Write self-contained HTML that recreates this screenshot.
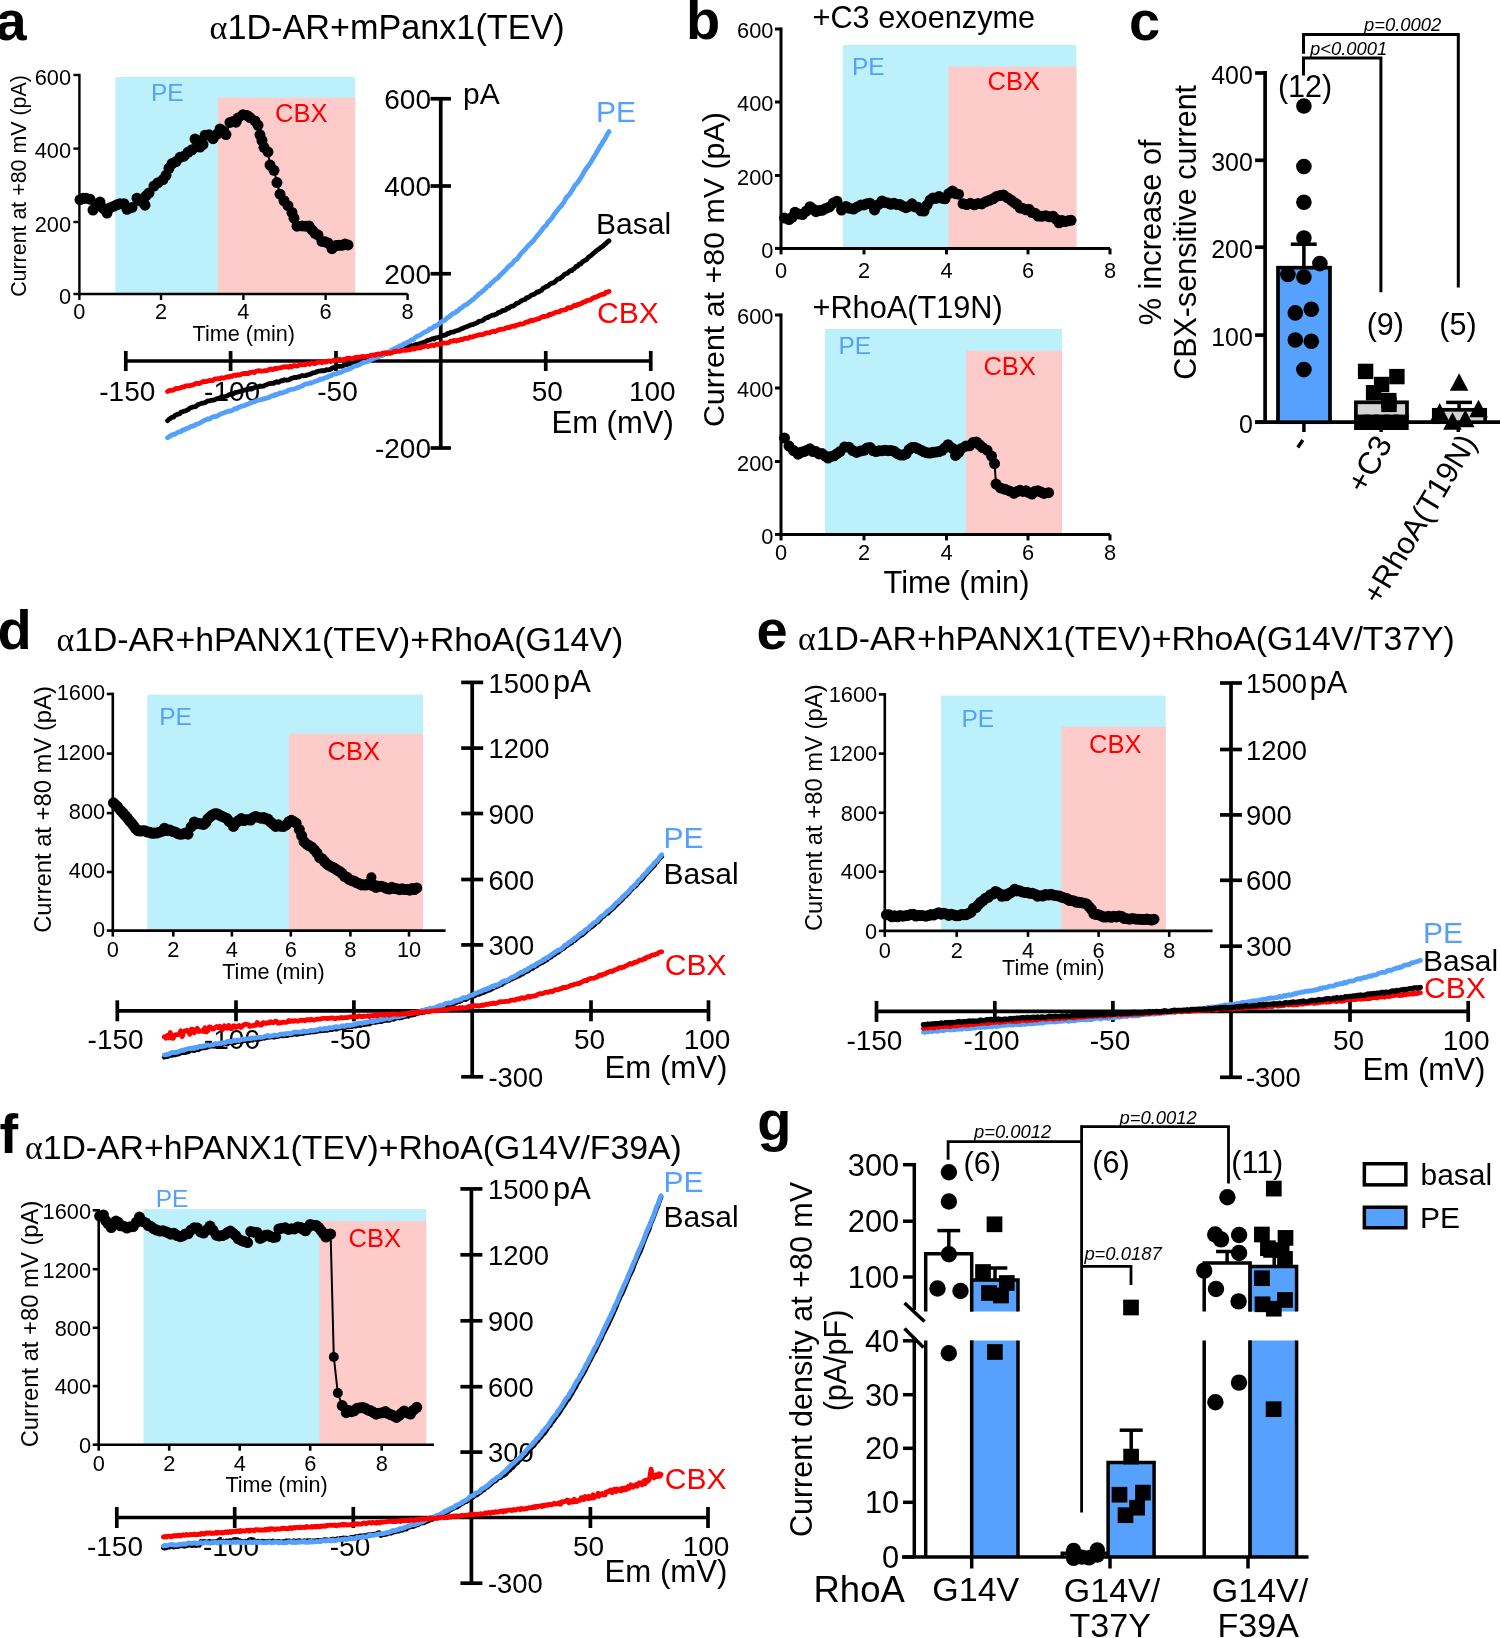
<!DOCTYPE html>
<html><head><meta charset="utf-8"><style>
html,body{margin:0;padding:0;background:#fff;overflow:hidden;width:1500px;height:1638px;}
svg{display:block;will-change:transform;}
text{font-family:"Liberation Sans",sans-serif;}
</style></head><body>
<svg width="1500" height="1638" viewBox="0 0 1500 1638">
<rect width="1500" height="1638" fill="#fff"/>
<text x="-4.4" y="39.5" font-size="56" font-weight="bold">a</text>
<text x="209.5" y="39" font-size="34.2"><tspan font-family="'Liberation Serif', serif">&#945;</tspan>1D-AR+mPanx1(TEV)</text>
<rect x="115.4" y="77" width="239.8" height="217" fill="#bcf1fc"/>
<rect x="218" y="97.6" width="137.2" height="196.4" fill="#fecbcb"/>
<text x="151" y="100.6" font-size="24.5" fill="#55a0fb">PE</text>
<text x="275" y="122" font-size="25.5" fill="#fe0000">CBX</text>
<line x1="79.4" y1="295.2" x2="79.4" y2="73.8" stroke="#000" stroke-width="2.4" stroke-linecap="butt"/>
<line x1="78.2" y1="294" x2="407.6" y2="294" stroke="#000" stroke-width="2.4" stroke-linecap="butt"/>
<line x1="73.4" y1="75" x2="79.4" y2="75" stroke="#000" stroke-width="2.4" stroke-linecap="butt"/>
<text x="71.1" y="84.6" font-size="21.8" text-anchor="end">600</text>
<line x1="73.4" y1="148.6" x2="79.4" y2="148.6" stroke="#000" stroke-width="2.4" stroke-linecap="butt"/>
<text x="71.1" y="158.2" font-size="21.8" text-anchor="end">400</text>
<line x1="73.4" y1="222" x2="79.4" y2="222" stroke="#000" stroke-width="2.4" stroke-linecap="butt"/>
<text x="71.1" y="231.6" font-size="21.8" text-anchor="end">200</text>
<line x1="73.4" y1="294" x2="79.4" y2="294" stroke="#000" stroke-width="2.4" stroke-linecap="butt"/>
<text x="71.1" y="303.6" font-size="21.8" text-anchor="end">0</text>
<line x1="79.4" y1="294" x2="79.4" y2="300" stroke="#000" stroke-width="2.4" stroke-linecap="butt"/>
<text x="79.4" y="318.5" font-size="21.8" text-anchor="middle">0</text>
<line x1="161" y1="294" x2="161" y2="300" stroke="#000" stroke-width="2.4" stroke-linecap="butt"/>
<text x="161" y="318.5" font-size="21.8" text-anchor="middle">2</text>
<line x1="243.4" y1="294" x2="243.4" y2="300" stroke="#000" stroke-width="2.4" stroke-linecap="butt"/>
<text x="243.4" y="318.5" font-size="21.8" text-anchor="middle">4</text>
<line x1="325.6" y1="294" x2="325.6" y2="300" stroke="#000" stroke-width="2.4" stroke-linecap="butt"/>
<text x="325.6" y="318.5" font-size="21.8" text-anchor="middle">6</text>
<line x1="407.6" y1="294" x2="407.6" y2="300" stroke="#000" stroke-width="2.4" stroke-linecap="butt"/>
<text x="407.6" y="318.5" font-size="21.8" text-anchor="middle">8</text>
<text x="243.8" y="341" font-size="21.6" text-anchor="middle">Time (min)</text>
<text x="26" y="186" font-size="21.4" text-anchor="middle" transform="rotate(-90 26 186)">Current at +80 mV (pA)</text>
<polyline points="80,199.65 83,198.3 86,198.3 90,199.14 93,210.07 96.5,206.23 100,202.12 103.5,208.51 107,213.07 110,207.87 114,206.14 117,204.68 120,203.85 124,203.65 127,209.25 132,207.45 137,198.25 140,200.9 145,205.15 146,195.79 149,192.95 154,186.09 158,182.72 163,179.58 166,175.29 169,168.24 172,163.62 176,161.63 180,157.36 184,156.16 188,152.28 192,149.74 195,139.1 198,141.13 200,147.12 203,144.41 205,135.36 209,134.86 213,138.63 217,134.17 220,128.91 223,131.1 226,134.59 230,122.4 233,121.49 236,122.15 238,118.05 243,114.75 247,115.46 250,117.58 255,120.96 258,125.24 260,134.84 262,140.51 264,147.3 268,151.98 270,165.08 274,170.34 277,182.53 280,194.15 284,200.75 288,205.63 292,212.39 294,218.19 297,226.16 302,225.91 305.5,226.18 309,225.89 312,229.95 315,233.33 318,235.12 322,241.4 325,241.79 328,242.99 332,248.64 336,245.57 339,245.27 342,245.34 345,244.05 348,244.92" fill="none" stroke="#000" stroke-width="2" stroke-linejoin="round" stroke-linecap="butt"/>
<circle cx="80" cy="199.65" r="5.5" fill="#000"/>
<circle cx="83" cy="198.3" r="5.5" fill="#000"/>
<circle cx="86" cy="198.3" r="5.5" fill="#000"/>
<circle cx="90" cy="199.14" r="5.5" fill="#000"/>
<circle cx="93" cy="210.07" r="5.5" fill="#000"/>
<circle cx="96.5" cy="206.23" r="5.5" fill="#000"/>
<circle cx="100" cy="202.12" r="5.5" fill="#000"/>
<circle cx="103.5" cy="208.51" r="5.5" fill="#000"/>
<circle cx="107" cy="213.07" r="5.5" fill="#000"/>
<circle cx="110" cy="207.87" r="5.5" fill="#000"/>
<circle cx="114" cy="206.14" r="5.5" fill="#000"/>
<circle cx="117" cy="204.68" r="5.5" fill="#000"/>
<circle cx="120" cy="203.85" r="5.5" fill="#000"/>
<circle cx="124" cy="203.65" r="5.5" fill="#000"/>
<circle cx="127" cy="209.25" r="5.5" fill="#000"/>
<circle cx="132" cy="207.45" r="5.5" fill="#000"/>
<circle cx="137" cy="198.25" r="5.5" fill="#000"/>
<circle cx="140" cy="200.9" r="5.5" fill="#000"/>
<circle cx="145" cy="205.15" r="5.5" fill="#000"/>
<circle cx="146" cy="195.79" r="5.5" fill="#000"/>
<circle cx="149" cy="192.95" r="5.5" fill="#000"/>
<circle cx="154" cy="186.09" r="5.5" fill="#000"/>
<circle cx="158" cy="182.72" r="5.5" fill="#000"/>
<circle cx="163" cy="179.58" r="5.5" fill="#000"/>
<circle cx="166" cy="175.29" r="5.5" fill="#000"/>
<circle cx="169" cy="168.24" r="5.5" fill="#000"/>
<circle cx="172" cy="163.62" r="5.5" fill="#000"/>
<circle cx="176" cy="161.63" r="5.5" fill="#000"/>
<circle cx="180" cy="157.36" r="5.5" fill="#000"/>
<circle cx="184" cy="156.16" r="5.5" fill="#000"/>
<circle cx="188" cy="152.28" r="5.5" fill="#000"/>
<circle cx="192" cy="149.74" r="5.5" fill="#000"/>
<circle cx="195" cy="139.1" r="5.5" fill="#000"/>
<circle cx="198" cy="141.13" r="5.5" fill="#000"/>
<circle cx="200" cy="147.12" r="5.5" fill="#000"/>
<circle cx="203" cy="144.41" r="5.5" fill="#000"/>
<circle cx="205" cy="135.36" r="5.5" fill="#000"/>
<circle cx="209" cy="134.86" r="5.5" fill="#000"/>
<circle cx="213" cy="138.63" r="5.5" fill="#000"/>
<circle cx="217" cy="134.17" r="5.5" fill="#000"/>
<circle cx="220" cy="128.91" r="5.5" fill="#000"/>
<circle cx="223" cy="131.1" r="5.5" fill="#000"/>
<circle cx="226" cy="134.59" r="5.5" fill="#000"/>
<circle cx="230" cy="122.4" r="5.5" fill="#000"/>
<circle cx="233" cy="121.49" r="5.5" fill="#000"/>
<circle cx="236" cy="122.15" r="5.5" fill="#000"/>
<circle cx="238" cy="118.05" r="5.5" fill="#000"/>
<circle cx="243" cy="114.75" r="5.5" fill="#000"/>
<circle cx="247" cy="115.46" r="5.5" fill="#000"/>
<circle cx="250" cy="117.58" r="5.5" fill="#000"/>
<circle cx="255" cy="120.96" r="5.5" fill="#000"/>
<circle cx="258" cy="125.24" r="5.5" fill="#000"/>
<circle cx="260" cy="134.84" r="5.5" fill="#000"/>
<circle cx="262" cy="140.51" r="5.5" fill="#000"/>
<circle cx="264" cy="147.3" r="5.5" fill="#000"/>
<circle cx="268" cy="151.98" r="5.5" fill="#000"/>
<circle cx="270" cy="165.08" r="5.5" fill="#000"/>
<circle cx="274" cy="170.34" r="5.5" fill="#000"/>
<circle cx="277" cy="182.53" r="5.5" fill="#000"/>
<circle cx="280" cy="194.15" r="5.5" fill="#000"/>
<circle cx="284" cy="200.75" r="5.5" fill="#000"/>
<circle cx="288" cy="205.63" r="5.5" fill="#000"/>
<circle cx="292" cy="212.39" r="5.5" fill="#000"/>
<circle cx="294" cy="218.19" r="5.5" fill="#000"/>
<circle cx="297" cy="226.16" r="5.5" fill="#000"/>
<circle cx="302" cy="225.91" r="5.5" fill="#000"/>
<circle cx="305.5" cy="226.18" r="5.5" fill="#000"/>
<circle cx="309" cy="225.89" r="5.5" fill="#000"/>
<circle cx="312" cy="229.95" r="5.5" fill="#000"/>
<circle cx="315" cy="233.33" r="5.5" fill="#000"/>
<circle cx="318" cy="235.12" r="5.5" fill="#000"/>
<circle cx="322" cy="241.4" r="5.5" fill="#000"/>
<circle cx="325" cy="241.79" r="5.5" fill="#000"/>
<circle cx="328" cy="242.99" r="5.5" fill="#000"/>
<circle cx="332" cy="248.64" r="5.5" fill="#000"/>
<circle cx="336" cy="245.57" r="5.5" fill="#000"/>
<circle cx="339" cy="245.27" r="5.5" fill="#000"/>
<circle cx="342" cy="245.34" r="5.5" fill="#000"/>
<circle cx="345" cy="244.05" r="5.5" fill="#000"/>
<circle cx="348" cy="244.92" r="5.5" fill="#000"/>
<line x1="125.8" y1="361" x2="650.75" y2="361" stroke="#000" stroke-width="3.7" stroke-linecap="butt"/>
<line x1="440.75" y1="98.75" x2="440.75" y2="448" stroke="#000" stroke-width="3.7" stroke-linecap="butt"/>
<line x1="125.8" y1="351" x2="125.8" y2="371" stroke="#000" stroke-width="3.7" stroke-linecap="butt"/>
<line x1="230.6" y1="351" x2="230.6" y2="371" stroke="#000" stroke-width="3.7" stroke-linecap="butt"/>
<line x1="336" y1="351" x2="336" y2="371" stroke="#000" stroke-width="3.7" stroke-linecap="butt"/>
<line x1="545.75" y1="351" x2="545.75" y2="371" stroke="#000" stroke-width="3.7" stroke-linecap="butt"/>
<line x1="650.75" y1="351" x2="650.75" y2="371" stroke="#000" stroke-width="3.7" stroke-linecap="butt"/>
<line x1="430.55" y1="98.75" x2="450.95" y2="98.75" stroke="#000" stroke-width="3.7" stroke-linecap="butt"/>
<line x1="430.55" y1="186" x2="450.95" y2="186" stroke="#000" stroke-width="3.7" stroke-linecap="butt"/>
<line x1="430.55" y1="273.75" x2="450.95" y2="273.75" stroke="#000" stroke-width="3.7" stroke-linecap="butt"/>
<line x1="430.55" y1="448" x2="450.95" y2="448" stroke="#000" stroke-width="3.7" stroke-linecap="butt"/>
<text x="431" y="108.77" font-size="28" text-anchor="end">600</text>
<text x="431" y="196.02" font-size="28" text-anchor="end">400</text>
<text x="431" y="283.77" font-size="28" text-anchor="end">200</text>
<text x="431" y="458.02" font-size="28" text-anchor="end">-200</text>
<text x="127.3" y="400.8" font-size="28" text-anchor="middle">-150</text>
<text x="232.1" y="400.8" font-size="28" text-anchor="middle">-100</text>
<text x="337.5" y="400.8" font-size="28" text-anchor="middle">-50</text>
<text x="547.25" y="400.8" font-size="28" text-anchor="middle">50</text>
<text x="652.25" y="400.8" font-size="28" text-anchor="middle">100</text>
<text x="463" y="103.75" font-size="30">pA</text>
<text x="551.5" y="432.9" font-size="31">Em (mV)</text>
<polyline points="167.6,420.67 169.1,419.25 170.59,418.21 172.09,417.18 173.59,417.11 175.08,415.45 176.58,414.72 178.07,414.05 179.57,413.82 181.07,412.08 182.56,411.75 184.06,411.13 185.56,410.8 187.05,410.02 188.55,409.4 190.04,408.03 191.54,407.55 193.04,406.85 194.53,406.87 196.03,406.37 197.53,404.81 199.02,404.28 200.52,403.79 202.01,403.24 203.51,403.01 205.01,402.61 206.5,401.7 208,400.89 209.5,400.88 210.99,400.33 212.49,400.07 213.98,400.05 215.48,399.26 216.98,398.57 218.47,398.22 219.97,397.83 221.47,396.62 222.96,397.18 224.46,396.59 225.95,396.25 227.45,395.72 228.95,394.79 230.44,394.36 231.94,393.58 233.44,393.79 234.93,392.68 236.43,392.26 237.92,392.01 239.42,391.54 240.92,391.34 242.41,390.59 243.91,390.12 245.41,389.9 246.9,389.44 248.4,389.35 249.89,388.55 251.39,389.18 252.89,388.47 254.38,387.52 255.88,387.26 257.38,386.99 258.87,386.62 260.37,385.95 261.87,386.43 263.36,386.23 264.86,385.21 266.35,384.85 267.85,384 269.35,383.64 270.84,383.55 272.34,383.08 273.84,383.37 275.33,382.2 276.83,381.65 278.32,382.39 279.82,381.51 281.32,380.67 282.81,380.77 284.31,379.77 285.81,380 287.3,380.16 288.8,379.65 290.29,379.07 291.79,378.18 293.29,377.93 294.78,377.31 296.28,377.66 297.78,377 299.27,376.92 300.77,376 302.26,375.5 303.76,375.83 305.26,375.66 306.75,375.12 308.25,374.69 309.75,374.33 311.24,373.86 312.74,372.86 314.23,372.83 315.73,372.26 317.23,371.49 318.72,371.11 320.22,371.03 321.72,370.62 323.21,370.76 324.71,370.7 326.2,369.7 327.7,369.91 329.2,369.58 330.69,369.16 332.19,368.06 333.69,367.51 335.18,367.13 336.68,366.7 338.17,366.32 339.67,366.44 341.17,366.38 342.66,365.92 344.16,365.09 345.66,364.9 347.15,364.69 348.65,363.43 350.15,363.73 351.64,363.63 353.14,363.08 354.63,362.64 356.13,361.91 357.63,361.15 359.12,361.48 360.62,360.53 362.12,360.69 363.61,360.49 365.11,359.39 366.6,358.98 368.1,359.23 369.6,358.55 371.09,357.47 372.59,357 374.09,356.62 375.58,357.1 377.08,356.56 378.57,355.35 380.07,355.74 381.57,355.5 383.06,354.69 384.56,353.9 386.06,353.7 387.55,352.77 389.05,352.2 390.54,352.91 392.04,352.09 393.54,351.5 395.03,351.55 396.53,350.51 398.03,350.59 399.52,350.09 401.02,348.9 402.51,348.5 404.01,348.1 405.51,347.58 407,347.54 408.5,346.69 410,346.42 411.49,345.6 412.99,346.07 414.48,344.93 415.98,344.59 417.48,344.26 418.97,344.17 420.47,343.11 421.97,343.22 423.46,342.23 424.96,341.78 426.45,341.28 427.95,340.17 429.45,340.18 430.94,339.37 432.44,338.65 433.94,339.09 435.43,337.83 436.93,337.67 438.43,337.45 439.92,336.73 441.42,335.92 442.91,335.62 444.41,335.13 445.91,334.87 447.4,333.51 448.9,333.51 450.4,332.59 451.89,332.07 453.39,332.1 454.88,331.23 456.38,330.72 457.88,330.39 459.37,330 460.87,328.86 462.37,328.48 463.86,327.76 465.36,327.17 466.85,326.79 468.35,325.9 469.85,325.39 471.34,324.72 472.84,324.66 474.34,323.74 475.83,323.33 477.33,322.78 478.82,321.32 480.32,321.04 481.82,320.86 483.31,320.08 484.81,318.58 486.31,317.9 487.8,317.62 489.3,316.5 490.79,316.03 492.29,315.14 493.79,315.17 495.28,314.61 496.78,314.05 498.28,312.45 499.77,312.41 501.27,311.63 502.76,310.29 504.26,310.44 505.76,309.81 507.25,308.17 508.75,308.3 510.25,306.88 511.74,306.23 513.24,306.07 514.73,305.11 516.23,303.52 517.73,303.06 519.22,302.37 520.72,301.36 522.22,300.38 523.71,299.72 525.21,299.38 526.71,297.72 528.2,297.53 529.7,296.55 531.19,295.2 532.69,294.72 534.19,294.21 535.68,293.21 537.18,291.8 538.68,292.02 540.17,290.9 541.67,290.22 543.16,288.28 544.66,287.56 546.16,286.37 547.65,286.33 549.15,284.79 550.65,283.68 552.14,283.08 553.64,282.71 555.13,281.64 556.63,279.99 558.13,278.88 559.62,278.82 561.12,277.4 562.62,276.55 564.11,274.81 565.61,273.75 567.1,273.48 568.6,272.12 570.1,270.65 571.59,270.64 573.09,269.21 574.59,268.34 576.08,266.4 577.58,266.24 579.07,264.2 580.57,264.04 582.07,262.44 583.56,261.18 585.06,260.3 586.56,259.61 588.05,257.67 589.55,256.34 591.04,255.65 592.54,254.13 594.04,252.79 595.53,251.65 597.03,250.31 598.53,249.28 600.02,248.19 601.52,246.95 603.01,246.25 604.51,244.43 606.01,243.42 607.5,241.76 609,240.86" fill="none" stroke="#000" stroke-width="4.8" stroke-linejoin="round" stroke-linecap="round"/>
<polyline points="167.6,437.67 169.1,436.73 170.59,435.59 172.09,435.12 173.59,434.11 175.08,434.24 176.58,433.3 178.07,432.14 179.57,431.77 181.07,431.62 182.56,429.93 184.06,430.09 185.56,428.94 187.05,428.33 188.55,428.06 190.04,426.86 191.54,426.33 193.04,425.88 194.53,425.58 196.03,424.16 197.53,424.11 199.02,423.31 200.52,422.59 202.01,421.68 203.51,420.99 205.01,420.01 206.5,419.49 208,418.8 209.5,419 210.99,417.81 212.49,417.1 213.98,416.41 215.48,416.72 216.98,416.17 218.47,415.35 219.97,414.3 221.47,413.67 222.96,413.16 224.46,412.79 225.95,411.86 227.45,411.64 228.95,410.86 230.44,411.14 231.94,410.6 233.44,409.54 234.93,408.63 236.43,408.94 237.92,407.61 239.42,407.13 240.92,406.16 242.41,406.08 243.91,405.66 245.41,405.16 246.9,404.27 248.4,404.11 249.89,402.99 251.39,402.77 252.89,402.04 254.38,401.89 255.88,400.95 257.38,400.41 258.87,400.23 260.37,399.63 261.87,399.54 263.36,398.96 264.86,398.72 266.35,398.1 267.85,397.66 269.35,397.35 270.84,396.25 272.34,395.67 273.84,395.96 275.33,394.45 276.83,394.64 278.32,394.03 279.82,392.81 281.32,393.26 282.81,392.82 284.31,392 285.81,391.63 287.3,391.22 288.8,389.91 290.29,389.86 291.79,389.33 293.29,389.23 294.78,388.68 296.28,388.2 297.78,387.41 299.27,387.27 300.77,386.51 302.26,386.01 303.76,384.94 305.26,384.19 306.75,383.8 308.25,383.56 309.75,382.74 311.24,383.1 312.74,382.24 314.23,381.81 315.73,381.28 317.23,380.82 318.72,380.07 320.22,378.95 321.72,379.38 323.21,378.78 324.71,377.95 326.2,377.45 327.7,377.06 329.2,375.81 330.69,376.07 332.19,374.94 333.69,374.17 335.18,373.85 336.68,373.85 338.17,372.66 339.67,372.74 341.17,372.45 342.66,371.31 344.16,370.6 345.66,370.14 347.15,369.8 348.65,369.32 350.15,368.55 351.64,367.99 353.14,366.72 354.63,366.2 356.13,365.73 357.63,365.7 359.12,364.57 360.62,364.27 362.12,362.98 363.61,362.41 365.11,362.03 366.6,361.88 368.1,361.26 369.6,360.6 371.09,359.49 372.59,359.1 374.09,358.38 375.58,357.72 377.08,356.63 378.57,356.89 380.07,355.37 381.57,355.62 383.06,354.88 384.56,353.08 386.06,352.9 387.55,352.63 389.05,352.09 390.54,350.74 392.04,349.8 393.54,348.99 395.03,349.13 396.53,347.51 398.03,347.2 399.52,345.91 401.02,345.6 402.51,345.34 404.01,343.58 405.51,343.61 407,342.45 408.5,342.1 410,341.07 411.49,339.69 412.99,339.66 414.48,338.34 415.98,336.95 417.48,336.07 418.97,335.81 420.47,334.9 421.97,333.85 423.46,332.78 424.96,332.13 426.45,331.21 427.95,330.93 429.45,329.02 430.94,329 432.44,328.17 433.94,326.38 435.43,326.4 436.93,325.19 438.43,324.45 439.92,322.75 441.42,321.86 442.91,320.9 444.41,320.62 445.91,319.12 447.4,317.83 448.9,316.88 450.4,315.66 451.89,314.34 453.39,313.35 454.88,313.16 456.38,311.42 457.88,311.11 459.37,309.19 460.87,308.1 462.37,307.28 463.86,305.76 465.36,304.84 466.85,304.39 468.35,303.14 469.85,301.88 471.34,300.48 472.84,299.62 474.34,298.45 475.83,296.76 477.33,295.74 478.82,293.69 480.32,293.26 481.82,291.66 483.31,290.74 484.81,289.33 486.31,287.6 487.8,286 489.3,285.73 490.79,283.43 492.29,282.5 493.79,280.98 495.28,279.55 496.78,278.7 498.28,277.58 499.77,275.31 501.27,274.36 502.76,272.5 504.26,271.35 505.76,269.69 507.25,267.94 508.75,266.45 510.25,265 511.74,264.32 513.24,262.29 514.73,260.41 516.23,259.68 517.73,258.21 519.22,255.97 520.72,253.99 522.22,252.44 523.71,250.69 525.21,249.35 526.71,247.39 528.2,245.89 529.7,244.22 531.19,242.89 532.69,241.56 534.19,239.66 535.68,237.5 537.18,235.74 538.68,234.09 540.17,232.12 541.67,230.26 543.16,228.11 544.66,226.52 546.16,225.5 547.65,222.61 549.15,221.18 550.65,219.42 552.14,217.78 553.64,215.07 555.13,213.18 556.63,211.18 558.13,209.37 559.62,207.43 561.12,206.02 562.62,203.85 564.11,201.83 565.61,198.73 567.1,196.66 568.6,195.37 570.1,193.47 571.59,190.82 573.09,188.8 574.59,185.92 576.08,184.19 577.58,182.63 579.07,180.28 580.57,178.07 582.07,175.94 583.56,172.79 585.06,170.32 586.56,168.06 588.05,166.16 589.55,163.99 591.04,161.93 592.54,159.27 594.04,156.77 595.53,154.48 597.03,151.66 598.53,149.31 600.02,146.2 601.52,144.59 603.01,141.4 604.51,139.68 606.01,136.78 607.5,133.78 609,131.41" fill="none" stroke="#55a0fb" stroke-width="4.8" stroke-linejoin="round" stroke-linecap="round"/>
<polyline points="167.6,391.48 169.1,390.59 170.59,390.31 172.09,390.34 173.59,389.98 175.08,388.86 176.58,388.39 178.07,388.52 179.57,388.18 181.07,387.54 182.56,386.94 184.06,387 185.56,385.9 187.05,385.86 188.55,385.66 190.04,385.88 191.54,385.12 193.04,385.04 194.53,384.17 196.03,383.52 197.53,383.17 199.02,383.67 200.52,383.01 202.01,382.18 203.51,381.49 205.01,381.71 206.5,381.58 208,380.94 209.5,380.41 210.99,380.57 212.49,380.55 213.98,379.39 215.48,378.84 216.98,378.88 218.47,378.66 219.97,378.67 221.47,377.78 222.96,378.19 224.46,377.82 225.95,377.23 227.45,376.58 228.95,377.2 230.44,376.12 231.94,376.44 233.44,375.44 234.93,375.15 236.43,375.51 237.92,374.68 239.42,375.19 240.92,374.37 242.41,373.73 243.91,373.5 245.41,373.47 246.9,373.5 248.4,373.58 249.89,372.36 251.39,372.4 252.89,371.92 254.38,372.58 255.88,371.34 257.38,370.98 258.87,370.74 260.37,370.9 261.87,371.26 263.36,371 264.86,370.58 266.35,370.66 267.85,370.34 269.35,369.39 270.84,368.98 272.34,369.65 273.84,369.2 275.33,368.11 276.83,368.64 278.32,368.08 279.82,367.85 281.32,367.58 282.81,367.16 284.31,366.74 285.81,366.86 287.3,366.72 288.8,367.23 290.29,366.02 291.79,366.82 293.29,365.7 294.78,365.66 296.28,366.01 297.78,365.8 299.27,365.13 300.77,364.46 302.26,364.76 303.76,364.44 305.26,364.89 306.75,363.81 308.25,363.81 309.75,364.25 311.24,363 312.74,363.26 314.23,363.54 315.73,363.28 317.23,362.21 318.72,362 320.22,361.84 321.72,362.67 323.21,361.67 324.71,362.06 326.2,362.04 327.7,361.17 329.2,360.89 330.69,361.51 332.19,360.91 333.69,360.28 335.18,360.63 336.68,359.95 338.17,359.7 339.67,359.17 341.17,359.88 342.66,359.87 344.16,359.33 345.66,359.5 347.15,358.19 348.65,358.24 350.15,358.33 351.64,358.71 353.14,358.5 354.63,357.61 356.13,357.25 357.63,357.25 359.12,357.12 360.62,357.44 362.12,356.34 363.61,356.87 365.11,356.58 366.6,356.47 368.1,356.2 369.6,355.79 371.09,355.24 372.59,355.02 374.09,354.85 375.58,355.14 377.08,354.08 378.57,354 380.07,354.44 381.57,353.61 383.06,353.17 384.56,352.91 386.06,353.3 387.55,352.8 389.05,353.36 390.54,353.01 392.04,352.9 393.54,351.8 395.03,351.35 396.53,351.12 398.03,351.37 399.52,351.38 401.02,350.82 402.51,350.32 404.01,350.29 405.51,350.28 407,350.1 408.5,349.93 410,349.8 411.49,349.32 412.99,348.41 414.48,349.02 415.98,348.1 417.48,348.16 418.97,347.66 420.47,347.83 421.97,346.92 423.46,346.7 424.96,346.42 426.45,346.04 427.95,346.64 429.45,345.99 430.94,345.4 432.44,345.2 433.94,345.63 435.43,344.76 436.93,344.14 438.43,344.54 439.92,344.05 441.42,344.16 442.91,342.79 444.41,342.94 445.91,343.05 447.4,342.77 448.9,342.54 450.4,341.18 451.89,341.17 453.39,340.65 454.88,340.41 456.38,341.03 457.88,340.24 459.37,340.33 460.87,339.33 462.37,339.59 463.86,338.76 465.36,338.19 466.85,338.47 468.35,338.33 469.85,336.98 471.34,337.22 472.84,336.9 474.34,336.07 475.83,335.89 477.33,335.26 478.82,334.98 480.32,334.67 481.82,334.72 483.31,334.41 484.81,333.5 486.31,332.9 487.8,332.9 489.3,332.94 490.79,331.97 492.29,331.73 493.79,331.21 495.28,331.53 496.78,330.84 498.28,329.86 499.77,329.51 501.27,329.46 502.76,329.24 504.26,328.93 505.76,327.86 507.25,327.53 508.75,327.75 510.25,326.99 511.74,326.41 513.24,326.01 514.73,326.36 516.23,325.15 517.73,325.02 519.22,324.33 520.72,323.95 522.22,324.04 523.71,323.75 525.21,322.54 526.71,321.88 528.2,322.06 529.7,320.96 531.19,320.26 532.69,320.86 534.19,319.81 535.68,319.81 537.18,318.83 538.68,318.92 540.17,317.93 541.67,317.08 543.16,316.4 544.66,316.55 546.16,316.15 547.65,315.97 549.15,314.48 550.65,314.6 552.14,313.79 553.64,313.43 555.13,312.47 556.63,312.11 558.13,311.86 559.62,311.81 561.12,310.29 562.62,310.21 564.11,310.04 565.61,309.68 567.1,308.21 568.6,307.56 570.1,307.98 571.59,307.45 573.09,306.29 574.59,305.21 576.08,305.68 577.58,304.45 579.07,304.48 580.57,303.55 582.07,303.2 583.56,301.81 585.06,301.96 586.56,300.68 588.05,300.29 589.55,300.2 591.04,299.57 592.54,298.17 594.04,297.59 595.53,297.17 597.03,296.68 598.53,295.88 600.02,294.93 601.52,294.43 603.01,294.35 604.51,293.9 606.01,292.21 607.5,292.18 609,291.43" fill="none" stroke="#fe0000" stroke-width="4.8" stroke-linejoin="round" stroke-linecap="round"/>
<text x="596" y="122" font-size="30" fill="#55a0fb">PE</text>
<text x="596" y="234" font-size="30">Basal</text>
<text x="597" y="323" font-size="30" fill="#fe0000">CBX</text>
<text x="686" y="39" font-size="56" font-weight="bold">b</text>
<text x="812.5" y="27.6" font-size="30.7">+C3 exoenzyme</text>
<rect x="843" y="45" width="233.4" height="203.4" fill="#bcf1fc"/>
<rect x="948.6" y="66.6" width="127.8" height="181.8" fill="#fecbcb"/>
<text x="852" y="75" font-size="24.5" fill="#55a0fb">PE</text>
<text x="987.6" y="90" font-size="25.5" fill="#fe0000">CBX</text>
<line x1="781" y1="249.9" x2="781" y2="27.5" stroke="#000" stroke-width="3" stroke-linecap="butt"/>
<line x1="779.5" y1="248.4" x2="1110" y2="248.4" stroke="#000" stroke-width="3" stroke-linecap="butt"/>
<line x1="775" y1="29" x2="781" y2="29" stroke="#000" stroke-width="3" stroke-linecap="butt"/>
<text x="773.4" y="38.2" font-size="21.8" text-anchor="end">600</text>
<line x1="775" y1="102" x2="781" y2="102" stroke="#000" stroke-width="3" stroke-linecap="butt"/>
<text x="773.4" y="111.2" font-size="21.8" text-anchor="end">400</text>
<line x1="775" y1="175.5" x2="781" y2="175.5" stroke="#000" stroke-width="3" stroke-linecap="butt"/>
<text x="773.4" y="184.7" font-size="21.8" text-anchor="end">200</text>
<line x1="775" y1="248.4" x2="781" y2="248.4" stroke="#000" stroke-width="3" stroke-linecap="butt"/>
<text x="773.4" y="257.6" font-size="21.8" text-anchor="end">0</text>
<line x1="781" y1="248.4" x2="781" y2="254.4" stroke="#000" stroke-width="3" stroke-linecap="butt"/>
<text x="781" y="278" font-size="21.8" text-anchor="middle">0</text>
<line x1="864" y1="248.4" x2="864" y2="254.4" stroke="#000" stroke-width="3" stroke-linecap="butt"/>
<text x="864" y="278" font-size="21.8" text-anchor="middle">2</text>
<line x1="946.5" y1="248.4" x2="946.5" y2="254.4" stroke="#000" stroke-width="3" stroke-linecap="butt"/>
<text x="946.5" y="278" font-size="21.8" text-anchor="middle">4</text>
<line x1="1028" y1="248.4" x2="1028" y2="254.4" stroke="#000" stroke-width="3" stroke-linecap="butt"/>
<text x="1028" y="278" font-size="21.8" text-anchor="middle">6</text>
<line x1="1110" y1="248.4" x2="1110" y2="254.4" stroke="#000" stroke-width="3" stroke-linecap="butt"/>
<text x="1110" y="278" font-size="21.8" text-anchor="middle">8</text>
<polyline points="784.51,218.04 789.01,219.6 792.01,217.45 795.01,212.26 798.76,213.97 802.51,214.62 806.26,211.03 810.01,206.63 813.01,209.11 816.01,211.69 819.01,210.62 822.01,210.34 825.76,208.41 829.51,206.9 833.26,203.07 837.01,201.26 841.52,210 846.02,206.49 849.77,208.3 853.52,209.08 857.27,206.94 861.02,204.88 864.02,204.97 867.02,203.73 870.02,203.28 874.52,209.88 878.27,204.7 882.02,200.9 885.02,202.54 888.02,203.1 891.02,204.29 894.02,203.18 897.02,204.49 900.02,204.58 903.02,206.29 906.02,207.63 909.02,206.28 912.02,203.78 915.02,206.92 918.02,207.29 921.02,210.74 924.02,211.01 927.02,205.23 930.02,200.15 933.02,197.91 936.02,198.48 939.02,196.5 942.03,198.18 945.03,198.85 948.78,193.6 952.53,191.1 955.53,193.63 958.53,194.15 963.03,203.72 966.78,204.53 970.53,203.34 974.28,204.81 978.03,203.57 981.78,203.9 985.53,201.81 989.28,200.27 993.03,198.86 996.53,196.44 1000.03,195.55 1003.53,195.03 1007.28,197.66 1011.03,200.09 1014.03,202.38 1017.03,204.34 1020.03,207.89 1023.03,208.38 1026.03,209.81 1029.03,209.36 1032.03,212.59 1035.03,213.25 1038.03,216.08 1041.79,216.29 1045.54,215.74 1049.29,216.77 1053.04,216.13 1056.04,219.18 1059.04,222.79 1062.04,220.48 1065.04,221.51 1068.04,220.78 1071.04,220.31" fill="none" stroke="#000" stroke-width="2" stroke-linejoin="round" stroke-linecap="butt"/>
<circle cx="784.51" cy="218.04" r="5.5" fill="#000"/>
<circle cx="789.01" cy="219.6" r="5.5" fill="#000"/>
<circle cx="792.01" cy="217.45" r="5.5" fill="#000"/>
<circle cx="795.01" cy="212.26" r="5.5" fill="#000"/>
<circle cx="798.76" cy="213.97" r="5.5" fill="#000"/>
<circle cx="802.51" cy="214.62" r="5.5" fill="#000"/>
<circle cx="806.26" cy="211.03" r="5.5" fill="#000"/>
<circle cx="810.01" cy="206.63" r="5.5" fill="#000"/>
<circle cx="813.01" cy="209.11" r="5.5" fill="#000"/>
<circle cx="816.01" cy="211.69" r="5.5" fill="#000"/>
<circle cx="819.01" cy="210.62" r="5.5" fill="#000"/>
<circle cx="822.01" cy="210.34" r="5.5" fill="#000"/>
<circle cx="825.76" cy="208.41" r="5.5" fill="#000"/>
<circle cx="829.51" cy="206.9" r="5.5" fill="#000"/>
<circle cx="833.26" cy="203.07" r="5.5" fill="#000"/>
<circle cx="837.01" cy="201.26" r="5.5" fill="#000"/>
<circle cx="841.52" cy="210" r="5.5" fill="#000"/>
<circle cx="846.02" cy="206.49" r="5.5" fill="#000"/>
<circle cx="849.77" cy="208.3" r="5.5" fill="#000"/>
<circle cx="853.52" cy="209.08" r="5.5" fill="#000"/>
<circle cx="857.27" cy="206.94" r="5.5" fill="#000"/>
<circle cx="861.02" cy="204.88" r="5.5" fill="#000"/>
<circle cx="864.02" cy="204.97" r="5.5" fill="#000"/>
<circle cx="867.02" cy="203.73" r="5.5" fill="#000"/>
<circle cx="870.02" cy="203.28" r="5.5" fill="#000"/>
<circle cx="874.52" cy="209.88" r="5.5" fill="#000"/>
<circle cx="878.27" cy="204.7" r="5.5" fill="#000"/>
<circle cx="882.02" cy="200.9" r="5.5" fill="#000"/>
<circle cx="885.02" cy="202.54" r="5.5" fill="#000"/>
<circle cx="888.02" cy="203.1" r="5.5" fill="#000"/>
<circle cx="891.02" cy="204.29" r="5.5" fill="#000"/>
<circle cx="894.02" cy="203.18" r="5.5" fill="#000"/>
<circle cx="897.02" cy="204.49" r="5.5" fill="#000"/>
<circle cx="900.02" cy="204.58" r="5.5" fill="#000"/>
<circle cx="903.02" cy="206.29" r="5.5" fill="#000"/>
<circle cx="906.02" cy="207.63" r="5.5" fill="#000"/>
<circle cx="909.02" cy="206.28" r="5.5" fill="#000"/>
<circle cx="912.02" cy="203.78" r="5.5" fill="#000"/>
<circle cx="915.02" cy="206.92" r="5.5" fill="#000"/>
<circle cx="918.02" cy="207.29" r="5.5" fill="#000"/>
<circle cx="921.02" cy="210.74" r="5.5" fill="#000"/>
<circle cx="924.02" cy="211.01" r="5.5" fill="#000"/>
<circle cx="927.02" cy="205.23" r="5.5" fill="#000"/>
<circle cx="930.02" cy="200.15" r="5.5" fill="#000"/>
<circle cx="933.02" cy="197.91" r="5.5" fill="#000"/>
<circle cx="936.02" cy="198.48" r="5.5" fill="#000"/>
<circle cx="939.02" cy="196.5" r="5.5" fill="#000"/>
<circle cx="942.03" cy="198.18" r="5.5" fill="#000"/>
<circle cx="945.03" cy="198.85" r="5.5" fill="#000"/>
<circle cx="948.78" cy="193.6" r="5.5" fill="#000"/>
<circle cx="952.53" cy="191.1" r="5.5" fill="#000"/>
<circle cx="955.53" cy="193.63" r="5.5" fill="#000"/>
<circle cx="958.53" cy="194.15" r="5.5" fill="#000"/>
<circle cx="963.03" cy="203.72" r="5.5" fill="#000"/>
<circle cx="966.78" cy="204.53" r="5.5" fill="#000"/>
<circle cx="970.53" cy="203.34" r="5.5" fill="#000"/>
<circle cx="974.28" cy="204.81" r="5.5" fill="#000"/>
<circle cx="978.03" cy="203.57" r="5.5" fill="#000"/>
<circle cx="981.78" cy="203.9" r="5.5" fill="#000"/>
<circle cx="985.53" cy="201.81" r="5.5" fill="#000"/>
<circle cx="989.28" cy="200.27" r="5.5" fill="#000"/>
<circle cx="993.03" cy="198.86" r="5.5" fill="#000"/>
<circle cx="996.53" cy="196.44" r="5.5" fill="#000"/>
<circle cx="1000.03" cy="195.55" r="5.5" fill="#000"/>
<circle cx="1003.53" cy="195.03" r="5.5" fill="#000"/>
<circle cx="1007.28" cy="197.66" r="5.5" fill="#000"/>
<circle cx="1011.03" cy="200.09" r="5.5" fill="#000"/>
<circle cx="1014.03" cy="202.38" r="5.5" fill="#000"/>
<circle cx="1017.03" cy="204.34" r="5.5" fill="#000"/>
<circle cx="1020.03" cy="207.89" r="5.5" fill="#000"/>
<circle cx="1023.03" cy="208.38" r="5.5" fill="#000"/>
<circle cx="1026.03" cy="209.81" r="5.5" fill="#000"/>
<circle cx="1029.03" cy="209.36" r="5.5" fill="#000"/>
<circle cx="1032.03" cy="212.59" r="5.5" fill="#000"/>
<circle cx="1035.03" cy="213.25" r="5.5" fill="#000"/>
<circle cx="1038.03" cy="216.08" r="5.5" fill="#000"/>
<circle cx="1041.79" cy="216.29" r="5.5" fill="#000"/>
<circle cx="1045.54" cy="215.74" r="5.5" fill="#000"/>
<circle cx="1049.29" cy="216.77" r="5.5" fill="#000"/>
<circle cx="1053.04" cy="216.13" r="5.5" fill="#000"/>
<circle cx="1056.04" cy="219.18" r="5.5" fill="#000"/>
<circle cx="1059.04" cy="222.79" r="5.5" fill="#000"/>
<circle cx="1062.04" cy="220.48" r="5.5" fill="#000"/>
<circle cx="1065.04" cy="221.51" r="5.5" fill="#000"/>
<circle cx="1068.04" cy="220.78" r="5.5" fill="#000"/>
<circle cx="1071.04" cy="220.31" r="5.5" fill="#000"/>
<text x="812.5" y="317.5" font-size="30.7">+RhoA(T19N)</text>
<rect x="825" y="329" width="237" height="205.4" fill="#bcf1fc"/>
<rect x="966" y="350.8" width="96" height="183.6" fill="#fecbcb"/>
<text x="838.5" y="354" font-size="24.5" fill="#55a0fb">PE</text>
<text x="983.4" y="375.4" font-size="25.5" fill="#fe0000">CBX</text>
<line x1="781" y1="535.9" x2="781" y2="313.5" stroke="#000" stroke-width="3" stroke-linecap="butt"/>
<line x1="779.5" y1="534.4" x2="1110" y2="534.4" stroke="#000" stroke-width="3" stroke-linecap="butt"/>
<line x1="775" y1="315" x2="781" y2="315" stroke="#000" stroke-width="3" stroke-linecap="butt"/>
<text x="773.4" y="324.2" font-size="21.8" text-anchor="end">600</text>
<line x1="775" y1="388" x2="781" y2="388" stroke="#000" stroke-width="3" stroke-linecap="butt"/>
<text x="773.4" y="397.2" font-size="21.8" text-anchor="end">400</text>
<line x1="775" y1="461.5" x2="781" y2="461.5" stroke="#000" stroke-width="3" stroke-linecap="butt"/>
<text x="773.4" y="470.7" font-size="21.8" text-anchor="end">200</text>
<line x1="775" y1="534.4" x2="781" y2="534.4" stroke="#000" stroke-width="3" stroke-linecap="butt"/>
<text x="773.4" y="543.6" font-size="21.8" text-anchor="end">0</text>
<line x1="781" y1="534.4" x2="781" y2="540.4" stroke="#000" stroke-width="3" stroke-linecap="butt"/>
<text x="781" y="560" font-size="21.8" text-anchor="middle">0</text>
<line x1="864" y1="534.4" x2="864" y2="540.4" stroke="#000" stroke-width="3" stroke-linecap="butt"/>
<text x="864" y="560" font-size="21.8" text-anchor="middle">2</text>
<line x1="946.5" y1="534.4" x2="946.5" y2="540.4" stroke="#000" stroke-width="3" stroke-linecap="butt"/>
<text x="946.5" y="560" font-size="21.8" text-anchor="middle">4</text>
<line x1="1028" y1="534.4" x2="1028" y2="540.4" stroke="#000" stroke-width="3" stroke-linecap="butt"/>
<text x="1028" y="560" font-size="21.8" text-anchor="middle">6</text>
<line x1="1110" y1="534.4" x2="1110" y2="540.4" stroke="#000" stroke-width="3" stroke-linecap="butt"/>
<text x="1110" y="560" font-size="21.8" text-anchor="middle">8</text>
<polyline points="784.51,438.11 789.01,446.05 793.51,450.5 798.01,454.17 801.01,452.24 804.01,451.55 807.01,450.15 810.01,448.87 813.01,451.5 816.01,451.61 819.01,453.91 822.01,453.52 825.01,455.8 828.01,457.99 831.01,456.44 834.01,455.84 837.01,453.64 840.02,451.52 844.52,447.08 849.02,447.32 852.77,450.5 856.52,452.38 860.27,451.04 864.02,450.31 867.02,448.03 870.02,447.47 873.02,450.57 876.02,451.56 879.02,450.77 882.02,450.73 885.02,450.23 888.02,450.73 891.02,450.47 894.02,451.18 897.02,453.45 900.02,454.93 903.02,455.02 906.02,453.97 909.02,449.54 912.02,447.39 915.02,447.5 918.02,448.82 921.02,450.21 924.02,451.79 927.02,452.76 930.02,453.08 933.02,452.32 936.02,452.05 939.02,451.54 942.03,450.31 945.03,447.64 948.03,444.72 952.53,448.31 955.53,455.41 958.53,452.64 961.53,448.48 966.03,446.01 969.53,445.82 973.03,442.6 976.53,442.08 979.53,444.83 982.53,447.49 987.03,450.13 991.53,456.08 994.53,463.54 996.03,484.12 1000.53,487.9 1005.03,489.31 1009.53,490.92 1014.03,493.24 1017.03,491.54 1020.03,490.3 1023.03,491.4 1026.03,490.87 1029.03,492.64 1032.03,494.12 1035.03,491.37 1038.03,490.8 1041.04,492.09 1044.04,493.45 1048.54,492.63" fill="none" stroke="#000" stroke-width="2" stroke-linejoin="round" stroke-linecap="butt"/>
<circle cx="784.51" cy="438.11" r="5.5" fill="#000"/>
<circle cx="789.01" cy="446.05" r="5.5" fill="#000"/>
<circle cx="793.51" cy="450.5" r="5.5" fill="#000"/>
<circle cx="798.01" cy="454.17" r="5.5" fill="#000"/>
<circle cx="801.01" cy="452.24" r="5.5" fill="#000"/>
<circle cx="804.01" cy="451.55" r="5.5" fill="#000"/>
<circle cx="807.01" cy="450.15" r="5.5" fill="#000"/>
<circle cx="810.01" cy="448.87" r="5.5" fill="#000"/>
<circle cx="813.01" cy="451.5" r="5.5" fill="#000"/>
<circle cx="816.01" cy="451.61" r="5.5" fill="#000"/>
<circle cx="819.01" cy="453.91" r="5.5" fill="#000"/>
<circle cx="822.01" cy="453.52" r="5.5" fill="#000"/>
<circle cx="825.01" cy="455.8" r="5.5" fill="#000"/>
<circle cx="828.01" cy="457.99" r="5.5" fill="#000"/>
<circle cx="831.01" cy="456.44" r="5.5" fill="#000"/>
<circle cx="834.01" cy="455.84" r="5.5" fill="#000"/>
<circle cx="837.01" cy="453.64" r="5.5" fill="#000"/>
<circle cx="840.02" cy="451.52" r="5.5" fill="#000"/>
<circle cx="844.52" cy="447.08" r="5.5" fill="#000"/>
<circle cx="849.02" cy="447.32" r="5.5" fill="#000"/>
<circle cx="852.77" cy="450.5" r="5.5" fill="#000"/>
<circle cx="856.52" cy="452.38" r="5.5" fill="#000"/>
<circle cx="860.27" cy="451.04" r="5.5" fill="#000"/>
<circle cx="864.02" cy="450.31" r="5.5" fill="#000"/>
<circle cx="867.02" cy="448.03" r="5.5" fill="#000"/>
<circle cx="870.02" cy="447.47" r="5.5" fill="#000"/>
<circle cx="873.02" cy="450.57" r="5.5" fill="#000"/>
<circle cx="876.02" cy="451.56" r="5.5" fill="#000"/>
<circle cx="879.02" cy="450.77" r="5.5" fill="#000"/>
<circle cx="882.02" cy="450.73" r="5.5" fill="#000"/>
<circle cx="885.02" cy="450.23" r="5.5" fill="#000"/>
<circle cx="888.02" cy="450.73" r="5.5" fill="#000"/>
<circle cx="891.02" cy="450.47" r="5.5" fill="#000"/>
<circle cx="894.02" cy="451.18" r="5.5" fill="#000"/>
<circle cx="897.02" cy="453.45" r="5.5" fill="#000"/>
<circle cx="900.02" cy="454.93" r="5.5" fill="#000"/>
<circle cx="903.02" cy="455.02" r="5.5" fill="#000"/>
<circle cx="906.02" cy="453.97" r="5.5" fill="#000"/>
<circle cx="909.02" cy="449.54" r="5.5" fill="#000"/>
<circle cx="912.02" cy="447.39" r="5.5" fill="#000"/>
<circle cx="915.02" cy="447.5" r="5.5" fill="#000"/>
<circle cx="918.02" cy="448.82" r="5.5" fill="#000"/>
<circle cx="921.02" cy="450.21" r="5.5" fill="#000"/>
<circle cx="924.02" cy="451.79" r="5.5" fill="#000"/>
<circle cx="927.02" cy="452.76" r="5.5" fill="#000"/>
<circle cx="930.02" cy="453.08" r="5.5" fill="#000"/>
<circle cx="933.02" cy="452.32" r="5.5" fill="#000"/>
<circle cx="936.02" cy="452.05" r="5.5" fill="#000"/>
<circle cx="939.02" cy="451.54" r="5.5" fill="#000"/>
<circle cx="942.03" cy="450.31" r="5.5" fill="#000"/>
<circle cx="945.03" cy="447.64" r="5.5" fill="#000"/>
<circle cx="948.03" cy="444.72" r="5.5" fill="#000"/>
<circle cx="952.53" cy="448.31" r="5.5" fill="#000"/>
<circle cx="955.53" cy="455.41" r="5.5" fill="#000"/>
<circle cx="958.53" cy="452.64" r="5.5" fill="#000"/>
<circle cx="961.53" cy="448.48" r="5.5" fill="#000"/>
<circle cx="966.03" cy="446.01" r="5.5" fill="#000"/>
<circle cx="969.53" cy="445.82" r="5.5" fill="#000"/>
<circle cx="973.03" cy="442.6" r="5.5" fill="#000"/>
<circle cx="976.53" cy="442.08" r="5.5" fill="#000"/>
<circle cx="979.53" cy="444.83" r="5.5" fill="#000"/>
<circle cx="982.53" cy="447.49" r="5.5" fill="#000"/>
<circle cx="987.03" cy="450.13" r="5.5" fill="#000"/>
<circle cx="991.53" cy="456.08" r="5.5" fill="#000"/>
<circle cx="994.53" cy="463.54" r="5.5" fill="#000"/>
<circle cx="996.03" cy="484.12" r="5.5" fill="#000"/>
<circle cx="1000.53" cy="487.9" r="5.5" fill="#000"/>
<circle cx="1005.03" cy="489.31" r="5.5" fill="#000"/>
<circle cx="1009.53" cy="490.92" r="5.5" fill="#000"/>
<circle cx="1014.03" cy="493.24" r="5.5" fill="#000"/>
<circle cx="1017.03" cy="491.54" r="5.5" fill="#000"/>
<circle cx="1020.03" cy="490.3" r="5.5" fill="#000"/>
<circle cx="1023.03" cy="491.4" r="5.5" fill="#000"/>
<circle cx="1026.03" cy="490.87" r="5.5" fill="#000"/>
<circle cx="1029.03" cy="492.64" r="5.5" fill="#000"/>
<circle cx="1032.03" cy="494.12" r="5.5" fill="#000"/>
<circle cx="1035.03" cy="491.37" r="5.5" fill="#000"/>
<circle cx="1038.03" cy="490.8" r="5.5" fill="#000"/>
<circle cx="1041.04" cy="492.09" r="5.5" fill="#000"/>
<circle cx="1044.04" cy="493.45" r="5.5" fill="#000"/>
<circle cx="1048.54" cy="492.63" r="5.5" fill="#000"/>
<text x="956.5" y="592.8" font-size="30.8" text-anchor="middle">Time (min)</text>
<text x="724" y="269.6" font-size="30.4" text-anchor="middle" transform="rotate(-90 724 269.6)">Current at +80 mV (pA)</text>
<text x="1129" y="39.5" font-size="56" font-weight="bold">c</text>
<line x1="1265.1" y1="71.1" x2="1265.1" y2="422.2" stroke="#000" stroke-width="3.7" stroke-linecap="butt"/>
<line x1="1255.1" y1="422.2" x2="1500" y2="422.2" stroke="#000" stroke-width="3.7" stroke-linecap="butt"/>
<line x1="1255.1" y1="73" x2="1265.1" y2="73" stroke="#000" stroke-width="3.7" stroke-linecap="butt"/>
<text x="1252.8" y="83.7" font-size="24.9" text-anchor="end">400</text>
<line x1="1255.1" y1="160.3" x2="1265.1" y2="160.3" stroke="#000" stroke-width="3.7" stroke-linecap="butt"/>
<text x="1252.8" y="171" font-size="24.9" text-anchor="end">300</text>
<line x1="1255.1" y1="247.2" x2="1265.1" y2="247.2" stroke="#000" stroke-width="3.7" stroke-linecap="butt"/>
<text x="1252.8" y="257.9" font-size="24.9" text-anchor="end">200</text>
<line x1="1255.1" y1="335.1" x2="1265.1" y2="335.1" stroke="#000" stroke-width="3.7" stroke-linecap="butt"/>
<text x="1252.8" y="345.8" font-size="24.9" text-anchor="end">100</text>
<line x1="1255.1" y1="422.2" x2="1265.1" y2="422.2" stroke="#000" stroke-width="3.7" stroke-linecap="butt"/>
<text x="1252.8" y="432.9" font-size="24.9" text-anchor="end">0</text>
<line x1="1303.9" y1="422.2" x2="1303.9" y2="432" stroke="#000" stroke-width="3.5" stroke-linecap="butt"/>
<line x1="1381.1" y1="422.2" x2="1381.1" y2="432" stroke="#000" stroke-width="3.5" stroke-linecap="butt"/>
<line x1="1458.3" y1="422.2" x2="1458.3" y2="432" stroke="#000" stroke-width="3.5" stroke-linecap="butt"/>
<text x="1161" y="232.4" font-size="30.7" text-anchor="middle" transform="rotate(-90 1161 232.4)">% increase of</text>
<text x="1196" y="232.4" font-size="30.5" text-anchor="middle" transform="rotate(-90 1196 232.4)">CBX-sensitive current</text>
<rect x="1278" y="267.7" width="52" height="154.5" fill="#55a1fd" stroke="#000" stroke-width="3.7"/>
<line x1="1303.9" y1="267.7" x2="1303.9" y2="244.2" stroke="#000" stroke-width="3.5" stroke-linecap="butt"/>
<line x1="1290.8" y1="244.2" x2="1316.7" y2="244.2" stroke="#000" stroke-width="3.5" stroke-linecap="butt"/>
<rect x="1355.9" y="402.3" width="51.1" height="19.9" fill="#d3d3d3" stroke="#000" stroke-width="3.7"/>
<rect x="1433.8" y="409.8" width="51.4" height="12.4" fill="#d3d3d3" stroke="#000" stroke-width="3.7"/>
<line x1="1459.1" y1="409.8" x2="1459.1" y2="402.4" stroke="#000" stroke-width="3.5" stroke-linecap="butt"/>
<line x1="1446.1" y1="402.4" x2="1472" y2="402.4" stroke="#000" stroke-width="3.5" stroke-linecap="butt"/>
<circle cx="1303.9" cy="106" r="7.8" fill="#000"/>
<circle cx="1303.9" cy="166.5" r="7.8" fill="#000"/>
<circle cx="1303.9" cy="202.3" r="7.8" fill="#000"/>
<circle cx="1303.9" cy="238" r="7.8" fill="#000"/>
<circle cx="1319.9" cy="263.6" r="7.8" fill="#000"/>
<circle cx="1287.9" cy="274.5" r="7.8" fill="#000"/>
<circle cx="1303.9" cy="277" r="7.8" fill="#000"/>
<circle cx="1295.3" cy="312.9" r="7.8" fill="#000"/>
<circle cx="1311.3" cy="309.2" r="7.8" fill="#000"/>
<circle cx="1295.3" cy="340" r="7.8" fill="#000"/>
<circle cx="1311.3" cy="341.3" r="7.8" fill="#000"/>
<circle cx="1303.9" cy="369.6" r="7.8" fill="#000"/>
<rect x="1357.9" y="363.7" width="15.4" height="15.4" fill="#000"/>
<rect x="1389.2" y="368.9" width="15.4" height="15.4" fill="#000"/>
<rect x="1373.9" y="376.8" width="15.4" height="15.4" fill="#000"/>
<rect x="1365.9" y="385" width="15.4" height="15.4" fill="#000"/>
<rect x="1381.1" y="392.9" width="15.4" height="15.4" fill="#000"/>
<rect x="1381.3" y="396.7" width="15.4" height="15.4" fill="#000"/>
<rect x="1354.1" y="414.6" width="15.4" height="15.4" fill="#000"/>
<rect x="1363.8" y="414.6" width="15.4" height="15.4" fill="#000"/>
<rect x="1373.9" y="414.6" width="15.4" height="15.4" fill="#000"/>
<rect x="1383.6" y="414.6" width="15.4" height="15.4" fill="#000"/>
<rect x="1393.3" y="414.6" width="15.4" height="15.4" fill="#000"/>
<polygon points="1459.1,373.17 1468.4,390.83 1449.8,390.83" fill="#000"/>
<polygon points="1478.5,399.67 1487.8,417.33 1469.2,417.33" fill="#000"/>
<polygon points="1439.7,402.97 1449,420.63 1430.4,420.63" fill="#000"/>
<polygon points="1452.5,412.17 1461.8,429.83 1443.2,429.83" fill="#000"/>
<polygon points="1465.3,409.67 1474.6,427.33 1456,427.33" fill="#000"/>
<text x="1305" y="96.6" font-size="30.5" text-anchor="middle">(12)</text>
<text x="1385.3" y="335.2" font-size="30.5" text-anchor="middle">(9)</text>
<text x="1458" y="335.2" font-size="30.5" text-anchor="middle">(5)</text>
<polyline points="1303.5,75.4 1303.5,57.9 1380.9,57.9 1380.9,292.3" fill="none" stroke="#000" stroke-width="3" stroke-linejoin="miter" stroke-linecap="butt"/>
<polyline points="1303.5,53.8 1303.5,34.6 1458.3,34.6 1458.3,287.4" fill="none" stroke="#000" stroke-width="3" stroke-linejoin="miter" stroke-linecap="butt"/>
<text x="1310" y="54.6" font-size="18.4" font-style="italic">p&lt;0.0001</text>
<text x="1364" y="31.4" font-size="18.4" font-style="italic">p=0.0002</text>
<line x1="1297.8" y1="447.5" x2="1302.8" y2="440" stroke="#000" stroke-width="3.4" stroke-linecap="butt"/>
<text x="1393" y="443.5" font-size="31.5" text-anchor="end" transform="rotate(-61 1393 443.5)">+C3</text>
<text x="1477.5" y="442.5" font-size="30.8" text-anchor="end" transform="rotate(-59 1477.5 442.5)">+RhoA(T19N)</text>
<text x="-2.5" y="648.7" font-size="56" font-weight="bold">d</text>
<text x="56.5" y="650.5" font-size="33.75"><tspan font-family="'Liberation Serif', serif">&#945;</tspan>1D-AR+hPANX1(TEV)+RhoA(G14V)</text>
<rect x="147.3" y="694.6" width="275.7" height="236" fill="#bcf1fc"/>
<rect x="289" y="733.8" width="134" height="196.8" fill="#fecbcb"/>
<text x="159.2" y="725.4" font-size="24.5" fill="#55a0fb">PE</text>
<text x="327.5" y="759.8" font-size="25.5" fill="#fe0000">CBX</text>
<line x1="112.8" y1="931.9" x2="112.8" y2="692.7" stroke="#000" stroke-width="2.6" stroke-linecap="butt"/>
<line x1="111.5" y1="930.6" x2="445.6" y2="930.6" stroke="#000" stroke-width="2.6" stroke-linecap="butt"/>
<line x1="106.8" y1="694" x2="112.8" y2="694" stroke="#000" stroke-width="2.6" stroke-linecap="butt"/>
<text x="105.2" y="700" font-size="21.8" text-anchor="end">1600</text>
<line x1="106.8" y1="753.6" x2="112.8" y2="753.6" stroke="#000" stroke-width="2.6" stroke-linecap="butt"/>
<text x="105.2" y="759.6" font-size="21.8" text-anchor="end">1200</text>
<line x1="106.8" y1="813.1" x2="112.8" y2="813.1" stroke="#000" stroke-width="2.6" stroke-linecap="butt"/>
<text x="105.2" y="819.1" font-size="21.8" text-anchor="end">800</text>
<line x1="106.8" y1="872" x2="112.8" y2="872" stroke="#000" stroke-width="2.6" stroke-linecap="butt"/>
<text x="105.2" y="878" font-size="21.8" text-anchor="end">400</text>
<line x1="106.8" y1="930.6" x2="112.8" y2="930.6" stroke="#000" stroke-width="2.6" stroke-linecap="butt"/>
<text x="105.2" y="936.6" font-size="21.8" text-anchor="end">0</text>
<line x1="112.8" y1="930.6" x2="112.8" y2="936.6" stroke="#000" stroke-width="2.6" stroke-linecap="butt"/>
<text x="112.8" y="957" font-size="21.8" text-anchor="middle">0</text>
<line x1="173.3" y1="930.6" x2="173.3" y2="936.6" stroke="#000" stroke-width="2.6" stroke-linecap="butt"/>
<text x="173.3" y="957" font-size="21.8" text-anchor="middle">2</text>
<line x1="231.9" y1="930.6" x2="231.9" y2="936.6" stroke="#000" stroke-width="2.6" stroke-linecap="butt"/>
<text x="231.9" y="957" font-size="21.8" text-anchor="middle">4</text>
<line x1="290.8" y1="930.6" x2="290.8" y2="936.6" stroke="#000" stroke-width="2.6" stroke-linecap="butt"/>
<text x="290.8" y="957" font-size="21.8" text-anchor="middle">6</text>
<line x1="350.4" y1="930.6" x2="350.4" y2="936.6" stroke="#000" stroke-width="2.6" stroke-linecap="butt"/>
<text x="350.4" y="957" font-size="21.8" text-anchor="middle">8</text>
<line x1="409" y1="930.6" x2="409" y2="936.6" stroke="#000" stroke-width="2.6" stroke-linecap="butt"/>
<text x="409" y="957" font-size="21.8" text-anchor="middle">10</text>
<text x="273.4" y="978.6" font-size="21.6" text-anchor="middle">Time (min)</text>
<text x="51.2" y="809.5" font-size="23.8" text-anchor="middle" transform="rotate(-90 51.2 809.5)">Current at +80 mV (pA)</text>
<polyline points="113.44,802.82 115.48,804.97 117.52,806.76 120.65,810.45 123,813 125.35,815.69 127.44,818.06 129.53,820.92 131.62,823.15 133.71,825.83 135.8,828.75 137.89,830.73 140.24,831.03 142.59,830.76 144.94,830.65 147.29,832.01 149.64,832.17 151.99,833.26 154.34,833.12 156.69,833 159.3,832.19 161.91,831.27 164.53,828.2 167.14,830.57 169.75,829.89 172.36,831.42 174.97,831.9 177.58,833.43 180.19,834.36 182.81,833.96 185.42,833.12 188.03,834.23 191.16,826.86 194.3,821.98 196.65,823.71 199,823.55 201.35,824.06 203.7,824.4 205.79,822.41 207.88,818.78 209.97,816.91 212.32,815.06 214.67,813.81 217.02,813.76 219.37,815.12 221.98,816.37 224.59,817.42 227.2,818.79 229.29,821.7 231.38,822.7 233.47,826.46 236.08,822.83 238.69,820.51 241.3,818.58 243.65,820.62 246,819.84 248.35,819.83 250.71,819.99 253.06,817.67 255.41,816.62 257.5,817.02 259.58,817.67 261.67,818.27 263.76,817.45 265.85,819.03 267.94,819.09 270.55,822.09 273.16,824.18 275.78,826.42 278.39,824.77 281,826.37 283.61,826.46 286.22,824.96 288.83,821.72 291.44,820.35 293.8,821.72 296.15,823.14 299.28,829.46 301.63,835.66 303.98,841.57 306.59,844.04 309.2,845.75 311.81,847.15 314.43,849.9 317.04,853.03 319.65,857.49 322,858.73 324.35,861.31 326.7,863.87 329.05,865.42 331.66,866.93 334.27,868.03 336.88,869.94 339.5,871.33 342.11,873.33 344.72,876.7 347.07,877.35 349.42,879.61 351.77,880.71 354.12,881.11 356.47,882.65 358.82,883.48 361.17,884.94 363.52,884.87 365.61,885.06 367.7,884.21 369.79,883.04 371.88,885.38 373.97,884.88 376.06,887.38 378.67,886.35 381.28,886.27 383.89,886.93 386.5,888.31 389.12,889.01 391.73,887.32 394.34,888.55 396.95,888.82 399.56,889.69 402.17,888.72 404.78,889.61 407.4,889.57 409.75,890.15 412.1,888.62 414.45,889.59 416.8,887.88" fill="none" stroke="#000" stroke-width="2" stroke-linejoin="round" stroke-linecap="butt"/>
<circle cx="113.44" cy="802.82" r="5.5" fill="#000"/>
<circle cx="115.48" cy="804.97" r="5.5" fill="#000"/>
<circle cx="117.52" cy="806.76" r="5.5" fill="#000"/>
<circle cx="120.65" cy="810.45" r="5.5" fill="#000"/>
<circle cx="123" cy="813" r="5.5" fill="#000"/>
<circle cx="125.35" cy="815.69" r="5.5" fill="#000"/>
<circle cx="127.44" cy="818.06" r="5.5" fill="#000"/>
<circle cx="129.53" cy="820.92" r="5.5" fill="#000"/>
<circle cx="131.62" cy="823.15" r="5.5" fill="#000"/>
<circle cx="133.71" cy="825.83" r="5.5" fill="#000"/>
<circle cx="135.8" cy="828.75" r="5.5" fill="#000"/>
<circle cx="137.89" cy="830.73" r="5.5" fill="#000"/>
<circle cx="140.24" cy="831.03" r="5.5" fill="#000"/>
<circle cx="142.59" cy="830.76" r="5.5" fill="#000"/>
<circle cx="144.94" cy="830.65" r="5.5" fill="#000"/>
<circle cx="147.29" cy="832.01" r="5.5" fill="#000"/>
<circle cx="149.64" cy="832.17" r="5.5" fill="#000"/>
<circle cx="151.99" cy="833.26" r="5.5" fill="#000"/>
<circle cx="154.34" cy="833.12" r="5.5" fill="#000"/>
<circle cx="156.69" cy="833" r="5.5" fill="#000"/>
<circle cx="159.3" cy="832.19" r="5.5" fill="#000"/>
<circle cx="161.91" cy="831.27" r="5.5" fill="#000"/>
<circle cx="164.53" cy="828.2" r="5.5" fill="#000"/>
<circle cx="167.14" cy="830.57" r="5.5" fill="#000"/>
<circle cx="169.75" cy="829.89" r="5.5" fill="#000"/>
<circle cx="172.36" cy="831.42" r="5.5" fill="#000"/>
<circle cx="174.97" cy="831.9" r="5.5" fill="#000"/>
<circle cx="177.58" cy="833.43" r="5.5" fill="#000"/>
<circle cx="180.19" cy="834.36" r="5.5" fill="#000"/>
<circle cx="182.81" cy="833.96" r="5.5" fill="#000"/>
<circle cx="185.42" cy="833.12" r="5.5" fill="#000"/>
<circle cx="188.03" cy="834.23" r="5.5" fill="#000"/>
<circle cx="191.16" cy="826.86" r="5.5" fill="#000"/>
<circle cx="194.3" cy="821.98" r="5.5" fill="#000"/>
<circle cx="196.65" cy="823.71" r="5.5" fill="#000"/>
<circle cx="199" cy="823.55" r="5.5" fill="#000"/>
<circle cx="201.35" cy="824.06" r="5.5" fill="#000"/>
<circle cx="203.7" cy="824.4" r="5.5" fill="#000"/>
<circle cx="205.79" cy="822.41" r="5.5" fill="#000"/>
<circle cx="207.88" cy="818.78" r="5.5" fill="#000"/>
<circle cx="209.97" cy="816.91" r="5.5" fill="#000"/>
<circle cx="212.32" cy="815.06" r="5.5" fill="#000"/>
<circle cx="214.67" cy="813.81" r="5.5" fill="#000"/>
<circle cx="217.02" cy="813.76" r="5.5" fill="#000"/>
<circle cx="219.37" cy="815.12" r="5.5" fill="#000"/>
<circle cx="221.98" cy="816.37" r="5.5" fill="#000"/>
<circle cx="224.59" cy="817.42" r="5.5" fill="#000"/>
<circle cx="227.2" cy="818.79" r="5.5" fill="#000"/>
<circle cx="229.29" cy="821.7" r="5.5" fill="#000"/>
<circle cx="231.38" cy="822.7" r="5.5" fill="#000"/>
<circle cx="233.47" cy="826.46" r="5.5" fill="#000"/>
<circle cx="236.08" cy="822.83" r="5.5" fill="#000"/>
<circle cx="238.69" cy="820.51" r="5.5" fill="#000"/>
<circle cx="241.3" cy="818.58" r="5.5" fill="#000"/>
<circle cx="243.65" cy="820.62" r="5.5" fill="#000"/>
<circle cx="246" cy="819.84" r="5.5" fill="#000"/>
<circle cx="248.35" cy="819.83" r="5.5" fill="#000"/>
<circle cx="250.71" cy="819.99" r="5.5" fill="#000"/>
<circle cx="253.06" cy="817.67" r="5.5" fill="#000"/>
<circle cx="255.41" cy="816.62" r="5.5" fill="#000"/>
<circle cx="257.5" cy="817.02" r="5.5" fill="#000"/>
<circle cx="259.58" cy="817.67" r="5.5" fill="#000"/>
<circle cx="261.67" cy="818.27" r="5.5" fill="#000"/>
<circle cx="263.76" cy="817.45" r="5.5" fill="#000"/>
<circle cx="265.85" cy="819.03" r="5.5" fill="#000"/>
<circle cx="267.94" cy="819.09" r="5.5" fill="#000"/>
<circle cx="270.55" cy="822.09" r="5.5" fill="#000"/>
<circle cx="273.16" cy="824.18" r="5.5" fill="#000"/>
<circle cx="275.78" cy="826.42" r="5.5" fill="#000"/>
<circle cx="278.39" cy="824.77" r="5.5" fill="#000"/>
<circle cx="281" cy="826.37" r="5.5" fill="#000"/>
<circle cx="283.61" cy="826.46" r="5.5" fill="#000"/>
<circle cx="286.22" cy="824.96" r="5.5" fill="#000"/>
<circle cx="288.83" cy="821.72" r="5.5" fill="#000"/>
<circle cx="291.44" cy="820.35" r="5.5" fill="#000"/>
<circle cx="293.8" cy="821.72" r="5.5" fill="#000"/>
<circle cx="296.15" cy="823.14" r="5.5" fill="#000"/>
<circle cx="299.28" cy="829.46" r="5.5" fill="#000"/>
<circle cx="301.63" cy="835.66" r="5.5" fill="#000"/>
<circle cx="303.98" cy="841.57" r="5.5" fill="#000"/>
<circle cx="306.59" cy="844.04" r="5.5" fill="#000"/>
<circle cx="309.2" cy="845.75" r="5.5" fill="#000"/>
<circle cx="311.81" cy="847.15" r="5.5" fill="#000"/>
<circle cx="314.43" cy="849.9" r="5.5" fill="#000"/>
<circle cx="317.04" cy="853.03" r="5.5" fill="#000"/>
<circle cx="319.65" cy="857.49" r="5.5" fill="#000"/>
<circle cx="322" cy="858.73" r="5.5" fill="#000"/>
<circle cx="324.35" cy="861.31" r="5.5" fill="#000"/>
<circle cx="326.7" cy="863.87" r="5.5" fill="#000"/>
<circle cx="329.05" cy="865.42" r="5.5" fill="#000"/>
<circle cx="331.66" cy="866.93" r="5.5" fill="#000"/>
<circle cx="334.27" cy="868.03" r="5.5" fill="#000"/>
<circle cx="336.88" cy="869.94" r="5.5" fill="#000"/>
<circle cx="339.5" cy="871.33" r="5.5" fill="#000"/>
<circle cx="342.11" cy="873.33" r="5.5" fill="#000"/>
<circle cx="344.72" cy="876.7" r="5.5" fill="#000"/>
<circle cx="347.07" cy="877.35" r="5.5" fill="#000"/>
<circle cx="349.42" cy="879.61" r="5.5" fill="#000"/>
<circle cx="351.77" cy="880.71" r="5.5" fill="#000"/>
<circle cx="354.12" cy="881.11" r="5.5" fill="#000"/>
<circle cx="356.47" cy="882.65" r="5.5" fill="#000"/>
<circle cx="358.82" cy="883.48" r="5.5" fill="#000"/>
<circle cx="361.17" cy="884.94" r="5.5" fill="#000"/>
<circle cx="363.52" cy="884.87" r="5.5" fill="#000"/>
<circle cx="365.61" cy="885.06" r="5.5" fill="#000"/>
<circle cx="367.7" cy="884.21" r="5.5" fill="#000"/>
<circle cx="369.79" cy="883.04" r="5.5" fill="#000"/>
<circle cx="371.88" cy="885.38" r="5.5" fill="#000"/>
<circle cx="373.97" cy="884.88" r="5.5" fill="#000"/>
<circle cx="376.06" cy="887.38" r="5.5" fill="#000"/>
<circle cx="378.67" cy="886.35" r="5.5" fill="#000"/>
<circle cx="381.28" cy="886.27" r="5.5" fill="#000"/>
<circle cx="383.89" cy="886.93" r="5.5" fill="#000"/>
<circle cx="386.5" cy="888.31" r="5.5" fill="#000"/>
<circle cx="389.12" cy="889.01" r="5.5" fill="#000"/>
<circle cx="391.73" cy="887.32" r="5.5" fill="#000"/>
<circle cx="394.34" cy="888.55" r="5.5" fill="#000"/>
<circle cx="396.95" cy="888.82" r="5.5" fill="#000"/>
<circle cx="399.56" cy="889.69" r="5.5" fill="#000"/>
<circle cx="402.17" cy="888.72" r="5.5" fill="#000"/>
<circle cx="404.78" cy="889.61" r="5.5" fill="#000"/>
<circle cx="407.4" cy="889.57" r="5.5" fill="#000"/>
<circle cx="409.75" cy="890.15" r="5.5" fill="#000"/>
<circle cx="412.1" cy="888.62" r="5.5" fill="#000"/>
<circle cx="414.45" cy="889.59" r="5.5" fill="#000"/>
<circle cx="416.8" cy="887.88" r="5.5" fill="#000"/>
<circle cx="371.4" cy="877.3" r="5" fill="#000"/>
<line x1="117.3" y1="1010.8" x2="708.5" y2="1010.8" stroke="#000" stroke-width="3.7" stroke-linecap="butt"/>
<line x1="472.2" y1="682.4" x2="472.2" y2="1076.8" stroke="#000" stroke-width="3.7" stroke-linecap="butt"/>
<line x1="117.3" y1="1000.3" x2="117.3" y2="1021.3" stroke="#000" stroke-width="3.7" stroke-linecap="butt"/>
<line x1="236" y1="1000.3" x2="236" y2="1021.3" stroke="#000" stroke-width="3.7" stroke-linecap="butt"/>
<line x1="353.9" y1="1000.3" x2="353.9" y2="1021.3" stroke="#000" stroke-width="3.7" stroke-linecap="butt"/>
<line x1="591" y1="1000.3" x2="591" y2="1021.3" stroke="#000" stroke-width="3.7" stroke-linecap="butt"/>
<line x1="708.5" y1="1000.3" x2="708.5" y2="1021.3" stroke="#000" stroke-width="3.7" stroke-linecap="butt"/>
<line x1="461.2" y1="682.4" x2="483.2" y2="682.4" stroke="#000" stroke-width="3.7" stroke-linecap="butt"/>
<text x="488.5" y="692.51" font-size="27.4">1500</text>
<line x1="461.2" y1="748.1" x2="483.2" y2="748.1" stroke="#000" stroke-width="3.7" stroke-linecap="butt"/>
<text x="488.5" y="758.21" font-size="27.4">1200</text>
<line x1="461.2" y1="813.5" x2="483.2" y2="813.5" stroke="#000" stroke-width="3.7" stroke-linecap="butt"/>
<text x="488.5" y="823.61" font-size="27.4">900</text>
<line x1="461.2" y1="879.5" x2="483.2" y2="879.5" stroke="#000" stroke-width="3.7" stroke-linecap="butt"/>
<text x="488.5" y="889.61" font-size="27.4">600</text>
<line x1="461.2" y1="944.9" x2="483.2" y2="944.9" stroke="#000" stroke-width="3.7" stroke-linecap="butt"/>
<text x="488.5" y="955.01" font-size="27.4">300</text>
<line x1="461.2" y1="1076.8" x2="483.2" y2="1076.8" stroke="#000" stroke-width="3.7" stroke-linecap="butt"/>
<text x="488.5" y="1086.91" font-size="27.4">-300</text>
<text x="115.6" y="1048.5" font-size="28" text-anchor="middle">-150</text>
<text x="232" y="1048.5" font-size="28" text-anchor="middle">-100</text>
<text x="350.6" y="1048.5" font-size="28" text-anchor="middle">-50</text>
<text x="589.6" y="1048.5" font-size="28" text-anchor="middle">50</text>
<text x="707" y="1048.5" font-size="28" text-anchor="middle">100</text>
<text x="604.5" y="1078" font-size="31.2">Em (mV)</text>
<text x="553" y="692" font-size="30.8">pA</text>
<polyline points="164.3,1057.17 165.8,1056.44 167.3,1056.63 168.79,1056.01 170.29,1055.17 171.79,1055.43 173.29,1054.4 174.79,1054.89 176.29,1054.42 177.78,1054.18 179.28,1053.64 180.78,1052.96 182.28,1052.68 183.78,1052.33 185.27,1052.59 186.77,1051.3 188.27,1051.94 189.77,1050.58 191.27,1050.48 192.77,1050.23 194.26,1050.69 195.76,1049.9 197.26,1049.45 198.76,1049.75 200.26,1048.08 201.75,1048.06 203.25,1047.85 204.75,1047.83 206.25,1047.54 207.75,1047.14 209.25,1046.5 210.74,1046.2 212.24,1045.72 213.74,1046.28 215.24,1045.79 216.74,1045.63 218.23,1044.68 219.73,1044.74 221.23,1044.89 222.73,1044.4 224.23,1043.61 225.73,1043.77 227.22,1044.03 228.72,1043.01 230.22,1042.71 231.72,1042.61 233.22,1042.85 234.72,1042.79 236.21,1041.73 237.71,1041.5 239.21,1041.38 240.71,1041.25 242.21,1041.26 243.7,1040.6 245.2,1040.58 246.7,1040.2 248.2,1040.92 249.7,1040.41 251.2,1039.45 252.69,1040.27 254.19,1039.02 255.69,1039.15 257.19,1039.66 258.69,1039.23 260.18,1038.95 261.68,1038.39 263.18,1037.9 264.68,1038.23 266.18,1037.39 267.68,1037.31 269.17,1037.33 270.67,1036.7 272.17,1036.94 273.67,1037.22 275.17,1036.9 276.66,1036.48 278.16,1036.44 279.66,1036.04 281.16,1035.46 282.66,1035.83 284.16,1035.39 285.65,1035.6 287.15,1035.61 288.65,1034.85 290.15,1034.83 291.65,1034.85 293.14,1034.26 294.64,1033.84 296.14,1034.24 297.64,1034.24 299.14,1033.92 300.64,1033.64 302.13,1033.63 303.63,1033.23 305.13,1032.99 306.63,1032.57 308.13,1032.21 309.62,1032.39 311.12,1031.56 312.62,1031.75 314.12,1031.99 315.62,1031.71 317.12,1031.42 318.61,1030.76 320.11,1030.77 321.61,1030.61 323.11,1030.61 324.61,1030.15 326.1,1030.27 327.6,1030.37 329.1,1029.27 330.6,1029.62 332.1,1029.57 333.6,1028.89 335.09,1028.8 336.59,1029.17 338.09,1027.83 339.59,1028.22 341.09,1027.55 342.58,1028.07 344.08,1028.04 345.58,1027.31 347.08,1026.59 348.58,1026.93 350.08,1026.66 351.57,1026.65 353.07,1026.17 354.57,1026.09 356.07,1026.08 357.57,1025.47 359.07,1025.1 360.56,1025.5 362.06,1024.37 363.56,1024.69 365.06,1024.09 366.56,1024.28 368.05,1023.26 369.55,1024.03 371.05,1023.02 372.55,1022.4 374.05,1022.39 375.55,1022.27 377.04,1021.54 378.54,1021.75 380.04,1021.48 381.54,1021.53 383.04,1020.83 384.53,1020.44 386.03,1020.1 387.53,1020.43 389.03,1020.37 390.53,1019.57 392.03,1018.9 393.52,1019.29 395.02,1018.49 396.52,1017.96 398.02,1017.54 399.52,1018 401.01,1017.71 402.51,1017.17 404.01,1016.64 405.51,1016.42 407.01,1015.67 408.51,1016.21 410,1015.13 411.5,1015.12 413,1014.98 414.5,1014.61 416,1013.83 417.49,1013.25 418.99,1013.18 420.49,1012.3 421.99,1012.76 423.49,1011.8 424.99,1012 426.48,1010.91 427.98,1010.64 429.48,1010.08 430.98,1009.88 432.48,1009.17 433.97,1008.53 435.47,1008.97 436.97,1008.01 438.47,1007.53 439.97,1007.16 441.47,1006.93 442.96,1006.41 444.46,1006.21 445.96,1005.77 447.46,1004.95 448.96,1005.15 450.45,1004.59 451.95,1003.15 453.45,1003.58 454.95,1003.18 456.45,1002.53 457.95,1001.25 459.44,1001.57 460.94,1000.81 462.44,999.55 463.94,999.01 465.44,999.61 466.93,998.71 468.43,997.67 469.93,996.94 471.43,996.43 472.93,995.97 474.43,996.05 475.92,994.95 477.42,994.13 478.92,994.44 480.42,993.71 481.92,992.35 483.42,992.61 484.91,991.65 486.41,991.23 487.91,990.46 489.41,990.09 490.91,989.32 492.4,988.73 493.9,987.29 495.4,987.22 496.9,986.35 498.4,985.92 499.9,984.87 501.39,984.71 502.89,983.61 504.39,982.55 505.89,981.79 507.39,980.95 508.88,980.64 510.38,979.38 511.88,979.12 513.38,977.98 514.88,977.63 516.38,976.86 517.87,976.13 519.37,975.73 520.87,973.91 522.37,974.1 523.87,972.84 525.36,972.14 526.86,971.43 528.36,970.8 529.86,969.4 531.36,968.6 532.86,968.38 534.35,966.45 535.85,966.25 537.35,965.36 538.85,963.73 540.35,963.52 541.84,962.7 543.34,962.07 544.84,960.42 546.34,960.26 547.84,958.75 549.34,957.76 550.83,957.28 552.33,955.27 553.83,955.11 555.33,954 556.83,952.65 558.32,952.27 559.82,950.65 561.32,949.75 562.82,948.77 564.32,948.01 565.82,946.28 567.31,945.47 568.81,944.38 570.31,943.45 571.81,942.67 573.31,940.92 574.8,940.45 576.3,938.81 577.8,937.79 579.3,936.36 580.8,935.48 582.3,934.87 583.79,933.31 585.29,932.28 586.79,930.53 588.29,929.3 589.79,928.06 591.28,927.17 592.78,925.99 594.28,924.91 595.78,922.76 597.28,922.3 598.78,921.21 600.27,919.51 601.77,917.61 603.27,916.59 604.77,914.91 606.27,913.79 607.77,913.32 609.26,911.58 610.76,910.26 612.26,909.04 613.76,907.79 615.26,906.02 616.75,904.61 618.25,903.19 619.75,901.83 621.25,900.26 622.75,898.9 624.25,896.86 625.74,895.92 627.24,894.17 628.74,893.02 630.24,890.7 631.74,889.26 633.23,887.54 634.73,886.87 636.23,885.47 637.73,883.57 639.23,881.63 640.73,880.57 642.22,878.91 643.72,877 645.22,874.99 646.72,873.39 648.22,871.86 649.71,870.06 651.21,868.5 652.71,867.04 654.21,865.67 655.71,862.88 657.21,861.75 658.7,859.36 660.2,857.68 661.7,856.36" fill="none" stroke="#000" stroke-width="4.8" stroke-linejoin="round" stroke-linecap="round"/>
<polyline points="164.3,1054.97 165.8,1054.95 167.3,1054.28 168.79,1054.32 170.29,1053.38 171.79,1052.49 173.29,1052.57 174.79,1052.45 176.29,1052.51 177.78,1052.21 179.28,1051.25 180.78,1050.83 182.28,1050.12 183.78,1050.43 185.27,1049.58 186.77,1049.18 188.27,1048.69 189.77,1048.35 191.27,1048.85 192.77,1047.86 194.26,1048.57 195.76,1047.2 197.26,1047.84 198.76,1046.65 200.26,1046.22 201.75,1046.77 203.25,1045.9 204.75,1046.21 206.25,1045.27 207.75,1044.82 209.25,1045.41 210.74,1045.06 212.24,1044.96 213.74,1044.54 215.24,1043.5 216.74,1043.89 218.23,1043.73 219.73,1043.17 221.23,1043.48 222.73,1042.41 224.23,1043.02 225.73,1042.47 227.22,1041.38 228.72,1041.14 230.22,1041.66 231.72,1041.62 233.22,1040.5 234.72,1040.55 236.21,1040.82 237.71,1039.91 239.21,1040.52 240.71,1039.84 242.21,1039.1 243.7,1039.25 245.2,1039.28 246.7,1038.9 248.2,1038.97 249.7,1038.11 251.2,1038.68 252.69,1037.95 254.19,1038.08 255.69,1037.85 257.19,1037.39 258.69,1037.14 260.18,1037.42 261.68,1037.4 263.18,1037.01 264.68,1036.54 266.18,1036.01 267.68,1035.53 269.17,1036.43 270.67,1035.91 272.17,1035.86 273.67,1035.07 275.17,1035.2 276.66,1035.45 278.16,1035.08 279.66,1034.61 281.16,1034.06 282.66,1034.02 284.16,1034.37 285.65,1033.57 287.15,1033.75 288.65,1033.45 290.15,1033.62 291.65,1033.32 293.14,1032.5 294.64,1031.97 296.14,1032.09 297.64,1032.09 299.14,1032.09 300.64,1032.18 302.13,1032.07 303.63,1030.86 305.13,1031.62 306.63,1031.4 308.13,1031.27 309.62,1030.73 311.12,1030.17 312.62,1030.67 314.12,1030.42 315.62,1030.08 317.12,1030.16 318.61,1029.28 320.11,1028.76 321.61,1029.13 323.11,1029.22 324.61,1028.3 326.1,1028.76 327.6,1028.77 329.1,1027.73 330.6,1027.97 332.1,1027.84 333.6,1027.38 335.09,1026.86 336.59,1026.7 338.09,1027.09 339.59,1026.92 341.09,1026.3 342.58,1025.64 344.08,1026.28 345.58,1026.02 347.08,1025.15 348.58,1025.34 350.08,1025.49 351.57,1025.25 353.07,1024.58 354.57,1024.29 356.07,1024.19 357.57,1023.47 359.07,1023.23 360.56,1022.98 362.06,1023.36 363.56,1022.7 365.06,1022.7 366.56,1022.25 368.05,1022.13 369.55,1021.43 371.05,1021.05 372.55,1021.93 374.05,1020.91 375.55,1020.32 377.04,1020.68 378.54,1020.59 380.04,1019.56 381.54,1019.81 383.04,1019.22 384.53,1019.14 386.03,1018.25 387.53,1017.98 389.03,1018.83 390.53,1018.38 392.03,1017.62 393.52,1017.41 395.02,1016.73 396.52,1017.04 398.02,1016.3 399.52,1016.6 401.01,1016.06 402.51,1015.79 404.01,1015.63 405.51,1014.45 407.01,1013.85 408.51,1013.7 410,1013.32 411.5,1012.85 413,1012.46 414.5,1012.7 416,1012.71 417.49,1011.85 418.99,1012.06 420.49,1011.64 421.99,1010.24 423.49,1010.49 424.99,1009.86 426.48,1009.13 427.98,1009.74 429.48,1008.49 430.98,1008.45 432.48,1008.12 433.97,1008.08 435.47,1007.31 436.97,1006.55 438.47,1006.18 439.97,1005.39 441.47,1005.91 442.96,1005.49 444.46,1004.11 445.96,1003.43 447.46,1003.22 448.96,1002.86 450.45,1003.04 451.95,1002.56 453.45,1001.99 454.95,1000.55 456.45,1000.94 457.95,1000.34 459.44,999.75 460.94,999.64 462.44,998 463.94,997.57 465.44,997.77 466.93,997.45 468.43,996.58 469.93,995.58 471.43,995.37 472.93,995 474.43,993.64 475.92,993.32 477.42,992.66 478.92,991.91 480.42,991.73 481.92,990.75 483.42,990.22 484.91,989.49 486.41,989.51 487.91,988.07 489.41,988.28 490.91,987.01 492.4,986.16 493.9,986.57 495.4,985.05 496.9,985.24 498.4,984.47 499.9,983.81 501.39,982.21 502.89,981.88 504.39,980.75 505.89,981.03 507.39,980.2 508.88,979.2 510.38,978.25 511.88,977.37 513.38,977.19 514.88,976.01 516.38,975.42 517.87,974.06 519.37,973.36 520.87,972.37 522.37,972.35 523.87,971.35 525.36,970.03 526.86,970.08 528.36,968.51 529.86,967.84 531.36,966.68 532.86,965.96 534.35,965.77 535.85,964.28 537.35,963.2 538.85,962.69 540.35,961.57 541.84,961.36 543.34,959.49 544.84,959.6 546.34,957.55 547.84,957.61 549.34,956.38 550.83,954.86 552.33,954.2 553.83,952.99 555.33,951.96 556.83,950.89 558.32,950.07 559.82,949.8 561.32,948.77 562.82,947.65 564.32,945.6 565.82,944.77 567.31,944.43 568.81,942.34 570.31,942.05 571.81,940.43 573.31,940.15 574.8,937.87 576.3,937.69 577.8,935.99 579.3,934.6 580.8,933.28 582.3,933.1 583.79,931.56 585.29,929.96 586.79,929.06 588.29,928.42 589.79,926.36 591.28,925.55 592.78,923.79 594.28,922.59 595.78,922.03 597.28,920.69 598.78,918.79 600.27,917.35 601.77,916.05 603.27,915.36 604.77,913.89 606.27,912.29 607.77,910.86 609.26,909.98 610.76,908.72 612.26,907.46 613.76,905.79 615.26,903.93 616.75,902.35 618.25,901.72 619.75,899.89 621.25,898.81 622.75,896.55 624.25,895.98 625.74,893.92 627.24,893.03 628.74,891.54 630.24,889.57 631.74,887.47 633.23,886.99 634.73,884.91 636.23,883.82 637.73,881.51 639.23,879.81 640.73,878.98 642.22,876.8 643.72,874.93 645.22,873.53 646.72,872.14 648.22,869.76 649.71,868.7 651.21,866.92 652.71,865.29 654.21,863.1 655.71,862.08 657.21,860.45 658.7,858.75 660.2,856.33 661.7,854.76" fill="none" stroke="#55a0fb" stroke-width="4.8" stroke-linejoin="round" stroke-linecap="round"/>
<polyline points="164.3,1036.85 165.8,1038.12 167.3,1035.41 168.79,1037.81 170.29,1032.57 171.79,1038.08 173.29,1038.35 174.79,1034.85 176.29,1034.71 177.78,1034.56 179.28,1034.35 180.78,1030.62 182.28,1036.68 183.78,1031.51 185.27,1031.01 186.77,1030.27 188.27,1031 189.77,1034.34 191.27,1029.18 192.77,1029.38 194.26,1032.85 195.76,1029.57 197.26,1028.3 198.76,1031.54 200.26,1031.18 201.75,1030.65 203.25,1031.45 204.75,1027.84 206.25,1031.93 207.75,1030.86 209.25,1026.98 210.74,1027.23 212.24,1029.01 213.74,1028.85 215.24,1027.51 216.74,1026.53 218.23,1027.79 219.73,1026.27 221.23,1028.34 222.73,1029.45 224.23,1025.84 225.73,1027.68 227.22,1028.3 228.72,1025.45 230.22,1028.28 231.72,1028.58 233.22,1025.98 234.72,1025.96 236.21,1027.57 237.71,1026.07 239.21,1025.38 240.71,1027.42 242.21,1026.58 243.7,1024.7 245.2,1024.18 246.7,1024.4 248.2,1024.63 249.7,1026.47 251.2,1025.66 252.69,1025.87 254.19,1025.36 255.69,1025.31 257.19,1022.52 258.69,1023.91 260.18,1025.17 261.68,1024.93 263.18,1022.68 264.68,1023.08 266.18,1023.57 267.68,1022.66 269.17,1023 270.67,1021.63 272.17,1022.49 273.67,1022.55 275.17,1021.22 276.66,1021.41 278.16,1023.28 279.66,1022.69 281.16,1022.91 282.66,1022.1 284.16,1022.35 285.65,1022.36 287.15,1022.22 288.65,1020.46 290.15,1021.5 291.65,1020.71 293.14,1021.32 294.64,1020.53 296.14,1020.86 297.64,1021.32 299.14,1020.75 300.64,1020.12 302.13,1020.39 303.63,1020.17 305.13,1020.79 306.63,1019.75 308.13,1019.68 309.62,1020.05 311.12,1019.21 312.62,1019.78 314.12,1020.18 315.62,1019.46 317.12,1019.02 318.61,1019.2 320.11,1019.19 321.61,1018.55 323.11,1018.42 324.61,1018.33 326.1,1018.46 327.6,1018.52 329.1,1018.26 330.6,1018.1 332.1,1017.79 333.6,1018.33 335.09,1018.65 336.59,1018.23 338.09,1018.08 339.59,1018.1 341.09,1017.37 342.58,1017.99 344.08,1017.54 345.58,1017.57 347.08,1017.57 348.58,1017.27 350.08,1016.95 351.57,1016.76 353.07,1016.63 354.57,1016.95 356.07,1016.67 357.57,1016.85 359.07,1015.95 360.56,1016.33 362.06,1016.95 363.56,1015.98 365.06,1016.32 366.56,1016.13 368.05,1015.75 369.55,1016.63 371.05,1015.56 372.55,1016.13 374.05,1015.17 375.55,1014.93 377.04,1015.96 378.54,1015.25 380.04,1014.62 381.54,1014.97 383.04,1014.94 384.53,1015.24 386.03,1014.26 387.53,1014.32 389.03,1015.23 390.53,1014.82 392.03,1013.89 393.52,1014.03 395.02,1013.94 396.52,1014.28 398.02,1014.08 399.52,1014.29 401.01,1014.14 402.51,1013.6 404.01,1013.79 405.51,1013.67 407.01,1013.58 408.51,1013.06 410,1013.37 411.5,1013.13 413,1013.3 414.5,1012.07 416,1012.98 417.49,1011.64 418.99,1012.57 420.49,1012.19 421.99,1011.93 423.49,1012.44 424.99,1011.76 426.48,1011.41 427.98,1011.78 429.48,1011.76 430.98,1011.25 432.48,1010.78 433.97,1010.74 435.47,1010.6 436.97,1010.82 438.47,1010.06 439.97,1010.05 441.47,1010.12 442.96,1009.73 444.46,1009.48 445.96,1009.97 447.46,1009.89 448.96,1009.24 450.45,1008.99 451.95,1008.46 453.45,1008.46 454.95,1008.06 456.45,1008.49 457.95,1008.32 459.44,1007.45 460.94,1008.43 462.44,1007.41 463.94,1007.96 465.44,1007.76 466.93,1007.74 468.43,1006.49 469.93,1006.61 471.43,1007.09 472.93,1005.63 474.43,1005.47 475.92,1005.99 477.42,1005.69 478.92,1006.07 480.42,1005.66 481.92,1005.11 483.42,1005.54 484.91,1004.64 486.41,1004.42 487.91,1004.43 489.41,1003.79 490.91,1003.51 492.4,1003.6 493.9,1003.02 495.4,1003.62 496.9,1002.99 498.4,1002.53 499.9,1001.69 501.39,1001.82 502.89,1001.6 504.39,1001.56 505.89,1001.31 507.39,1001.47 508.88,1001.32 510.38,1000.37 511.88,1000.03 513.38,1000 514.88,1000.24 516.38,999.03 517.87,999 519.37,999.1 520.87,997.89 522.37,997.79 523.87,998.41 525.36,997.88 526.86,997.12 528.36,996.24 529.86,997.01 531.36,996.39 532.86,996.23 534.35,996.13 535.85,995.64 537.35,994.64 538.85,993.91 540.35,993.74 541.84,993.69 543.34,993.31 544.84,992.49 546.34,992.11 547.84,992.35 549.34,991.93 550.83,991.18 552.33,991.68 553.83,990.78 555.33,989.54 556.83,989.64 558.32,989.75 559.82,988.65 561.32,988.76 562.82,987.37 564.32,987.35 565.82,987.65 567.31,986.84 568.81,986.5 570.31,985.38 571.81,985.33 573.31,984.94 574.8,984.06 576.3,984.11 577.8,983.46 579.3,983.61 580.8,982.52 582.3,981.79 583.79,980.88 585.29,980.41 586.79,980.74 588.29,979.3 589.79,978.77 591.28,978.34 592.78,978.3 594.28,978.18 595.78,977.35 597.28,977.07 598.78,975.48 600.27,974.86 601.77,975.37 603.27,974.19 604.77,974.18 606.27,973.11 607.77,972.29 609.26,971.85 610.76,971.05 612.26,971.6 613.76,970.58 615.26,969.68 616.75,969.24 618.25,968.57 619.75,967.53 621.25,968.12 622.75,967.1 624.25,967.05 625.74,965.73 627.24,965.4 628.74,964.29 630.24,963.42 631.74,964.07 633.23,963.38 634.73,962.03 636.23,962.26 637.73,961.55 639.23,960.25 640.73,960.08 642.22,959.99 643.72,958.75 645.22,958.8 646.72,957.23 648.22,956.85 649.71,956.72 651.21,955.44 652.71,954.99 654.21,955.2 655.71,954.07 657.21,953.93 658.7,952.58 660.2,951.91 661.7,951.8" fill="none" stroke="#fe0000" stroke-width="4.8" stroke-linejoin="round" stroke-linecap="round"/>
<text x="663.5" y="847.9" font-size="30" fill="#55a0fb">PE</text>
<text x="663.5" y="883.6" font-size="30">Basal</text>
<text x="664.8" y="974.8" font-size="30" fill="#fe0000">CBX</text>
<text x="756.5" y="649" font-size="56" font-weight="bold">e</text>
<text x="798" y="650" font-size="33.75"><tspan font-family="'Liberation Serif', serif">&#945;</tspan>1D-AR+hPANX1(TEV)+RhoA(G14V/T37Y)</text>
<rect x="941.2" y="695.6" width="224.5" height="235.3" fill="#bcf1fc"/>
<rect x="1061.5" y="726.7" width="104.2" height="204.2" fill="#fecbcb"/>
<text x="961.5" y="726.7" font-size="24.5" fill="#55a0fb">PE</text>
<text x="1089" y="752.6" font-size="25.5" fill="#fe0000">CBX</text>
<line x1="884.8" y1="932.2" x2="884.8" y2="693.1" stroke="#000" stroke-width="2.6" stroke-linecap="butt"/>
<line x1="883.5" y1="930.9" x2="1212.6" y2="930.9" stroke="#000" stroke-width="2.6" stroke-linecap="butt"/>
<line x1="878.8" y1="694.4" x2="884.8" y2="694.4" stroke="#000" stroke-width="2.6" stroke-linecap="butt"/>
<text x="877.2" y="702.1" font-size="21.8" text-anchor="end">1600</text>
<line x1="878.8" y1="753.6" x2="884.8" y2="753.6" stroke="#000" stroke-width="2.6" stroke-linecap="butt"/>
<text x="877.2" y="761.3" font-size="21.8" text-anchor="end">1200</text>
<line x1="878.8" y1="812.8" x2="884.8" y2="812.8" stroke="#000" stroke-width="2.6" stroke-linecap="butt"/>
<text x="877.2" y="820.5" font-size="21.8" text-anchor="end">800</text>
<line x1="878.8" y1="871.7" x2="884.8" y2="871.7" stroke="#000" stroke-width="2.6" stroke-linecap="butt"/>
<text x="877.2" y="879.4" font-size="21.8" text-anchor="end">400</text>
<line x1="878.8" y1="930.9" x2="884.8" y2="930.9" stroke="#000" stroke-width="2.6" stroke-linecap="butt"/>
<text x="877.2" y="938.6" font-size="21.8" text-anchor="end">0</text>
<line x1="884.8" y1="930.9" x2="884.8" y2="936.9" stroke="#000" stroke-width="2.6" stroke-linecap="butt"/>
<text x="884.8" y="957.5" font-size="21.8" text-anchor="middle">0</text>
<line x1="956.7" y1="930.9" x2="956.7" y2="936.9" stroke="#000" stroke-width="2.6" stroke-linecap="butt"/>
<text x="956.7" y="957.5" font-size="21.8" text-anchor="middle">2</text>
<line x1="1028" y1="930.9" x2="1028" y2="936.9" stroke="#000" stroke-width="2.6" stroke-linecap="butt"/>
<text x="1028" y="957.5" font-size="21.8" text-anchor="middle">4</text>
<line x1="1098.6" y1="930.9" x2="1098.6" y2="936.9" stroke="#000" stroke-width="2.6" stroke-linecap="butt"/>
<text x="1098.6" y="957.5" font-size="21.8" text-anchor="middle">6</text>
<line x1="1169.2" y1="930.9" x2="1169.2" y2="936.9" stroke="#000" stroke-width="2.6" stroke-linecap="butt"/>
<text x="1169.2" y="957.5" font-size="21.8" text-anchor="middle">8</text>
<text x="1053.2" y="975.2" font-size="21.6" text-anchor="middle">Time (min)</text>
<text x="822" y="807.75" font-size="23.8" text-anchor="middle" transform="rotate(-90 822 807.75)">Current at +80 mV (pA)</text>
<polyline points="886.41,914.79 889.18,914.84 891.95,916.81 894.72,915.84 897.5,916.78 900.13,915.62 902.77,916.2 905.41,915.64 908.05,915.41 910.69,914.47 913.33,914.32 915.86,916.04 918.39,915.41 920.93,915.51 923.46,915.72 925.99,916.22 928.53,915.5 931.06,914.46 933.59,915.08 936.13,913.81 938.66,912.8 941.19,914.22 943.73,913.31 946.26,913.98 948.79,915.43 951.33,914.33 953.86,914.96 956.39,915.75 958.93,915.68 961.46,914.39 963.99,914.78 966.37,914.73 968.74,913.24 971.12,912.03 973.49,908.16 975.87,907.66 978.24,904.79 980.62,902.26 982.99,900.73 985.53,898.19 988.06,897.44 990.59,894.65 993.13,894.02 995.66,891.5 997.77,892.64 999.88,893.98 1001.99,896.29 1004.1,894.97 1006.21,895.76 1008.32,893.74 1010.44,892.93 1012.55,891.41 1014.66,889.28 1017.19,890.92 1019.72,890.78 1022.26,891.96 1024.79,892.41 1027.32,892.53 1029.86,893.32 1032.39,893.35 1034.92,894.16 1037.46,896.14 1039.99,895.72 1042.76,896 1045.53,894.5 1048.3,895.01 1051.07,894.21 1053.84,895.28 1056.61,895.67 1059.39,896 1062.16,897.28 1064.53,897.9 1066.91,898.49 1069.28,900.47 1071.66,900.39 1074.19,900.95 1076.72,902.27 1079.26,902.32 1081.79,902.86 1084.32,903.13 1086.7,904.05 1089.07,906.71 1091.45,909.38 1093.82,913.85 1096.2,914.61 1098.57,914.78 1100.95,915.69 1103.32,916.97 1105.96,917.05 1108.6,916.15 1111.24,917.35 1113.88,916.36 1116.52,916.91 1119.15,916.02 1121.79,916.41 1124.43,918.54 1127.07,918.71 1129.71,919.19 1132.35,918.38 1134.99,918.9 1137.36,919.15 1139.74,919.22 1142.11,919.43 1144.49,919.58 1146.86,918.9 1149.24,919.44 1151.61,920.1 1153.99,919.18" fill="none" stroke="#000" stroke-width="2" stroke-linejoin="round" stroke-linecap="butt"/>
<circle cx="886.41" cy="914.79" r="5.5" fill="#000"/>
<circle cx="889.18" cy="914.84" r="5.5" fill="#000"/>
<circle cx="891.95" cy="916.81" r="5.5" fill="#000"/>
<circle cx="894.72" cy="915.84" r="5.5" fill="#000"/>
<circle cx="897.5" cy="916.78" r="5.5" fill="#000"/>
<circle cx="900.13" cy="915.62" r="5.5" fill="#000"/>
<circle cx="902.77" cy="916.2" r="5.5" fill="#000"/>
<circle cx="905.41" cy="915.64" r="5.5" fill="#000"/>
<circle cx="908.05" cy="915.41" r="5.5" fill="#000"/>
<circle cx="910.69" cy="914.47" r="5.5" fill="#000"/>
<circle cx="913.33" cy="914.32" r="5.5" fill="#000"/>
<circle cx="915.86" cy="916.04" r="5.5" fill="#000"/>
<circle cx="918.39" cy="915.41" r="5.5" fill="#000"/>
<circle cx="920.93" cy="915.51" r="5.5" fill="#000"/>
<circle cx="923.46" cy="915.72" r="5.5" fill="#000"/>
<circle cx="925.99" cy="916.22" r="5.5" fill="#000"/>
<circle cx="928.53" cy="915.5" r="5.5" fill="#000"/>
<circle cx="931.06" cy="914.46" r="5.5" fill="#000"/>
<circle cx="933.59" cy="915.08" r="5.5" fill="#000"/>
<circle cx="936.13" cy="913.81" r="5.5" fill="#000"/>
<circle cx="938.66" cy="912.8" r="5.5" fill="#000"/>
<circle cx="941.19" cy="914.22" r="5.5" fill="#000"/>
<circle cx="943.73" cy="913.31" r="5.5" fill="#000"/>
<circle cx="946.26" cy="913.98" r="5.5" fill="#000"/>
<circle cx="948.79" cy="915.43" r="5.5" fill="#000"/>
<circle cx="951.33" cy="914.33" r="5.5" fill="#000"/>
<circle cx="953.86" cy="914.96" r="5.5" fill="#000"/>
<circle cx="956.39" cy="915.75" r="5.5" fill="#000"/>
<circle cx="958.93" cy="915.68" r="5.5" fill="#000"/>
<circle cx="961.46" cy="914.39" r="5.5" fill="#000"/>
<circle cx="963.99" cy="914.78" r="5.5" fill="#000"/>
<circle cx="966.37" cy="914.73" r="5.5" fill="#000"/>
<circle cx="968.74" cy="913.24" r="5.5" fill="#000"/>
<circle cx="971.12" cy="912.03" r="5.5" fill="#000"/>
<circle cx="973.49" cy="908.16" r="5.5" fill="#000"/>
<circle cx="975.87" cy="907.66" r="5.5" fill="#000"/>
<circle cx="978.24" cy="904.79" r="5.5" fill="#000"/>
<circle cx="980.62" cy="902.26" r="5.5" fill="#000"/>
<circle cx="982.99" cy="900.73" r="5.5" fill="#000"/>
<circle cx="985.53" cy="898.19" r="5.5" fill="#000"/>
<circle cx="988.06" cy="897.44" r="5.5" fill="#000"/>
<circle cx="990.59" cy="894.65" r="5.5" fill="#000"/>
<circle cx="993.13" cy="894.02" r="5.5" fill="#000"/>
<circle cx="995.66" cy="891.5" r="5.5" fill="#000"/>
<circle cx="997.77" cy="892.64" r="5.5" fill="#000"/>
<circle cx="999.88" cy="893.98" r="5.5" fill="#000"/>
<circle cx="1001.99" cy="896.29" r="5.5" fill="#000"/>
<circle cx="1004.1" cy="894.97" r="5.5" fill="#000"/>
<circle cx="1006.21" cy="895.76" r="5.5" fill="#000"/>
<circle cx="1008.32" cy="893.74" r="5.5" fill="#000"/>
<circle cx="1010.44" cy="892.93" r="5.5" fill="#000"/>
<circle cx="1012.55" cy="891.41" r="5.5" fill="#000"/>
<circle cx="1014.66" cy="889.28" r="5.5" fill="#000"/>
<circle cx="1017.19" cy="890.92" r="5.5" fill="#000"/>
<circle cx="1019.72" cy="890.78" r="5.5" fill="#000"/>
<circle cx="1022.26" cy="891.96" r="5.5" fill="#000"/>
<circle cx="1024.79" cy="892.41" r="5.5" fill="#000"/>
<circle cx="1027.32" cy="892.53" r="5.5" fill="#000"/>
<circle cx="1029.86" cy="893.32" r="5.5" fill="#000"/>
<circle cx="1032.39" cy="893.35" r="5.5" fill="#000"/>
<circle cx="1034.92" cy="894.16" r="5.5" fill="#000"/>
<circle cx="1037.46" cy="896.14" r="5.5" fill="#000"/>
<circle cx="1039.99" cy="895.72" r="5.5" fill="#000"/>
<circle cx="1042.76" cy="896" r="5.5" fill="#000"/>
<circle cx="1045.53" cy="894.5" r="5.5" fill="#000"/>
<circle cx="1048.3" cy="895.01" r="5.5" fill="#000"/>
<circle cx="1051.07" cy="894.21" r="5.5" fill="#000"/>
<circle cx="1053.84" cy="895.28" r="5.5" fill="#000"/>
<circle cx="1056.61" cy="895.67" r="5.5" fill="#000"/>
<circle cx="1059.39" cy="896" r="5.5" fill="#000"/>
<circle cx="1062.16" cy="897.28" r="5.5" fill="#000"/>
<circle cx="1064.53" cy="897.9" r="5.5" fill="#000"/>
<circle cx="1066.91" cy="898.49" r="5.5" fill="#000"/>
<circle cx="1069.28" cy="900.47" r="5.5" fill="#000"/>
<circle cx="1071.66" cy="900.39" r="5.5" fill="#000"/>
<circle cx="1074.19" cy="900.95" r="5.5" fill="#000"/>
<circle cx="1076.72" cy="902.27" r="5.5" fill="#000"/>
<circle cx="1079.26" cy="902.32" r="5.5" fill="#000"/>
<circle cx="1081.79" cy="902.86" r="5.5" fill="#000"/>
<circle cx="1084.32" cy="903.13" r="5.5" fill="#000"/>
<circle cx="1086.7" cy="904.05" r="5.5" fill="#000"/>
<circle cx="1089.07" cy="906.71" r="5.5" fill="#000"/>
<circle cx="1091.45" cy="909.38" r="5.5" fill="#000"/>
<circle cx="1093.82" cy="913.85" r="5.5" fill="#000"/>
<circle cx="1096.2" cy="914.61" r="5.5" fill="#000"/>
<circle cx="1098.57" cy="914.78" r="5.5" fill="#000"/>
<circle cx="1100.95" cy="915.69" r="5.5" fill="#000"/>
<circle cx="1103.32" cy="916.97" r="5.5" fill="#000"/>
<circle cx="1105.96" cy="917.05" r="5.5" fill="#000"/>
<circle cx="1108.6" cy="916.15" r="5.5" fill="#000"/>
<circle cx="1111.24" cy="917.35" r="5.5" fill="#000"/>
<circle cx="1113.88" cy="916.36" r="5.5" fill="#000"/>
<circle cx="1116.52" cy="916.91" r="5.5" fill="#000"/>
<circle cx="1119.15" cy="916.02" r="5.5" fill="#000"/>
<circle cx="1121.79" cy="916.41" r="5.5" fill="#000"/>
<circle cx="1124.43" cy="918.54" r="5.5" fill="#000"/>
<circle cx="1127.07" cy="918.71" r="5.5" fill="#000"/>
<circle cx="1129.71" cy="919.19" r="5.5" fill="#000"/>
<circle cx="1132.35" cy="918.38" r="5.5" fill="#000"/>
<circle cx="1134.99" cy="918.9" r="5.5" fill="#000"/>
<circle cx="1137.36" cy="919.15" r="5.5" fill="#000"/>
<circle cx="1139.74" cy="919.22" r="5.5" fill="#000"/>
<circle cx="1142.11" cy="919.43" r="5.5" fill="#000"/>
<circle cx="1144.49" cy="919.58" r="5.5" fill="#000"/>
<circle cx="1146.86" cy="918.9" r="5.5" fill="#000"/>
<circle cx="1149.24" cy="919.44" r="5.5" fill="#000"/>
<circle cx="1151.61" cy="920.1" r="5.5" fill="#000"/>
<circle cx="1153.99" cy="919.18" r="5.5" fill="#000"/>
<line x1="876.5" y1="1011.4" x2="1468.2" y2="1011.4" stroke="#000" stroke-width="3.7" stroke-linecap="butt"/>
<line x1="1231" y1="683" x2="1231" y2="1077.3" stroke="#000" stroke-width="3.7" stroke-linecap="butt"/>
<line x1="876.5" y1="1000.9" x2="876.5" y2="1021.9" stroke="#000" stroke-width="3.7" stroke-linecap="butt"/>
<line x1="994.8" y1="1000.9" x2="994.8" y2="1021.9" stroke="#000" stroke-width="3.7" stroke-linecap="butt"/>
<line x1="1112.9" y1="1000.9" x2="1112.9" y2="1021.9" stroke="#000" stroke-width="3.7" stroke-linecap="butt"/>
<line x1="1350" y1="1000.9" x2="1350" y2="1021.9" stroke="#000" stroke-width="3.7" stroke-linecap="butt"/>
<line x1="1468.2" y1="1000.9" x2="1468.2" y2="1021.9" stroke="#000" stroke-width="3.7" stroke-linecap="butt"/>
<line x1="1220" y1="683" x2="1242" y2="683" stroke="#000" stroke-width="3.7" stroke-linecap="butt"/>
<text x="1246" y="693.11" font-size="27.4">1500</text>
<line x1="1220" y1="749.5" x2="1242" y2="749.5" stroke="#000" stroke-width="3.7" stroke-linecap="butt"/>
<text x="1246" y="759.61" font-size="27.4">1200</text>
<line x1="1220" y1="814.9" x2="1242" y2="814.9" stroke="#000" stroke-width="3.7" stroke-linecap="butt"/>
<text x="1246" y="825.01" font-size="27.4">900</text>
<line x1="1220" y1="880.3" x2="1242" y2="880.3" stroke="#000" stroke-width="3.7" stroke-linecap="butt"/>
<text x="1246" y="890.41" font-size="27.4">600</text>
<line x1="1220" y1="946.2" x2="1242" y2="946.2" stroke="#000" stroke-width="3.7" stroke-linecap="butt"/>
<text x="1246" y="956.31" font-size="27.4">300</text>
<line x1="1220" y1="1077.3" x2="1242" y2="1077.3" stroke="#000" stroke-width="3.7" stroke-linecap="butt"/>
<text x="1246" y="1087.41" font-size="27.4">-300</text>
<text x="874.4" y="1049.7" font-size="28" text-anchor="middle">-150</text>
<text x="991.5" y="1049.7" font-size="28" text-anchor="middle">-100</text>
<text x="1110" y="1049.7" font-size="28" text-anchor="middle">-50</text>
<text x="1348.6" y="1049.7" font-size="28" text-anchor="middle">50</text>
<text x="1466.1" y="1049.7" font-size="28" text-anchor="middle">100</text>
<text x="1362.5" y="1080" font-size="31.2">Em (mV)</text>
<text x="1309.5" y="692.5" font-size="30.8">pA</text>
<polyline points="923.4,1032.11 924.9,1032.37 926.39,1031.91 927.89,1031.95 929.39,1031.26 930.88,1031.33 932.38,1031.5 933.88,1030.96 935.38,1030.41 936.87,1031.27 938.37,1031.07 939.87,1030.35 941.36,1029.92 942.86,1030.77 944.36,1030.34 945.85,1029.54 947.35,1029.65 948.85,1029.36 950.35,1030.05 951.84,1029.22 953.34,1029.94 954.84,1029.62 956.33,1028.7 957.83,1029.31 959.33,1028.82 960.82,1029.12 962.32,1029.1 963.82,1028.32 965.32,1027.97 966.81,1028.88 968.31,1028.13 969.81,1028.62 971.3,1028.22 972.8,1028.15 974.3,1028.15 975.79,1027.79 977.29,1027.46 978.79,1026.87 980.29,1027.52 981.78,1027.08 983.28,1027.07 984.78,1027.45 986.27,1026.38 987.77,1027.03 989.27,1026.05 990.76,1026.73 992.26,1026.74 993.76,1025.98 995.26,1026.21 996.75,1026.6 998.25,1026.09 999.75,1025.87 1001.24,1025.41 1002.74,1025.07 1004.24,1025.32 1005.73,1025.27 1007.23,1024.91 1008.73,1024.93 1010.23,1024.62 1011.72,1025.19 1013.22,1025.04 1014.72,1024.41 1016.21,1024.31 1017.71,1024.53 1019.21,1024.34 1020.7,1024.82 1022.2,1024.01 1023.7,1023.84 1025.2,1024.43 1026.69,1023.43 1028.19,1023.83 1029.69,1023.45 1031.18,1023.92 1032.68,1023.49 1034.18,1023.64 1035.67,1022.82 1037.17,1023.31 1038.67,1023.13 1040.17,1022.85 1041.66,1023.11 1043.16,1023.08 1044.66,1022.12 1046.15,1022.22 1047.65,1022.2 1049.15,1021.9 1050.64,1021.62 1052.14,1021.78 1053.64,1021.57 1055.13,1022.07 1056.63,1021.65 1058.13,1021.14 1059.63,1021.29 1061.12,1021.35 1062.62,1021.12 1064.12,1020.77 1065.61,1020.55 1067.11,1020.36 1068.61,1021.43 1070.1,1021.03 1071.6,1020.12 1073.1,1020.77 1074.6,1020.97 1076.09,1020.36 1077.59,1019.71 1079.09,1020.05 1080.58,1019.87 1082.08,1019.46 1083.58,1019.78 1085.07,1019.02 1086.57,1020 1088.07,1019.55 1089.57,1019.42 1091.06,1019.67 1092.56,1019.22 1094.06,1018.62 1095.55,1018.5 1097.05,1018.25 1098.55,1018 1100.04,1018.78 1101.54,1018.73 1103.04,1017.96 1104.54,1017.71 1106.03,1018.13 1107.53,1018.26 1109.03,1018.24 1110.52,1017.2 1112.02,1017.82 1113.52,1017.75 1115.01,1017.52 1116.51,1016.9 1118.01,1016.6 1119.51,1017.24 1121,1016.51 1122.5,1016.44 1124,1016.53 1125.49,1016.18 1126.99,1016.61 1128.49,1015.76 1129.98,1015.39 1131.48,1015.89 1132.98,1015.83 1134.48,1015.93 1135.97,1015.66 1137.47,1015.76 1138.97,1015.67 1140.46,1014.99 1141.96,1014.86 1143.46,1014.31 1144.95,1014.34 1146.45,1014.54 1147.95,1013.8 1149.45,1014.38 1150.94,1013.61 1152.44,1013.8 1153.94,1014.29 1155.43,1013.08 1156.93,1012.88 1158.43,1013.21 1159.92,1012.76 1161.42,1013.25 1162.92,1012.23 1164.42,1013.08 1165.91,1012.95 1167.41,1012.71 1168.91,1012.12 1170.4,1011.79 1171.9,1012.09 1173.4,1011.75 1174.89,1011.48 1176.39,1011.22 1177.89,1011.17 1179.38,1011.28 1180.88,1011.31 1182.38,1011.24 1183.88,1010.18 1185.37,1010.17 1186.87,1010.18 1188.37,1010.15 1189.86,1009.72 1191.36,1009.36 1192.86,1009.05 1194.35,1009.16 1195.85,1009.15 1197.35,1009.58 1198.85,1009.32 1200.34,1009.09 1201.84,1009.04 1203.34,1008.84 1204.83,1008.24 1206.33,1008.28 1207.83,1007.19 1209.32,1007.74 1210.82,1007.47 1212.32,1006.9 1213.82,1007.04 1215.31,1007.3 1216.81,1006.53 1218.31,1006.53 1219.8,1005.91 1221.3,1005.77 1222.8,1006.21 1224.29,1004.98 1225.79,1004.96 1227.29,1005.34 1228.79,1004.85 1230.28,1004.21 1231.78,1004.68 1233.28,1004.12 1234.77,1004.16 1236.27,1003.74 1237.77,1003.66 1239.26,1003.48 1240.76,1003.05 1242.26,1002.49 1243.76,1002.34 1245.25,1002.96 1246.75,1002.32 1248.25,1001.57 1249.74,1002.23 1251.24,1001.27 1252.74,1000.84 1254.23,1001.12 1255.73,1000.55 1257.23,1000.59 1258.73,1000.42 1260.22,999.78 1261.72,999.95 1263.22,999.15 1264.71,999.38 1266.21,999.21 1267.71,998.35 1269.2,998.48 1270.7,997.82 1272.2,998 1273.7,998.24 1275.19,997.6 1276.69,997.53 1278.19,997.31 1279.68,996.27 1281.18,997.05 1282.68,996.45 1284.17,995.43 1285.67,996.02 1287.17,995.21 1288.67,994.66 1290.16,995.32 1291.66,994.56 1293.16,994.52 1294.65,993.46 1296.15,993.94 1297.65,992.78 1299.14,992.69 1300.64,992.55 1302.14,991.82 1303.63,992.21 1305.13,991.44 1306.63,991.24 1308.13,991.42 1309.62,990.76 1311.12,991 1312.62,990.36 1314.11,990.34 1315.61,989.65 1317.11,989.74 1318.6,989.36 1320.1,988.19 1321.6,988.55 1323.1,987.72 1324.59,987.89 1326.09,987.45 1327.59,987.28 1329.08,986.1 1330.58,986.05 1332.08,986.13 1333.57,986.04 1335.07,985.41 1336.57,984.24 1338.07,984.55 1339.56,983.58 1341.06,983.76 1342.56,983.69 1344.05,982.49 1345.55,983.1 1347.05,982.42 1348.54,981.54 1350.04,981.08 1351.54,981.01 1353.04,981.09 1354.53,980.39 1356.03,979.44 1357.53,978.94 1359.02,978.65 1360.52,979.08 1362.02,977.93 1363.51,977.97 1365.01,977.25 1366.51,977.32 1368.01,976.54 1369.5,975.84 1371,976.29 1372.5,975.47 1373.99,975.23 1375.49,974.94 1376.99,974.68 1378.48,973.13 1379.98,973.09 1381.48,972.42 1382.98,972.4 1384.47,972.4 1385.97,971.87 1387.47,970.5 1388.96,970.22 1390.46,970.53 1391.96,969.91 1393.45,969.1 1394.95,968.74 1396.45,967.89 1397.95,968.24 1399.44,967.23 1400.94,967.33 1402.44,966.53 1403.93,965.41 1405.43,965.23 1406.93,964.6 1408.42,964.92 1409.92,964.06 1411.42,962.91 1412.92,962.56 1414.41,962.29 1415.91,961.91 1417.41,961.53 1418.9,960.79 1420.4,960.41" fill="none" stroke="#55a0fb" stroke-width="4.8" stroke-linejoin="round" stroke-linecap="round"/>
<polyline points="923.4,1028.44 924.9,1028.13 926.39,1027.57 927.89,1028.12 929.39,1027.68 930.88,1027.17 932.38,1027.56 933.88,1028.05 935.38,1026.79 936.87,1026.77 938.37,1027.27 939.87,1026.66 941.36,1026.53 942.86,1026.67 944.36,1026.25 945.85,1026.49 947.35,1026.31 948.85,1026.69 950.35,1026.61 951.84,1025.33 953.34,1025.84 954.84,1025.96 956.33,1025.96 957.83,1025.72 959.33,1025.42 960.82,1025.3 962.32,1024.85 963.82,1024.63 965.32,1025.13 966.81,1025.1 968.31,1025.06 969.81,1024.63 971.3,1024.06 972.8,1024.49 974.3,1024.35 975.79,1023.95 977.29,1023.99 978.79,1023.53 980.29,1023.66 981.78,1023.37 983.28,1022.84 984.78,1023.06 986.27,1022.93 987.77,1023.62 989.27,1022.9 990.76,1022.65 992.26,1022.39 993.76,1022.27 995.26,1022.3 996.75,1021.93 998.25,1021.67 999.75,1022.6 1001.24,1021.99 1002.74,1021.88 1004.24,1021.92 1005.73,1021.49 1007.23,1021.23 1008.73,1021 1010.23,1021.18 1011.72,1021.09 1013.22,1021.49 1014.72,1021.17 1016.21,1021.54 1017.71,1020.72 1019.21,1021.31 1020.7,1020.81 1022.2,1020.1 1023.7,1020.12 1025.2,1020.51 1026.69,1020.9 1028.19,1020.04 1029.69,1020.45 1031.18,1019.93 1032.68,1020.36 1034.18,1019.31 1035.67,1019.71 1037.17,1020.11 1038.67,1019.27 1040.17,1019.15 1041.66,1018.78 1043.16,1018.86 1044.66,1018.89 1046.15,1019.32 1047.65,1018.64 1049.15,1018.77 1050.64,1018.43 1052.14,1018.83 1053.64,1019.05 1055.13,1018.7 1056.63,1018.07 1058.13,1018.62 1059.63,1018.81 1061.12,1018.28 1062.62,1017.57 1064.12,1018.35 1065.61,1018.34 1067.11,1017.61 1068.61,1017.28 1070.1,1017.25 1071.6,1017.59 1073.1,1017.9 1074.6,1017.53 1076.09,1017.79 1077.59,1016.85 1079.09,1016.9 1080.58,1017.32 1082.08,1017.11 1083.58,1016.74 1085.07,1016.98 1086.57,1016.49 1088.07,1016.06 1089.57,1016.41 1091.06,1015.88 1092.56,1016.49 1094.06,1016.06 1095.55,1016.17 1097.05,1016.21 1098.55,1015.71 1100.04,1015.88 1101.54,1015.26 1103.04,1016.27 1104.54,1015.75 1106.03,1016.18 1107.53,1014.98 1109.03,1015.56 1110.52,1015.61 1112.02,1015.06 1113.52,1014.69 1115.01,1014.69 1116.51,1014.59 1118.01,1015.26 1119.51,1014.36 1121,1015.15 1122.5,1014.6 1124,1014.65 1125.49,1014.63 1126.99,1014.51 1128.49,1014.55 1129.98,1014.41 1131.48,1014 1132.98,1014.41 1134.48,1013.75 1135.97,1014.21 1137.47,1014.2 1138.97,1014.13 1140.46,1013.49 1141.96,1013.96 1143.46,1014.13 1144.95,1013.42 1146.45,1013.13 1147.95,1013.34 1149.45,1013.76 1150.94,1012.71 1152.44,1012.48 1153.94,1012.96 1155.43,1013.1 1156.93,1013.16 1158.43,1012.58 1159.92,1013.25 1161.42,1012.26 1162.92,1012.81 1164.42,1011.93 1165.91,1011.77 1167.41,1011.82 1168.91,1011.65 1170.4,1012.1 1171.9,1012.08 1173.4,1011.55 1174.89,1012.38 1176.39,1011.61 1177.89,1011.27 1179.38,1011.22 1180.88,1011.81 1182.38,1011.95 1183.88,1010.95 1185.37,1010.71 1186.87,1011.52 1188.37,1010.8 1189.86,1011.6 1191.36,1010.94 1192.86,1011.02 1194.35,1010.59 1195.85,1011.05 1197.35,1010.56 1198.85,1010.31 1200.34,1010.92 1201.84,1009.88 1203.34,1010.55 1204.83,1009.66 1206.33,1010.27 1207.83,1009.89 1209.32,1010.36 1210.82,1009.31 1212.32,1009.83 1213.82,1009.56 1215.31,1010.08 1216.81,1010.02 1218.31,1009.56 1219.8,1008.98 1221.3,1008.93 1222.8,1008.85 1224.29,1008.97 1225.79,1008.64 1227.29,1008.52 1228.79,1009.09 1230.28,1008.86 1231.78,1008.36 1233.28,1009.1 1234.77,1008.08 1236.27,1008.41 1237.77,1007.83 1239.26,1008.58 1240.76,1008.5 1242.26,1007.68 1243.76,1008.17 1245.25,1008.16 1246.75,1007.42 1248.25,1007.38 1249.74,1007.47 1251.24,1007.87 1252.74,1006.89 1254.23,1007.42 1255.73,1007.23 1257.23,1006.96 1258.73,1007.01 1260.22,1007.28 1261.72,1006.37 1263.22,1007.08 1264.71,1006.36 1266.21,1006.76 1267.71,1006.76 1269.2,1005.84 1270.7,1006.56 1272.2,1006.62 1273.7,1005.68 1275.19,1005.25 1276.69,1005.25 1278.19,1006.18 1279.68,1004.92 1281.18,1005.9 1282.68,1004.88 1284.17,1005.48 1285.67,1004.61 1287.17,1004.59 1288.67,1005.1 1290.16,1004.28 1291.66,1004.47 1293.16,1005.06 1294.65,1004.7 1296.15,1004.79 1297.65,1004.8 1299.14,1003.55 1300.64,1003.68 1302.14,1004.24 1303.63,1004.01 1305.13,1003.11 1306.63,1003.56 1308.13,1003.12 1309.62,1003.24 1311.12,1002.73 1312.62,1002.52 1314.11,1003.56 1315.61,1002.64 1317.11,1003.19 1318.6,1002.17 1320.1,1002.49 1321.6,1001.94 1323.1,1002.18 1324.59,1001.75 1326.09,1002.24 1327.59,1001.47 1329.08,1002.06 1330.58,1001.65 1332.08,1001.06 1333.57,1001.22 1335.07,1001.27 1336.57,1001.65 1338.07,1000.84 1339.56,1000.55 1341.06,1001.32 1342.56,1001.09 1344.05,1000.78 1345.55,1000.1 1347.05,999.85 1348.54,999.82 1350.04,999.45 1351.54,999.29 1353.04,999.71 1354.53,999.45 1356.03,999.5 1357.53,999.13 1359.02,998.56 1360.52,999.24 1362.02,999.06 1363.51,998.78 1365.01,998.65 1366.51,998.68 1368.01,998.88 1369.5,998.61 1371,998.28 1372.5,997.75 1373.99,997.51 1375.49,997.48 1376.99,997.99 1378.48,997.14 1379.98,996.99 1381.48,996.87 1382.98,996.4 1384.47,997.27 1385.97,995.92 1387.47,996.49 1388.96,996.72 1390.46,995.76 1391.96,996.03 1393.45,995.59 1394.95,995.27 1396.45,995.05 1397.95,994.8 1399.44,995.51 1400.94,995.27 1402.44,995.26 1403.93,994.06 1405.43,994.67 1406.93,994.06 1408.42,994.28 1409.92,993.99 1411.42,993.54 1412.92,994.16 1414.41,992.82 1415.91,993.54 1417.41,993.5 1418.9,992.91 1420.4,992.72" fill="none" stroke="#fe0000" stroke-width="4.8" stroke-linejoin="round" stroke-linecap="round"/>
<polyline points="923.4,1024.6 924.9,1024.59 926.39,1024.95 927.89,1023.92 929.39,1024.27 930.88,1024.29 932.38,1023.73 933.88,1024.01 935.38,1023.52 936.87,1023.56 938.37,1023.55 939.87,1023.51 941.36,1022.97 942.86,1023.23 944.36,1023.02 945.85,1022.52 947.35,1022.88 948.85,1022.35 950.35,1023.02 951.84,1022.39 953.34,1022.58 954.84,1022.24 956.33,1022.08 957.83,1021.67 959.33,1021.47 960.82,1022.31 962.32,1021.73 963.82,1021.62 965.32,1021.53 966.81,1021.77 968.31,1020.98 969.81,1020.8 971.3,1021.48 972.8,1020.95 974.3,1021.07 975.79,1021.2 977.29,1021.19 978.79,1021.06 980.29,1019.98 981.78,1020.29 983.28,1020.74 984.78,1020.63 986.27,1019.71 987.77,1019.65 989.27,1019.68 990.76,1019.41 992.26,1019.63 993.76,1020.07 995.26,1019.65 996.75,1019.48 998.25,1018.95 999.75,1019.24 1001.24,1019.87 1002.74,1019.43 1004.24,1019.05 1005.73,1019 1007.23,1019.3 1008.73,1019.17 1010.23,1018.35 1011.72,1018.91 1013.22,1018.45 1014.72,1018.55 1016.21,1018.13 1017.71,1018.21 1019.21,1018.09 1020.7,1018.06 1022.2,1017.55 1023.7,1017.69 1025.2,1018.05 1026.69,1017.36 1028.19,1017.43 1029.69,1018 1031.18,1017.39 1032.68,1017.37 1034.18,1017.2 1035.67,1017.83 1037.17,1016.86 1038.67,1017.44 1040.17,1017.64 1041.66,1016.77 1043.16,1016.96 1044.66,1017.33 1046.15,1017.05 1047.65,1016.68 1049.15,1016.21 1050.64,1016.62 1052.14,1016.46 1053.64,1016.8 1055.13,1016.22 1056.63,1016.29 1058.13,1016.5 1059.63,1016.63 1061.12,1016.01 1062.62,1015.97 1064.12,1016.13 1065.61,1016.48 1067.11,1015.53 1068.61,1016.39 1070.1,1016.01 1071.6,1015.53 1073.1,1015.82 1074.6,1015.34 1076.09,1014.96 1077.59,1015.71 1079.09,1015.19 1080.58,1015.3 1082.08,1015.19 1083.58,1015.61 1085.07,1015.37 1086.57,1014.42 1088.07,1015.03 1089.57,1014.81 1091.06,1014.74 1092.56,1015.12 1094.06,1014.54 1095.55,1014.54 1097.05,1014.97 1098.55,1014.36 1100.04,1014.35 1101.54,1014.31 1103.04,1014.62 1104.54,1014.36 1106.03,1014.38 1107.53,1013.9 1109.03,1013.4 1110.52,1014.09 1112.02,1013.87 1113.52,1014.06 1115.01,1013.99 1116.51,1013.14 1118.01,1013.19 1119.51,1012.95 1121,1013.77 1122.5,1012.84 1124,1012.75 1125.49,1013.48 1126.99,1013.18 1128.49,1012.5 1129.98,1013.18 1131.48,1013.15 1132.98,1012.8 1134.48,1012.21 1135.97,1012.91 1137.47,1012.51 1138.97,1012.63 1140.46,1013.06 1141.96,1012.77 1143.46,1012.76 1144.95,1011.81 1146.45,1011.97 1147.95,1012.11 1149.45,1011.42 1150.94,1012.53 1152.44,1011.6 1153.94,1011.51 1155.43,1011.49 1156.93,1011.35 1158.43,1012 1159.92,1011.56 1161.42,1011.43 1162.92,1011.24 1164.42,1010.72 1165.91,1010.94 1167.41,1011.54 1168.91,1011.38 1170.4,1011.37 1171.9,1010.57 1173.4,1010.43 1174.89,1010.17 1176.39,1010.67 1177.89,1010.39 1179.38,1010.42 1180.88,1010.36 1182.38,1010.4 1183.88,1010.05 1185.37,1010.49 1186.87,1009.68 1188.37,1010.46 1189.86,1009.94 1191.36,1009.25 1192.86,1009.48 1194.35,1009.66 1195.85,1009.42 1197.35,1009.52 1198.85,1009.14 1200.34,1008.99 1201.84,1009.53 1203.34,1008.84 1204.83,1009.25 1206.33,1009.27 1207.83,1008.92 1209.32,1008.67 1210.82,1009.15 1212.32,1008.47 1213.82,1008.89 1215.31,1007.82 1216.81,1008.17 1218.31,1008.32 1219.8,1007.52 1221.3,1008.4 1222.8,1007.35 1224.29,1007.88 1225.79,1007.28 1227.29,1008.07 1228.79,1007.54 1230.28,1007.72 1231.78,1007.26 1233.28,1007.37 1234.77,1007.26 1236.27,1006.7 1237.77,1006.5 1239.26,1007.14 1240.76,1006.21 1242.26,1007.02 1243.76,1006.06 1245.25,1005.83 1246.75,1005.71 1248.25,1006.43 1249.74,1006.52 1251.24,1005.76 1252.74,1005.94 1254.23,1005.35 1255.73,1006.01 1257.23,1005.63 1258.73,1004.88 1260.22,1004.64 1261.72,1005.29 1263.22,1004.39 1264.71,1005.22 1266.21,1004.45 1267.71,1004.26 1269.2,1004.56 1270.7,1004.12 1272.2,1004.28 1273.7,1003.67 1275.19,1004.46 1276.69,1003.63 1278.19,1004.12 1279.68,1003.17 1281.18,1003.81 1282.68,1003.9 1284.17,1003.07 1285.67,1002.51 1287.17,1002.79 1288.67,1002.97 1290.16,1002.34 1291.66,1002.59 1293.16,1001.91 1294.65,1002.22 1296.15,1002.4 1297.65,1001.91 1299.14,1002.07 1300.64,1001.25 1302.14,1001.97 1303.63,1000.98 1305.13,1001.8 1306.63,1001.74 1308.13,1001.53 1309.62,1000.89 1311.12,1000.46 1312.62,1000.38 1314.11,1000.72 1315.61,1000.27 1317.11,1000.64 1318.6,999.48 1320.1,999.8 1321.6,1000.11 1323.1,999.63 1324.59,999.41 1326.09,998.72 1327.59,998.62 1329.08,998.62 1330.58,999.21 1332.08,999 1333.57,998.09 1335.07,998.77 1336.57,997.54 1338.07,998.06 1339.56,998.34 1341.06,997.42 1342.56,997.98 1344.05,997.47 1345.55,996.57 1347.05,996.75 1348.54,996.72 1350.04,996.3 1351.54,996.73 1353.04,995.88 1354.53,996.44 1356.03,995.68 1357.53,995.23 1359.02,995.64 1360.52,994.91 1362.02,995.28 1363.51,995.38 1365.01,994.97 1366.51,994.63 1368.01,993.93 1369.5,994.33 1371,993.64 1372.5,994.12 1373.99,993.31 1375.49,993.66 1376.99,993.2 1378.48,993.04 1379.98,993.2 1381.48,992.41 1382.98,992.22 1384.47,992.96 1385.97,992.03 1387.47,992.45 1388.96,992.29 1390.46,991.62 1391.96,991.02 1393.45,990.76 1394.95,991.5 1396.45,990.38 1397.95,990.64 1399.44,990.48 1400.94,989.77 1402.44,989.99 1403.93,989.42 1405.43,989.65 1406.93,989.41 1408.42,989.03 1409.92,988.62 1411.42,988.65 1412.92,988.2 1414.41,987.89 1415.91,987.81 1417.41,988.35 1418.9,987.69 1420.4,987.47" fill="none" stroke="#000" stroke-width="5.2" stroke-linejoin="round" stroke-linecap="round"/>
<text x="1423" y="942.7" font-size="30" fill="#55a0fb">PE</text>
<text x="1423" y="971" font-size="30">Basal</text>
<text x="1424" y="997.6" font-size="30" fill="#fe0000">CBX</text>
<text x="-0.5" y="1152.5" font-size="56" font-weight="bold">f</text>
<text x="25" y="1159" font-size="33.75"><tspan font-family="'Liberation Serif', serif">&#945;</tspan>1D-AR+hPANX1(TEV)+RhoA(G14V/F39A)</text>
<rect x="143.5" y="1209.1" width="282.7" height="235.6" fill="#bcf1fc"/>
<rect x="319.6" y="1221.3" width="106.6" height="223.4" fill="#fecbcb"/>
<text x="155.7" y="1207.2" font-size="24.5" fill="#55a0fb">PE</text>
<text x="348.5" y="1247.3" font-size="25.5" fill="#fe0000">CBX</text>
<line x1="98.7" y1="1446" x2="98.7" y2="1209" stroke="#000" stroke-width="2.6" stroke-linecap="butt"/>
<line x1="97.4" y1="1444.7" x2="434" y2="1444.7" stroke="#000" stroke-width="2.6" stroke-linecap="butt"/>
<line x1="92.7" y1="1210.3" x2="98.7" y2="1210.3" stroke="#000" stroke-width="2.6" stroke-linecap="butt"/>
<text x="91.1" y="1218.65" font-size="21.8" text-anchor="end">1600</text>
<line x1="92.7" y1="1269.2" x2="98.7" y2="1269.2" stroke="#000" stroke-width="2.6" stroke-linecap="butt"/>
<text x="91.1" y="1277.55" font-size="21.8" text-anchor="end">1200</text>
<line x1="92.7" y1="1327.8" x2="98.7" y2="1327.8" stroke="#000" stroke-width="2.6" stroke-linecap="butt"/>
<text x="91.1" y="1336.15" font-size="21.8" text-anchor="end">800</text>
<line x1="92.7" y1="1386.1" x2="98.7" y2="1386.1" stroke="#000" stroke-width="2.6" stroke-linecap="butt"/>
<text x="91.1" y="1394.45" font-size="21.8" text-anchor="end">400</text>
<line x1="92.7" y1="1444.7" x2="98.7" y2="1444.7" stroke="#000" stroke-width="2.6" stroke-linecap="butt"/>
<text x="91.1" y="1453.05" font-size="21.8" text-anchor="end">0</text>
<line x1="98.7" y1="1444.7" x2="98.7" y2="1450.7" stroke="#000" stroke-width="2.6" stroke-linecap="butt"/>
<text x="98.7" y="1471" font-size="21.8" text-anchor="middle">0</text>
<line x1="169.2" y1="1444.7" x2="169.2" y2="1450.7" stroke="#000" stroke-width="2.6" stroke-linecap="butt"/>
<text x="169.2" y="1471" font-size="21.8" text-anchor="middle">2</text>
<line x1="239.7" y1="1444.7" x2="239.7" y2="1450.7" stroke="#000" stroke-width="2.6" stroke-linecap="butt"/>
<text x="239.7" y="1471" font-size="21.8" text-anchor="middle">4</text>
<line x1="310.2" y1="1444.7" x2="310.2" y2="1450.7" stroke="#000" stroke-width="2.6" stroke-linecap="butt"/>
<text x="310.2" y="1471" font-size="21.8" text-anchor="middle">6</text>
<line x1="381.7" y1="1444.7" x2="381.7" y2="1450.7" stroke="#000" stroke-width="2.6" stroke-linecap="butt"/>
<text x="381.7" y="1471" font-size="21.8" text-anchor="middle">8</text>
<text x="276.6" y="1491.7" font-size="21.6" text-anchor="middle">Time (min)</text>
<text x="37.5" y="1324" font-size="23.8" text-anchor="middle" transform="rotate(-90 37.5 1324)">Current at +80 mV (pA)</text>
<polyline points="99.66,1216.11 103.42,1214.98 105.77,1220.76 108.12,1223.76 111.25,1227.5 113.6,1223.93 115.95,1221.03 118.3,1222.46 120.65,1225.85 123.79,1226.23 126.92,1228.01 130.05,1226.76 133.19,1226.71 136.32,1222.25 139.45,1217.1 142.59,1221.43 145.72,1222.95 148.33,1225.51 150.95,1226.39 153.56,1228.68 156.69,1230.1 159.82,1231 162.96,1230.74 165.57,1231.63 168.18,1232.86 170.79,1234.15 173.93,1233.31 177.06,1235.51 180.19,1236.7 182.81,1235.91 185.42,1233.92 188.03,1233.81 191.16,1229.98 194.3,1227.76 197.43,1228.03 200.56,1231.98 203.7,1233.01 206.83,1229.87 209.97,1226.1 213.1,1230.33 216.23,1235.22 219.37,1235.9 222.5,1235.62 225.11,1234.44 227.72,1232.47 230.34,1231.02 232.95,1233.15 235.56,1235.46 238.17,1238.84 241.3,1240.45 244.44,1241.6 247.57,1242.55 250.71,1231.61 253.84,1232.18 256.97,1232.44 260.11,1238.39 262.72,1237.12 265.33,1235.2 267.94,1235 270.55,1236.49 273.16,1237.42 275.78,1237.07 278.91,1228.92 282.04,1228.18 285.18,1227.81 288.31,1229.42 291.44,1228.83 294.58,1228.98 297.71,1226.97 300.85,1227.58 303.2,1229.36 305.55,1230.86 307.9,1227.41 310.25,1224.45 313.38,1225.17 316.52,1225.53 318.87,1227.57 321.22,1230.7 323.57,1233.76 325.92,1237.06 328.27,1234.35 330.62,1234.11" fill="none" stroke="#000" stroke-width="2" stroke-linejoin="round" stroke-linecap="butt"/>
<circle cx="99.66" cy="1216.11" r="5.5" fill="#000"/>
<circle cx="103.42" cy="1214.98" r="5.5" fill="#000"/>
<circle cx="105.77" cy="1220.76" r="5.5" fill="#000"/>
<circle cx="108.12" cy="1223.76" r="5.5" fill="#000"/>
<circle cx="111.25" cy="1227.5" r="5.5" fill="#000"/>
<circle cx="113.6" cy="1223.93" r="5.5" fill="#000"/>
<circle cx="115.95" cy="1221.03" r="5.5" fill="#000"/>
<circle cx="118.3" cy="1222.46" r="5.5" fill="#000"/>
<circle cx="120.65" cy="1225.85" r="5.5" fill="#000"/>
<circle cx="123.79" cy="1226.23" r="5.5" fill="#000"/>
<circle cx="126.92" cy="1228.01" r="5.5" fill="#000"/>
<circle cx="130.05" cy="1226.76" r="5.5" fill="#000"/>
<circle cx="133.19" cy="1226.71" r="5.5" fill="#000"/>
<circle cx="136.32" cy="1222.25" r="5.5" fill="#000"/>
<circle cx="139.45" cy="1217.1" r="5.5" fill="#000"/>
<circle cx="142.59" cy="1221.43" r="5.5" fill="#000"/>
<circle cx="145.72" cy="1222.95" r="5.5" fill="#000"/>
<circle cx="148.33" cy="1225.51" r="5.5" fill="#000"/>
<circle cx="150.95" cy="1226.39" r="5.5" fill="#000"/>
<circle cx="153.56" cy="1228.68" r="5.5" fill="#000"/>
<circle cx="156.69" cy="1230.1" r="5.5" fill="#000"/>
<circle cx="159.82" cy="1231" r="5.5" fill="#000"/>
<circle cx="162.96" cy="1230.74" r="5.5" fill="#000"/>
<circle cx="165.57" cy="1231.63" r="5.5" fill="#000"/>
<circle cx="168.18" cy="1232.86" r="5.5" fill="#000"/>
<circle cx="170.79" cy="1234.15" r="5.5" fill="#000"/>
<circle cx="173.93" cy="1233.31" r="5.5" fill="#000"/>
<circle cx="177.06" cy="1235.51" r="5.5" fill="#000"/>
<circle cx="180.19" cy="1236.7" r="5.5" fill="#000"/>
<circle cx="182.81" cy="1235.91" r="5.5" fill="#000"/>
<circle cx="185.42" cy="1233.92" r="5.5" fill="#000"/>
<circle cx="188.03" cy="1233.81" r="5.5" fill="#000"/>
<circle cx="191.16" cy="1229.98" r="5.5" fill="#000"/>
<circle cx="194.3" cy="1227.76" r="5.5" fill="#000"/>
<circle cx="197.43" cy="1228.03" r="5.5" fill="#000"/>
<circle cx="200.56" cy="1231.98" r="5.5" fill="#000"/>
<circle cx="203.7" cy="1233.01" r="5.5" fill="#000"/>
<circle cx="206.83" cy="1229.87" r="5.5" fill="#000"/>
<circle cx="209.97" cy="1226.1" r="5.5" fill="#000"/>
<circle cx="213.1" cy="1230.33" r="5.5" fill="#000"/>
<circle cx="216.23" cy="1235.22" r="5.5" fill="#000"/>
<circle cx="219.37" cy="1235.9" r="5.5" fill="#000"/>
<circle cx="222.5" cy="1235.62" r="5.5" fill="#000"/>
<circle cx="225.11" cy="1234.44" r="5.5" fill="#000"/>
<circle cx="227.72" cy="1232.47" r="5.5" fill="#000"/>
<circle cx="230.34" cy="1231.02" r="5.5" fill="#000"/>
<circle cx="232.95" cy="1233.15" r="5.5" fill="#000"/>
<circle cx="235.56" cy="1235.46" r="5.5" fill="#000"/>
<circle cx="238.17" cy="1238.84" r="5.5" fill="#000"/>
<circle cx="241.3" cy="1240.45" r="5.5" fill="#000"/>
<circle cx="244.44" cy="1241.6" r="5.5" fill="#000"/>
<circle cx="247.57" cy="1242.55" r="5.5" fill="#000"/>
<circle cx="250.71" cy="1231.61" r="5.5" fill="#000"/>
<circle cx="253.84" cy="1232.18" r="5.5" fill="#000"/>
<circle cx="256.97" cy="1232.44" r="5.5" fill="#000"/>
<circle cx="260.11" cy="1238.39" r="5.5" fill="#000"/>
<circle cx="262.72" cy="1237.12" r="5.5" fill="#000"/>
<circle cx="265.33" cy="1235.2" r="5.5" fill="#000"/>
<circle cx="267.94" cy="1235" r="5.5" fill="#000"/>
<circle cx="270.55" cy="1236.49" r="5.5" fill="#000"/>
<circle cx="273.16" cy="1237.42" r="5.5" fill="#000"/>
<circle cx="275.78" cy="1237.07" r="5.5" fill="#000"/>
<circle cx="278.91" cy="1228.92" r="5.5" fill="#000"/>
<circle cx="282.04" cy="1228.18" r="5.5" fill="#000"/>
<circle cx="285.18" cy="1227.81" r="5.5" fill="#000"/>
<circle cx="288.31" cy="1229.42" r="5.5" fill="#000"/>
<circle cx="291.44" cy="1228.83" r="5.5" fill="#000"/>
<circle cx="294.58" cy="1228.98" r="5.5" fill="#000"/>
<circle cx="297.71" cy="1226.97" r="5.5" fill="#000"/>
<circle cx="300.85" cy="1227.58" r="5.5" fill="#000"/>
<circle cx="303.2" cy="1229.36" r="5.5" fill="#000"/>
<circle cx="305.55" cy="1230.86" r="5.5" fill="#000"/>
<circle cx="307.9" cy="1227.41" r="5.5" fill="#000"/>
<circle cx="310.25" cy="1224.45" r="5.5" fill="#000"/>
<circle cx="313.38" cy="1225.17" r="5.5" fill="#000"/>
<circle cx="316.52" cy="1225.53" r="5.5" fill="#000"/>
<circle cx="318.87" cy="1227.57" r="5.5" fill="#000"/>
<circle cx="321.22" cy="1230.7" r="5.5" fill="#000"/>
<circle cx="323.57" cy="1233.76" r="5.5" fill="#000"/>
<circle cx="325.92" cy="1237.06" r="5.5" fill="#000"/>
<circle cx="328.27" cy="1234.35" r="5.5" fill="#000"/>
<circle cx="330.62" cy="1234.11" r="5.5" fill="#000"/>
<polyline points="342.21,1405.61 346.29,1412.71 348.9,1410.52 351.51,1411.71 354.12,1410.82 357.25,1408.18 360.39,1407.79 363,1407.62 365.61,1408.6 368.22,1410.16 370.83,1410.77 373.45,1412.32 376.06,1414.2 379.19,1413.23 382.33,1412.76 385.46,1411.6 388.2,1413.56 390.94,1414.75 393.69,1415.71 396.43,1417.4 399.04,1415.6 401.65,1413.19 404.26,1410.99 407.4,1412.9 410.53,1414.05 413.66,1409.93 416.8,1407.3" fill="none" stroke="#000" stroke-width="2" stroke-linejoin="round" stroke-linecap="butt"/>
<circle cx="342.21" cy="1405.61" r="5.5" fill="#000"/>
<circle cx="346.29" cy="1412.71" r="5.5" fill="#000"/>
<circle cx="348.9" cy="1410.52" r="5.5" fill="#000"/>
<circle cx="351.51" cy="1411.71" r="5.5" fill="#000"/>
<circle cx="354.12" cy="1410.82" r="5.5" fill="#000"/>
<circle cx="357.25" cy="1408.18" r="5.5" fill="#000"/>
<circle cx="360.39" cy="1407.79" r="5.5" fill="#000"/>
<circle cx="363" cy="1407.62" r="5.5" fill="#000"/>
<circle cx="365.61" cy="1408.6" r="5.5" fill="#000"/>
<circle cx="368.22" cy="1410.16" r="5.5" fill="#000"/>
<circle cx="370.83" cy="1410.77" r="5.5" fill="#000"/>
<circle cx="373.45" cy="1412.32" r="5.5" fill="#000"/>
<circle cx="376.06" cy="1414.2" r="5.5" fill="#000"/>
<circle cx="379.19" cy="1413.23" r="5.5" fill="#000"/>
<circle cx="382.33" cy="1412.76" r="5.5" fill="#000"/>
<circle cx="385.46" cy="1411.6" r="5.5" fill="#000"/>
<circle cx="388.2" cy="1413.56" r="5.5" fill="#000"/>
<circle cx="390.94" cy="1414.75" r="5.5" fill="#000"/>
<circle cx="393.69" cy="1415.71" r="5.5" fill="#000"/>
<circle cx="396.43" cy="1417.4" r="5.5" fill="#000"/>
<circle cx="399.04" cy="1415.6" r="5.5" fill="#000"/>
<circle cx="401.65" cy="1413.19" r="5.5" fill="#000"/>
<circle cx="404.26" cy="1410.99" r="5.5" fill="#000"/>
<circle cx="407.4" cy="1412.9" r="5.5" fill="#000"/>
<circle cx="410.53" cy="1414.05" r="5.5" fill="#000"/>
<circle cx="413.66" cy="1409.93" r="5.5" fill="#000"/>
<circle cx="416.8" cy="1407.3" r="5.5" fill="#000"/>
<polyline points="330.6,1233.2 333.8,1357 337.8,1393 342.2,1405.5" fill="none" stroke="#000" stroke-width="2" stroke-linejoin="round" stroke-linecap="butt"/>
<circle cx="333.8" cy="1357" r="5" fill="#000"/>
<circle cx="337.8" cy="1393" r="5" fill="#000"/>
<line x1="116.8" y1="1517.5" x2="708" y2="1517.5" stroke="#000" stroke-width="3.7" stroke-linecap="butt"/>
<line x1="471.4" y1="1188.9" x2="471.4" y2="1583.2" stroke="#000" stroke-width="3.7" stroke-linecap="butt"/>
<line x1="116.8" y1="1507" x2="116.8" y2="1528" stroke="#000" stroke-width="3.7" stroke-linecap="butt"/>
<line x1="234.7" y1="1507" x2="234.7" y2="1528" stroke="#000" stroke-width="3.7" stroke-linecap="butt"/>
<line x1="353.3" y1="1507" x2="353.3" y2="1528" stroke="#000" stroke-width="3.7" stroke-linecap="butt"/>
<line x1="590.4" y1="1507" x2="590.4" y2="1528" stroke="#000" stroke-width="3.7" stroke-linecap="butt"/>
<line x1="708" y1="1507" x2="708" y2="1528" stroke="#000" stroke-width="3.7" stroke-linecap="butt"/>
<line x1="460.4" y1="1188.9" x2="482.4" y2="1188.9" stroke="#000" stroke-width="3.7" stroke-linecap="butt"/>
<text x="488" y="1199.01" font-size="27.4">1500</text>
<line x1="460.4" y1="1254.8" x2="482.4" y2="1254.8" stroke="#000" stroke-width="3.7" stroke-linecap="butt"/>
<text x="488" y="1264.91" font-size="27.4">1200</text>
<line x1="460.4" y1="1320.8" x2="482.4" y2="1320.8" stroke="#000" stroke-width="3.7" stroke-linecap="butt"/>
<text x="488" y="1330.91" font-size="27.4">900</text>
<line x1="460.4" y1="1386.7" x2="482.4" y2="1386.7" stroke="#000" stroke-width="3.7" stroke-linecap="butt"/>
<text x="488" y="1396.81" font-size="27.4">600</text>
<line x1="460.4" y1="1452.1" x2="482.4" y2="1452.1" stroke="#000" stroke-width="3.7" stroke-linecap="butt"/>
<text x="488" y="1462.21" font-size="27.4">300</text>
<line x1="460.4" y1="1583.2" x2="482.4" y2="1583.2" stroke="#000" stroke-width="3.7" stroke-linecap="butt"/>
<text x="488" y="1593.31" font-size="27.4">-300</text>
<text x="115" y="1555.5" font-size="28" text-anchor="middle">-150</text>
<text x="231" y="1555.5" font-size="28" text-anchor="middle">-100</text>
<text x="350" y="1555.5" font-size="28" text-anchor="middle">-50</text>
<text x="588.5" y="1555.5" font-size="28" text-anchor="middle">50</text>
<text x="706" y="1555.5" font-size="28" text-anchor="middle">100</text>
<text x="604.5" y="1581.8" font-size="31.2">Em (mV)</text>
<text x="553" y="1198.5" font-size="30.8">pA</text>
<polyline points="163.4,1547.83 164.9,1548.05 166.4,1547.83 167.9,1546.72 169.4,1547.15 170.89,1546.43 172.39,1546.39 173.89,1547.1 175.39,1546.49 176.89,1546.58 178.39,1546.28 179.89,1546.01 181.39,1545.75 182.88,1545.8 184.38,1546.28 185.88,1545.91 187.38,1545.42 188.88,1545.08 190.38,1545.21 191.88,1545.64 193.38,1545.25 194.87,1545.44 196.37,1545.54 197.87,1544.64 199.37,1545.25 200.87,1541.42 202.37,1542.3 203.87,1541.48 205.37,1541.53 206.87,1542.31 208.36,1541.55 209.86,1541.34 211.36,1542.1 212.86,1541.72 214.36,1542.03 215.86,1541.4 217.36,1541.5 218.86,1542.02 220.35,1541.45 221.85,1542.01 223.35,1541.03 224.85,1541.78 226.35,1540.97 227.85,1541.39 229.35,1540.75 230.85,1540.95 232.34,1541.86 233.84,1541.27 235.34,1541.69 236.84,1541.01 238.34,1541.13 239.84,1540.83 241.34,1541.37 242.84,1541.74 244.33,1541.32 245.83,1541.16 247.33,1541.82 248.83,1541.79 250.33,1541.52 251.83,1540.81 253.33,1541.47 254.83,1541.26 256.33,1541.88 257.82,1541.17 259.32,1541.54 260.82,1541.5 262.32,1541.2 263.82,1541.38 265.32,1541.57 266.82,1541.85 268.32,1541.36 269.81,1541.2 271.31,1541.93 272.81,1540.83 274.31,1541.76 275.81,1541.58 277.31,1541.42 278.81,1541.28 280.31,1541.64 281.8,1541.8 283.3,1541.6 284.8,1541.61 286.3,1540.74 287.8,1541.07 289.3,1540.83 290.8,1541.79 292.3,1541.69 293.8,1540.77 295.29,1541.28 296.79,1541.24 298.29,1540.57 299.79,1540.95 301.29,1541.34 302.79,1541.17 304.29,1540.7 305.79,1541.23 307.28,1540.62 308.78,1540.87 310.28,1540.67 311.78,1541.28 313.28,1540.82 314.78,1540.94 316.28,1540.72 317.78,1540.29 319.27,1540.91 320.77,1540.53 322.27,1540.42 323.77,1539.83 325.27,1539.6 326.77,1540 328.27,1540.2 329.77,1540.06 331.27,1539.41 332.76,1539.04 334.26,1539.37 335.76,1539.68 337.26,1538.69 338.76,1539.25 340.26,1538.43 341.76,1538.45 343.26,1537.99 344.75,1538.12 346.25,1538.06 347.75,1538.6 349.25,1538.42 350.75,1537.31 352.25,1537.27 353.75,1537.84 355.25,1536.74 356.74,1536.69 358.24,1536.62 359.74,1536 361.24,1535.96 362.74,1535.89 364.24,1535.65 365.74,1536.1 367.24,1535.01 368.73,1534.68 370.23,1535.26 371.73,1534.43 373.23,1534.62 374.73,1534.09 376.23,1533.97 377.73,1533.11 379.23,1532.61 380.73,1535.51 382.22,1534.85 383.72,1534.62 385.22,1534.41 386.72,1534.16 388.22,1533.23 389.72,1532.97 391.22,1533.26 392.72,1532.41 394.21,1531.73 395.71,1531.74 397.21,1530.89 398.71,1531.09 400.21,1529.79 401.71,1530.29 403.21,1529.54 404.71,1528.83 406.2,1529.07 407.7,1527.78 409.2,1527.28 410.7,1526.58 412.2,1526.65 413.7,1526.38 415.2,1525.77 416.7,1524.92 418.2,1524.85 419.69,1523.47 421.19,1523.14 422.69,1522.97 424.19,1522.78 425.69,1521.78 427.19,1521.25 428.69,1520.73 430.19,1519.65 431.68,1519.67 433.18,1518.78 434.68,1517.64 436.18,1517.03 437.68,1516.85 439.18,1515.61 440.68,1514.71 442.18,1514.81 443.67,1513.68 445.17,1512.92 446.67,1512.35 448.17,1511.87 449.67,1510.17 451.17,1509.63 452.67,1508.5 454.17,1508.1 455.67,1507.38 457.16,1506.97 458.66,1505.89 460.16,1504.92 461.66,1503.84 463.16,1503.15 464.66,1501.89 466.16,1501.66 467.66,1500.67 469.15,1499.78 470.65,1498 472.15,1497.66 473.65,1496.78 475.15,1495.48 476.65,1494.94 478.15,1493.92 479.65,1492.7 481.14,1491.74 482.64,1490.46 484.14,1489.66 485.64,1487.67 487.14,1487.25 488.64,1486.12 490.14,1484.87 491.64,1483.32 493.13,1481.9 494.63,1481.36 496.13,1480.43 497.63,1478.55 499.13,1477.25 500.63,1477.52 502.13,1476.1 503.63,1475.52 505.13,1474.58 506.62,1473.06 508.12,1471.2 509.62,1470.26 511.12,1468.14 512.62,1467.67 514.12,1465.65 515.62,1463.83 517.12,1463.14 518.61,1461.08 520.11,1459.76 521.61,1457.99 523.11,1456.92 524.61,1455.5 526.11,1454.22 527.61,1451.7 529.11,1451.03 530.6,1448.52 532.1,1446.99 533.6,1445.78 535.1,1443.72 536.6,1441.96 538.1,1440.48 539.6,1438.26 541.1,1437.13 542.6,1434.59 544.09,1433.47 545.59,1431.53 547.09,1429.28 548.59,1426.71 550.09,1425.62 551.59,1422.71 553.09,1421.24 554.59,1419.07 556.08,1416.53 557.58,1415.08 559.08,1413.03 560.58,1410.67 562.08,1408.22 563.58,1406.1 565.08,1403.9 566.58,1401.15 568.07,1399.56 569.57,1397.33 571.07,1394.68 572.57,1392.41 574.07,1389.17 575.57,1387.43 577.07,1383.77 578.57,1381.67 580.07,1378.62 581.56,1376.34 583.06,1373.92 584.56,1371.21 586.06,1368.13 587.56,1365.2 589.06,1362.18 590.56,1359.56 592.06,1356.52 593.55,1353.48 595.05,1351.17 596.55,1347.91 598.05,1344.8 599.55,1341.47 601.05,1339 602.55,1335.29 604.05,1332.25 605.54,1329.45 607.04,1326.44 608.54,1323.57 610.04,1320.07 611.54,1317.07 613.04,1313.77 614.54,1310.24 616.04,1306.93 617.53,1302.81 619.03,1299.64 620.53,1296.04 622.03,1293.68 623.53,1290.11 625.03,1286.59 626.53,1282.71 628.03,1279.38 629.53,1275.68 631.02,1272.76 632.52,1269.69 634.02,1265.34 635.52,1261.49 637.02,1258.09 638.52,1254.73 640.02,1251.79 641.52,1248.06 643.01,1244.01 644.51,1239.93 646.01,1236.26 647.51,1232.62 649.01,1229.66 650.51,1224.05 652.01,1220.92 653.51,1217.04 655,1213.1 656.5,1208.89 658,1205.46 659.5,1200.76 661,1197.31" fill="none" stroke="#000" stroke-width="4.8" stroke-linejoin="round" stroke-linecap="round"/>
<polyline points="163.4,1545.83 164.9,1545.18 166.4,1545.56 167.9,1545.33 169.4,1544.81 170.89,1544.71 172.39,1544.29 173.89,1545.21 175.39,1544.84 176.89,1544.99 178.39,1544.9 179.89,1544.13 181.39,1544.37 182.88,1543.84 184.38,1544.24 185.88,1544.18 187.38,1543.23 188.88,1542.99 190.38,1543.14 191.88,1543.5 193.38,1543.17 194.87,1542.65 196.37,1543.57 197.87,1543.44 199.37,1542.99 200.87,1542.42 202.37,1543.38 203.87,1542.9 205.37,1542.29 206.87,1542.54 208.36,1542.86 209.86,1543.13 211.36,1542.61 212.86,1542.76 214.36,1542.2 215.86,1542.22 217.36,1542.98 218.86,1542.33 220.35,1541.97 221.85,1542.53 223.35,1541.96 224.85,1542.03 226.35,1542.32 227.85,1542.46 229.35,1542.51 230.85,1542.58 232.34,1542.26 233.84,1541.8 235.34,1542.58 236.84,1541.78 238.34,1542.27 239.84,1542.19 241.34,1542.51 242.84,1542.56 244.33,1541.99 245.83,1542.49 247.33,1542.54 248.83,1542.28 250.33,1541.89 251.83,1542.81 253.33,1542.44 254.83,1541.8 256.33,1542.02 257.82,1542.92 259.32,1542.02 260.82,1542.22 262.32,1542.7 263.82,1542.74 265.32,1542.52 266.82,1542.65 268.32,1541.81 269.81,1541.87 271.31,1542.93 272.81,1542.72 274.31,1541.81 275.81,1541.82 277.31,1542.04 278.81,1542.86 280.31,1542 281.8,1542.54 283.3,1542.84 284.8,1542.48 286.3,1542.8 287.8,1542 289.3,1541.85 290.8,1541.67 292.3,1542.53 293.8,1541.72 295.29,1542.74 296.79,1542.4 298.29,1541.74 299.79,1542.45 301.29,1541.64 302.79,1542.02 304.29,1541.49 305.79,1542.26 307.28,1542.34 308.78,1542.32 310.28,1541.16 311.78,1542.12 313.28,1541.71 314.78,1541.96 316.28,1541.51 317.78,1541.58 319.27,1541.47 320.77,1541.64 322.27,1540.68 323.77,1540.57 325.27,1541.06 326.77,1540.66 328.27,1540.69 329.77,1540.11 331.27,1540.89 332.76,1539.9 334.26,1540.75 335.76,1540.6 337.26,1540.05 338.76,1539.51 340.26,1540 341.76,1539.32 343.26,1539.44 344.75,1538.9 346.25,1539.78 347.75,1539.09 349.25,1538.68 350.75,1538.19 352.25,1538.77 353.75,1538.72 355.25,1538.52 356.74,1537.42 358.24,1537.53 359.74,1537.24 361.24,1537.56 362.74,1536.6 364.24,1536.91 365.74,1537.11 367.24,1536.61 368.73,1535.44 370.23,1535.26 371.73,1535.03 373.23,1535.45 374.73,1535.05 376.23,1534.66 377.73,1534.28 379.23,1533.91 380.73,1533.84 382.22,1533.56 383.72,1533.55 385.22,1532.99 386.72,1532.71 388.22,1532.5 389.72,1532.04 391.22,1531.52 392.72,1530.32 394.21,1530.71 395.71,1530.51 397.21,1529.6 398.71,1529.72 400.21,1528.45 401.71,1528.93 403.21,1527.89 404.71,1527.75 406.2,1526.74 407.7,1526.33 409.2,1525.9 410.7,1525.38 412.2,1524.6 413.7,1524.51 415.2,1524.63 416.7,1523.71 418.2,1523.5 419.69,1522.75 421.19,1522.27 422.69,1521.89 424.19,1521.02 425.69,1519.85 427.19,1519.22 428.69,1518.8 430.19,1517.7 431.68,1517.32 433.18,1517.46 434.68,1516.84 436.18,1515.46 437.68,1515.31 439.18,1514.62 440.68,1514.05 442.18,1513.22 443.67,1512.18 445.17,1510.92 446.67,1511.04 448.17,1509.66 449.67,1509.26 451.17,1508.16 452.67,1507.56 454.17,1507.27 455.67,1505.47 457.16,1505.08 458.66,1504.37 460.16,1503.38 461.66,1502.98 463.16,1501.45 464.66,1501.16 466.16,1499.98 467.66,1499.38 469.15,1497.38 470.65,1496.58 472.15,1495.7 473.65,1495.46 475.15,1493.39 476.65,1492.68 478.15,1492.2 479.65,1491.49 481.14,1489.46 482.64,1488.71 484.14,1487.93 485.64,1486.84 487.14,1485.8 488.64,1484.68 490.14,1482.94 491.64,1481.79 493.13,1480.35 494.63,1479.96 496.13,1478.19 497.63,1477.04 499.13,1476.65 500.63,1475.02 502.13,1473.7 503.63,1472.5 505.13,1471.13 506.62,1469.93 508.12,1468.13 509.62,1466.5 511.12,1465.13 512.62,1463.68 514.12,1462.69 515.62,1461 517.12,1459.52 518.61,1458.51 520.11,1457.59 521.61,1455.74 523.11,1453.71 524.61,1452.76 526.11,1450.47 527.61,1448.78 529.11,1447.4 530.6,1445.88 532.1,1444.55 533.6,1442.56 535.1,1441.18 536.6,1438.68 538.1,1437.92 539.6,1435.41 541.1,1434.18 542.6,1431.37 544.09,1430.46 545.59,1427.83 547.09,1426.66 548.59,1424.64 550.09,1422.49 551.59,1420.01 553.09,1417.64 554.59,1415.79 556.08,1414.54 557.58,1411.52 559.08,1409.95 560.58,1407.67 562.08,1405.54 563.58,1402.7 565.08,1400.37 566.58,1397.99 568.07,1396.7 569.57,1393.6 571.07,1391.5 572.57,1388.94 574.07,1386.04 575.57,1383.32 577.07,1380.71 578.57,1379.12 580.07,1375.62 581.56,1373.95 583.06,1370.53 584.56,1368.23 586.06,1364.76 587.56,1362.73 589.06,1359.25 590.56,1356.52 592.06,1353.81 593.55,1350.38 595.05,1347.58 596.55,1345.25 598.05,1341.62 599.55,1338.69 601.05,1336.07 602.55,1332.32 604.05,1329.16 605.54,1326.04 607.04,1323.06 608.54,1319.84 610.04,1316.95 611.54,1313.5 613.04,1310.71 614.54,1306.44 616.04,1303.86 617.53,1300.74 619.03,1296.67 620.53,1293.06 622.03,1290.17 623.53,1286.39 625.03,1283.38 626.53,1280.25 628.03,1276.06 629.53,1272.62 631.02,1269.57 632.52,1265.71 634.02,1262.25 635.52,1258.97 637.02,1255.02 638.52,1251.39 640.02,1248.15 641.52,1244.66 643.01,1241.59 644.51,1237.47 646.01,1233.22 647.51,1229.71 649.01,1226.62 650.51,1222.66 652.01,1219.27 653.51,1215.6 655,1211.67 656.5,1206.95 658,1204.11 659.5,1199.73 661,1195.81" fill="none" stroke="#55a0fb" stroke-width="4.8" stroke-linejoin="round" stroke-linecap="round"/>
<polyline points="163.4,1536.96 164.4,1536.57 165.4,1536.4 166.4,1537.14 167.4,1536.27 168.4,1536.03 169.4,1536.17 170.39,1536.87 171.39,1536.23 172.39,1536.47 173.39,1535.6 174.39,1535.97 175.39,1535.72 176.39,1535.51 177.39,1535.97 178.39,1535.53 179.39,1535.16 180.39,1536.11 181.39,1535.43 182.38,1534.99 183.38,1534.7 184.38,1535.39 185.38,1535.15 186.38,1534.48 187.38,1534.94 188.38,1535.18 189.38,1534.86 190.38,1534.42 191.38,1534.66 192.38,1534.71 193.38,1534.69 194.38,1534 195.37,1534.72 196.37,1534.81 197.37,1534.49 198.37,1534.55 199.37,1533.89 200.37,1534.46 201.37,1533.52 202.37,1533.5 203.37,1533.87 204.37,1534.16 205.37,1533.1 206.37,1533.19 207.36,1532.9 208.36,1533.31 209.36,1532.88 210.36,1532.87 211.36,1533.47 212.36,1533.2 213.36,1533.55 214.36,1532.84 215.36,1533.1 216.36,1532.23 217.36,1533.28 218.36,1532.35 219.36,1532.58 220.35,1532.55 221.35,1533 222.35,1532.39 223.35,1532.92 224.35,1532.4 225.35,1531.85 226.35,1532.52 227.35,1531.69 228.35,1532.58 229.35,1531.86 230.35,1531.52 231.35,1532.33 232.34,1531.5 233.34,1531.54 234.34,1531.39 235.34,1531.72 236.34,1530.88 237.34,1531.23 238.34,1530.91 239.34,1531.64 240.34,1530.58 241.34,1531.25 242.34,1530.76 243.34,1530.93 244.33,1531 245.33,1531.11 246.33,1530.36 247.33,1530.42 248.33,1530.21 249.33,1531.15 250.33,1530.12 251.33,1530.04 252.33,1530.44 253.33,1530.44 254.33,1530.75 255.33,1529.69 256.33,1529.84 257.32,1529.69 258.32,1530.13 259.32,1529.91 260.32,1529.8 261.32,1530.31 262.32,1529.97 263.32,1530.15 264.32,1530.2 265.32,1529.32 266.32,1530.06 267.32,1529.36 268.32,1528.87 269.31,1529.84 270.31,1528.81 271.31,1528.64 272.31,1528.91 273.31,1528.85 274.31,1529.6 275.31,1529.42 276.31,1528.82 277.31,1528.89 278.31,1529.21 279.31,1529.1 280.31,1528.86 281.31,1528.63 282.3,1528.09 283.3,1528.18 284.3,1528.62 285.3,1528.47 286.3,1528.67 287.3,1528.73 288.3,1528.74 289.3,1527.76 290.3,1527.56 291.3,1528.48 292.3,1528.03 293.3,1527.5 294.29,1528.06 295.29,1527.47 296.29,1527.39 297.29,1527.48 298.29,1527.61 299.29,1527.74 300.29,1526.95 301.29,1527.69 302.29,1527.49 303.29,1527.25 304.29,1527.43 305.29,1527.52 306.29,1526.51 307.28,1527.01 308.28,1527.2 309.28,1527.17 310.28,1527.04 311.28,1526.42 312.28,1527.29 313.28,1527.02 314.28,1526.3 315.28,1526.48 316.28,1527.05 317.28,1526.09 318.28,1526.27 319.27,1526.87 320.27,1526.74 321.27,1525.88 322.27,1526.42 323.27,1525.91 324.27,1526.21 325.27,1526.27 326.27,1525.45 327.27,1525.5 328.27,1525.43 329.27,1525.43 330.27,1525.09 331.27,1525.15 332.26,1525.41 333.26,1525.37 334.26,1524.89 335.26,1525.44 336.26,1525.81 337.26,1525.31 338.26,1524.98 339.26,1525.34 340.26,1524.95 341.26,1524.58 342.26,1524.88 343.26,1524.26 344.25,1524.99 345.25,1524.31 346.25,1524.5 347.25,1525.14 348.25,1524.85 349.25,1524.86 350.25,1524.57 351.25,1524.5 352.25,1524.52 353.25,1524.77 354.25,1523.78 355.25,1524.4 356.24,1523.78 357.24,1523.66 358.24,1524.27 359.24,1523.94 360.24,1524.17 361.24,1524.14 362.24,1523.73 363.24,1523.2 364.24,1522.91 365.24,1523.47 366.24,1523.63 367.24,1523.02 368.24,1522.71 369.23,1522.57 370.23,1522.7 371.23,1523.26 372.23,1522.36 373.23,1522.57 374.23,1522.54 375.23,1523.01 376.23,1523.27 377.23,1522.04 378.23,1522.09 379.23,1523 380.23,1522.98 381.22,1521.92 382.22,1522.08 383.22,1522.23 384.22,1521.92 385.22,1521.97 386.22,1521.97 387.22,1521.63 388.22,1521.32 389.22,1521.28 390.22,1521.31 391.22,1521.15 392.22,1521.72 393.22,1521.73 394.21,1521.14 395.21,1521.7 396.21,1521.55 397.21,1521.01 398.21,1521.12 399.21,1520.68 400.21,1521.5 401.21,1520.98 402.21,1520.29 403.21,1520.34 404.21,1520.91 405.21,1520.47 406.2,1520.79 407.2,1520.13 408.2,1520.74 409.2,1520.66 410.2,1519.74 411.2,1520.25 412.2,1519.7 413.2,1520.24 414.2,1520.28 415.2,1520.18 416.2,1519.43 417.2,1519.19 418.2,1519.79 419.19,1519.6 420.19,1519 421.19,1518.99 422.19,1519.37 423.19,1518.72 424.19,1519.27 425.19,1518.72 426.19,1518.66 427.19,1518.77 428.19,1518.82 429.19,1518.97 430.19,1518.05 431.18,1518.8 432.18,1518.11 433.18,1518.11 434.18,1518.44 435.18,1518.42 436.18,1518.24 437.18,1518.5 438.18,1517.58 439.18,1517.62 440.18,1517.95 441.18,1517.38 442.18,1517.17 443.18,1517.16 444.17,1517.73 445.17,1517.7 446.17,1517.48 447.17,1517.68 448.17,1517.39 449.17,1516.72 450.17,1516.64 451.17,1517.03 452.17,1516.14 453.17,1516.71 454.17,1515.99 455.17,1515.85 456.16,1516.31 457.16,1515.78 458.16,1516.62 459.16,1516.46 460.16,1515.87 461.16,1515.46 462.16,1515.26 463.16,1515.63 464.16,1515.55 465.16,1515.26 466.16,1515.59 467.16,1515.26 468.16,1515.46 469.15,1514.56 470.15,1514.41 471.15,1514.69 472.15,1514.71 473.15,1514.33 474.15,1514.72 475.15,1514.08 476.15,1514.09 477.15,1514.18 478.15,1514.36 479.15,1514.32 480.15,1513.74 481.14,1513.72 482.14,1514.19 483.14,1514.09 484.14,1513.6 485.14,1512.88 486.14,1513.19 487.14,1513.3 488.14,1512.76 489.14,1512.36 490.14,1513.38 491.14,1513.18 492.14,1512.13 493.13,1512.42 494.13,1512.49 495.13,1511.99 496.13,1511.6 497.13,1512.3 498.13,1512.2 499.13,1511.69 500.13,1511.15 501.13,1511.4 502.13,1510.92 503.13,1511.84 504.13,1510.62 505.13,1510.78 506.12,1511.24 507.12,1510.35 508.12,1510.19 509.12,1510.02 510.12,1510.01 511.12,1510.32 512.12,1510.56 513.12,1509.63 514.12,1509.51 515.12,1510.08 516.12,1509.55 517.12,1509.31 518.11,1508.92 519.11,1508.93 520.11,1509.66 521.11,1508.5 522.11,1508.54 523.11,1508.98 524.11,1509.02 525.11,1508.89 526.11,1508.23 527.11,1508.67 528.11,1508.11 529.11,1507.59 530.11,1507.65 531.1,1507.81 532.1,1507.68 533.1,1506.81 534.1,1506.74 535.1,1507.5 536.1,1506.33 537.1,1507.03 538.1,1506.31 539.1,1506.04 540.1,1505.9 541.1,1506 542.1,1506.46 543.09,1505.3 544.09,1505.98 545.09,1505.18 546.09,1504.84 547.09,1505.37 548.09,1504.72 549.09,1504.37 550.09,1504.48 551.09,1504.79 552.09,1504.67 553.09,1504.16 554.09,1503.31 555.09,1504.04 556.08,1503.68 557.08,1503.86 558.08,1503.74 559.08,1502.82 560.08,1504.24 561.08,1503.94 562.08,1501.55 563.08,1501.76 564.08,1501.62 565.08,1501.34 566.08,1501.26 567.08,1500 568.07,1500.28 569.07,1502.82 570.07,1500.63 571.07,1501.34 572.07,1502.15 573.07,1501.43 574.07,1499.18 575.07,1501.69 576.07,1501.02 577.07,1501.57 578.07,1500.32 579.07,1500.22 580.07,1500.25 581.06,1497.8 582.06,1499.2 583.06,1497.89 584.06,1499.52 585.06,1496.48 586.06,1497.89 587.06,1496.86 588.06,1498.58 589.06,1496.46 590.06,1498.23 591.06,1498.03 592.06,1497.93 593.05,1494.74 594.05,1497.71 595.05,1496.71 596.05,1496.21 597.05,1495.88 598.05,1493.23 599.05,1496.28 600.05,1494.76 601.05,1494.15 602.05,1493.45 603.05,1494.98 604.05,1494.74 605.04,1494.84 606.04,1491.97 607.04,1492.23 608.04,1491.62 609.04,1490.77 610.04,1491.42 611.04,1489.97 612.04,1492.79 613.04,1490.26 614.04,1489.37 615.04,1489.1 616.04,1491.53 617.04,1489.09 618.03,1489.88 619.03,1489.37 620.03,1490.7 621.03,1491.04 622.03,1488.19 623.03,1489.2 624.03,1489.97 625.03,1488 626.03,1489.43 627.03,1488.49 628.03,1486.51 629.03,1488.48 630.02,1486.99 631.02,1484.83 632.02,1486.46 633.02,1487.13 634.02,1485.59 635.02,1485.16 636.02,1484.59 637.02,1486.14 638.02,1484.98 639.02,1482.84 640.02,1483.15 641.02,1482.85 642.02,1484.92 643.01,1483.55 644.01,1480.95 645.01,1483.79 646.01,1479.96 647.01,1481.86 648.01,1480.9 649.01,1480.29 650.01,1476.01 651.01,1469.08 652.01,1473.27 653.01,1476.92 654.01,1477.84 655,1475.78 656,1474.9 657,1476.65 658,1476.53 659,1473.85 660,1476.16 661,1474.28" fill="none" stroke="#fe0000" stroke-width="4.8" stroke-linejoin="round" stroke-linecap="round"/>
<text x="663.5" y="1192.4" font-size="30" fill="#55a0fb">PE</text>
<text x="663.5" y="1227.3" font-size="30">Basal</text>
<text x="664.8" y="1489.2" font-size="30" fill="#fe0000">CBX</text>
<text x="757.2" y="1140.3" font-size="56" font-weight="bold">g</text>
<line x1="914.3" y1="1162.95" x2="914.3" y2="1310" stroke="#000" stroke-width="3.5" stroke-linecap="butt"/>
<line x1="914.3" y1="1341" x2="914.3" y2="1557" stroke="#000" stroke-width="3.5" stroke-linecap="butt"/>
<line x1="903" y1="1164.7" x2="914.3" y2="1164.7" stroke="#000" stroke-width="3.5" stroke-linecap="butt"/>
<text x="899.2" y="1175.7" font-size="30.8" text-anchor="end">300</text>
<line x1="903" y1="1221.2" x2="914.3" y2="1221.2" stroke="#000" stroke-width="3.5" stroke-linecap="butt"/>
<text x="899.2" y="1232.2" font-size="30.8" text-anchor="end">200</text>
<line x1="903" y1="1277" x2="914.3" y2="1277" stroke="#000" stroke-width="3.5" stroke-linecap="butt"/>
<text x="899.2" y="1288" font-size="30.8" text-anchor="end">100</text>
<line x1="903" y1="1340.8" x2="914.3" y2="1340.8" stroke="#000" stroke-width="3.5" stroke-linecap="butt"/>
<text x="899.2" y="1351.8" font-size="30.8" text-anchor="end">40</text>
<line x1="903" y1="1394.7" x2="914.3" y2="1394.7" stroke="#000" stroke-width="3.5" stroke-linecap="butt"/>
<text x="899.2" y="1405.7" font-size="30.8" text-anchor="end">30</text>
<line x1="903" y1="1448.3" x2="914.3" y2="1448.3" stroke="#000" stroke-width="3.5" stroke-linecap="butt"/>
<text x="899.2" y="1459.3" font-size="30.8" text-anchor="end">20</text>
<line x1="903" y1="1502.3" x2="914.3" y2="1502.3" stroke="#000" stroke-width="3.5" stroke-linecap="butt"/>
<text x="899.2" y="1513.3" font-size="30.8" text-anchor="end">10</text>
<line x1="903" y1="1557" x2="914.3" y2="1557" stroke="#000" stroke-width="3.5" stroke-linecap="butt"/>
<text x="899.2" y="1568" font-size="30.8" text-anchor="end">0</text>
<line x1="904.5" y1="1303" x2="924.5" y2="1321.5" stroke="#000" stroke-width="3.5" stroke-linecap="butt"/>
<line x1="904.5" y1="1328.5" x2="923.5" y2="1347.5" stroke="#000" stroke-width="3.5" stroke-linecap="butt"/>
<rect x="925.7" y="1253.7" width="46" height="57.8" fill="#fff"/>
<polyline points="925.7,1311.5 925.7,1253.7 971.7,1253.7 971.7,1311.5" fill="none" stroke="#000" stroke-width="3.5" stroke-linejoin="miter" stroke-linecap="butt"/>
<rect x="925.7" y="1340.5" width="46" height="216.5" fill="#fff"/>
<line x1="925.7" y1="1340.5" x2="925.7" y2="1557" stroke="#000" stroke-width="3.5" stroke-linecap="butt"/>
<line x1="971.7" y1="1340.5" x2="971.7" y2="1557" stroke="#000" stroke-width="3.5" stroke-linecap="butt"/>
<rect x="971.7" y="1280" width="46.3" height="31.5" fill="#55a1fd"/>
<polyline points="971.7,1311.5 971.7,1280 1018,1280 1018,1311.5" fill="none" stroke="#000" stroke-width="3.5" stroke-linejoin="miter" stroke-linecap="butt"/>
<rect x="971.7" y="1340.5" width="46.3" height="216.5" fill="#55a1fd"/>
<line x1="971.7" y1="1340.5" x2="971.7" y2="1557" stroke="#000" stroke-width="3.5" stroke-linecap="butt"/>
<line x1="1018" y1="1340.5" x2="1018" y2="1557" stroke="#000" stroke-width="3.5" stroke-linecap="butt"/>
<rect x="1204.2" y="1263" width="45.9" height="48.5" fill="#fff"/>
<polyline points="1204.2,1311.5 1204.2,1263 1250.1,1263 1250.1,1311.5" fill="none" stroke="#000" stroke-width="3.5" stroke-linejoin="miter" stroke-linecap="butt"/>
<rect x="1204.2" y="1340.5" width="45.9" height="216.5" fill="#fff"/>
<line x1="1204.2" y1="1340.5" x2="1204.2" y2="1557" stroke="#000" stroke-width="3.5" stroke-linecap="butt"/>
<line x1="1250.1" y1="1340.5" x2="1250.1" y2="1557" stroke="#000" stroke-width="3.5" stroke-linecap="butt"/>
<rect x="1250.1" y="1266.5" width="46.5" height="45" fill="#55a1fd"/>
<polyline points="1250.1,1311.5 1250.1,1266.5 1296.6,1266.5 1296.6,1311.5" fill="none" stroke="#000" stroke-width="3.5" stroke-linejoin="miter" stroke-linecap="butt"/>
<rect x="1250.1" y="1340.5" width="46.5" height="216.5" fill="#55a1fd"/>
<line x1="1250.1" y1="1340.5" x2="1250.1" y2="1557" stroke="#000" stroke-width="3.5" stroke-linecap="butt"/>
<line x1="1296.6" y1="1340.5" x2="1296.6" y2="1557" stroke="#000" stroke-width="3.5" stroke-linecap="butt"/>
<rect x="1062.3" y="1553.3" width="45.8" height="3.7" fill="#fff"/>
<polyline points="1062.3,1557 1062.3,1553.3 1108.1,1553.3 1108.1,1557" fill="none" stroke="#000" stroke-width="3.5" stroke-linejoin="miter" stroke-linecap="butt"/>
<rect x="1108.1" y="1462.5" width="46" height="94.5" fill="#55a1fd"/>
<polyline points="1108.1,1557 1108.1,1462.5 1154.1,1462.5 1154.1,1557" fill="none" stroke="#000" stroke-width="3.5" stroke-linejoin="miter" stroke-linecap="butt"/>
<line x1="902" y1="1557" x2="1308.5" y2="1557" stroke="#000" stroke-width="3.5" stroke-linecap="butt"/>
<line x1="971.7" y1="1557" x2="971.7" y2="1568.5" stroke="#000" stroke-width="3.5" stroke-linecap="butt"/>
<line x1="1110" y1="1557" x2="1110" y2="1568.5" stroke="#000" stroke-width="3.5" stroke-linecap="butt"/>
<line x1="1248" y1="1557" x2="1248" y2="1568.5" stroke="#000" stroke-width="3.5" stroke-linecap="butt"/>
<line x1="948.8" y1="1253.7" x2="948.8" y2="1230.6" stroke="#000" stroke-width="3.5" stroke-linecap="butt"/>
<line x1="937.4" y1="1230.6" x2="960.2" y2="1230.6" stroke="#000" stroke-width="3.5" stroke-linecap="butt"/>
<line x1="995" y1="1280" x2="995" y2="1268" stroke="#000" stroke-width="3.5" stroke-linecap="butt"/>
<line x1="982.7" y1="1268" x2="1007.3" y2="1268" stroke="#000" stroke-width="3.5" stroke-linecap="butt"/>
<line x1="1131.2" y1="1462.5" x2="1131.2" y2="1430.2" stroke="#000" stroke-width="3.5" stroke-linecap="butt"/>
<line x1="1119.7" y1="1430.2" x2="1142.7" y2="1430.2" stroke="#000" stroke-width="3.5" stroke-linecap="butt"/>
<line x1="1227.1" y1="1263" x2="1227.1" y2="1251.5" stroke="#000" stroke-width="3.5" stroke-linecap="butt"/>
<line x1="1216.1" y1="1251.5" x2="1238.1" y2="1251.5" stroke="#000" stroke-width="3.5" stroke-linecap="butt"/>
<line x1="1274.2" y1="1266.5" x2="1274.2" y2="1256" stroke="#000" stroke-width="3.5" stroke-linecap="butt"/>
<line x1="1263.2" y1="1256" x2="1285.2" y2="1256" stroke="#000" stroke-width="3.5" stroke-linecap="butt"/>
<circle cx="948.9" cy="1172.3" r="8.2" fill="#000"/>
<circle cx="948.9" cy="1201.5" r="8.2" fill="#000"/>
<circle cx="948.9" cy="1254.2" r="8.2" fill="#000"/>
<circle cx="937.5" cy="1288.5" r="8.2" fill="#000"/>
<circle cx="960.5" cy="1291" r="8.2" fill="#000"/>
<circle cx="948.8" cy="1353.3" r="8.2" fill="#000"/>
<rect x="986.65" y="1216.45" width="15.7" height="15.7" fill="#000"/>
<rect x="975.15" y="1264.15" width="15.7" height="15.7" fill="#000"/>
<rect x="998.95" y="1275.15" width="15.7" height="15.7" fill="#000"/>
<rect x="981.15" y="1285.15" width="15.7" height="15.7" fill="#000"/>
<rect x="993.15" y="1287.65" width="15.7" height="15.7" fill="#000"/>
<rect x="987.05" y="1344.15" width="15.7" height="15.7" fill="#000"/>
<circle cx="1073.6" cy="1550.5" r="7.7" fill="#000"/>
<circle cx="1097.3" cy="1550" r="7.7" fill="#000"/>
<circle cx="1081.9" cy="1557.1" r="7.7" fill="#000"/>
<circle cx="1089" cy="1557.7" r="7.7" fill="#000"/>
<circle cx="1097.3" cy="1555" r="7.7" fill="#000"/>
<circle cx="1073.6" cy="1558.2" r="7.7" fill="#000"/>
<rect x="1123.25" y="1448.75" width="15.7" height="15.7" fill="#000"/>
<rect x="1111.65" y="1486.85" width="15.7" height="15.7" fill="#000"/>
<rect x="1135.05" y="1484.75" width="15.7" height="15.7" fill="#000"/>
<rect x="1129.25" y="1499.85" width="15.7" height="15.7" fill="#000"/>
<rect x="1117.65" y="1507.35" width="15.7" height="15.7" fill="#000"/>
<rect x="1123.15" y="1299.65" width="15.7" height="15.7" fill="#000"/>
<circle cx="1227.4" cy="1197.2" r="8.2" fill="#000"/>
<circle cx="1215.2" cy="1234.5" r="8.2" fill="#000"/>
<circle cx="1221" cy="1239.4" r="8.2" fill="#000"/>
<circle cx="1239.1" cy="1235" r="8.2" fill="#000"/>
<circle cx="1239.1" cy="1253" r="8.2" fill="#000"/>
<circle cx="1204.2" cy="1270.6" r="8.2" fill="#000"/>
<circle cx="1216" cy="1289" r="8.2" fill="#000"/>
<circle cx="1238.6" cy="1301.4" r="8.2" fill="#000"/>
<circle cx="1215.4" cy="1402.3" r="8.2" fill="#000"/>
<circle cx="1239" cy="1382.6" r="8.2" fill="#000"/>
<rect x="1265.95" y="1180.75" width="15.7" height="15.7" fill="#000"/>
<rect x="1254.05" y="1226.65" width="15.7" height="15.7" fill="#000"/>
<rect x="1277.65" y="1230.05" width="15.7" height="15.7" fill="#000"/>
<rect x="1260.05" y="1240.35" width="15.7" height="15.7" fill="#000"/>
<rect x="1273.75" y="1242.25" width="15.7" height="15.7" fill="#000"/>
<rect x="1277.15" y="1251.05" width="15.7" height="15.7" fill="#000"/>
<rect x="1254.15" y="1270.35" width="15.7" height="15.7" fill="#000"/>
<rect x="1277.15" y="1292.05" width="15.7" height="15.7" fill="#000"/>
<rect x="1254.65" y="1296.45" width="15.7" height="15.7" fill="#000"/>
<rect x="1265.95" y="1300.85" width="15.7" height="15.7" fill="#000"/>
<rect x="1265.75" y="1401.35" width="15.7" height="15.7" fill="#000"/>
<text x="982.2" y="1173.9" font-size="30.5" text-anchor="middle">(6)</text>
<text x="1111" y="1173.3" font-size="30.5" text-anchor="middle">(6)</text>
<text x="1257.3" y="1173.3" font-size="30.5" text-anchor="middle">(11)</text>
<polyline points="948.1,1159.7 948.1,1141.6 1081.6,1141.6" fill="none" stroke="#000" stroke-width="2.8" stroke-linejoin="miter" stroke-linecap="butt"/>
<line x1="1081.6" y1="1125.2" x2="1081.6" y2="1512.6" stroke="#000" stroke-width="2.8" stroke-linecap="butt"/>
<polyline points="1081.6,1126.6 1228.5,1126.6 1228.5,1183.6" fill="none" stroke="#000" stroke-width="2.8" stroke-linejoin="miter" stroke-linecap="butt"/>
<polyline points="1081.6,1266.4 1131,1266.4 1131,1285" fill="none" stroke="#000" stroke-width="2.8" stroke-linejoin="miter" stroke-linecap="butt"/>
<text x="974" y="1138" font-size="18.4" font-style="italic">p=0.0012</text>
<text x="1119.5" y="1124" font-size="18.4" font-style="italic">p=0.0012</text>
<text x="1084.4" y="1260.3" font-size="18.4" font-style="italic">p=0.0187</text>
<text x="812" y="1359.5" font-size="30.5" text-anchor="middle" transform="rotate(-90 812 1359.5)">Current density at +80 mV</text>
<text x="845.5" y="1360.5" font-size="30.5" text-anchor="middle" transform="rotate(-90 845.5 1360.5)">(pA/pF)</text>
<rect x="1364.35" y="1163.75" width="41.5" height="21.1" fill="#fff" stroke="#000" stroke-width="3.5"/>
<rect x="1364.35" y="1207.25" width="41.5" height="20.5" fill="#55a1fd" stroke="#000" stroke-width="3.5"/>
<text x="1420.5" y="1185.4" font-size="30">basal</text>
<text x="1420" y="1228" font-size="30">PE</text>
<text x="813.5" y="1601.7" font-size="36.5">RhoA</text>
<text x="975.8" y="1601.2" font-size="34" text-anchor="middle">G14V</text>
<text x="1112" y="1601.7" font-size="34" text-anchor="middle">G14V/</text>
<text x="1110.2" y="1637" font-size="34" text-anchor="middle">T37Y</text>
<text x="1260" y="1601.7" font-size="34" text-anchor="middle">G14V/</text>
<text x="1258.2" y="1637" font-size="34" text-anchor="middle">F39A</text>
</svg></body></html>
